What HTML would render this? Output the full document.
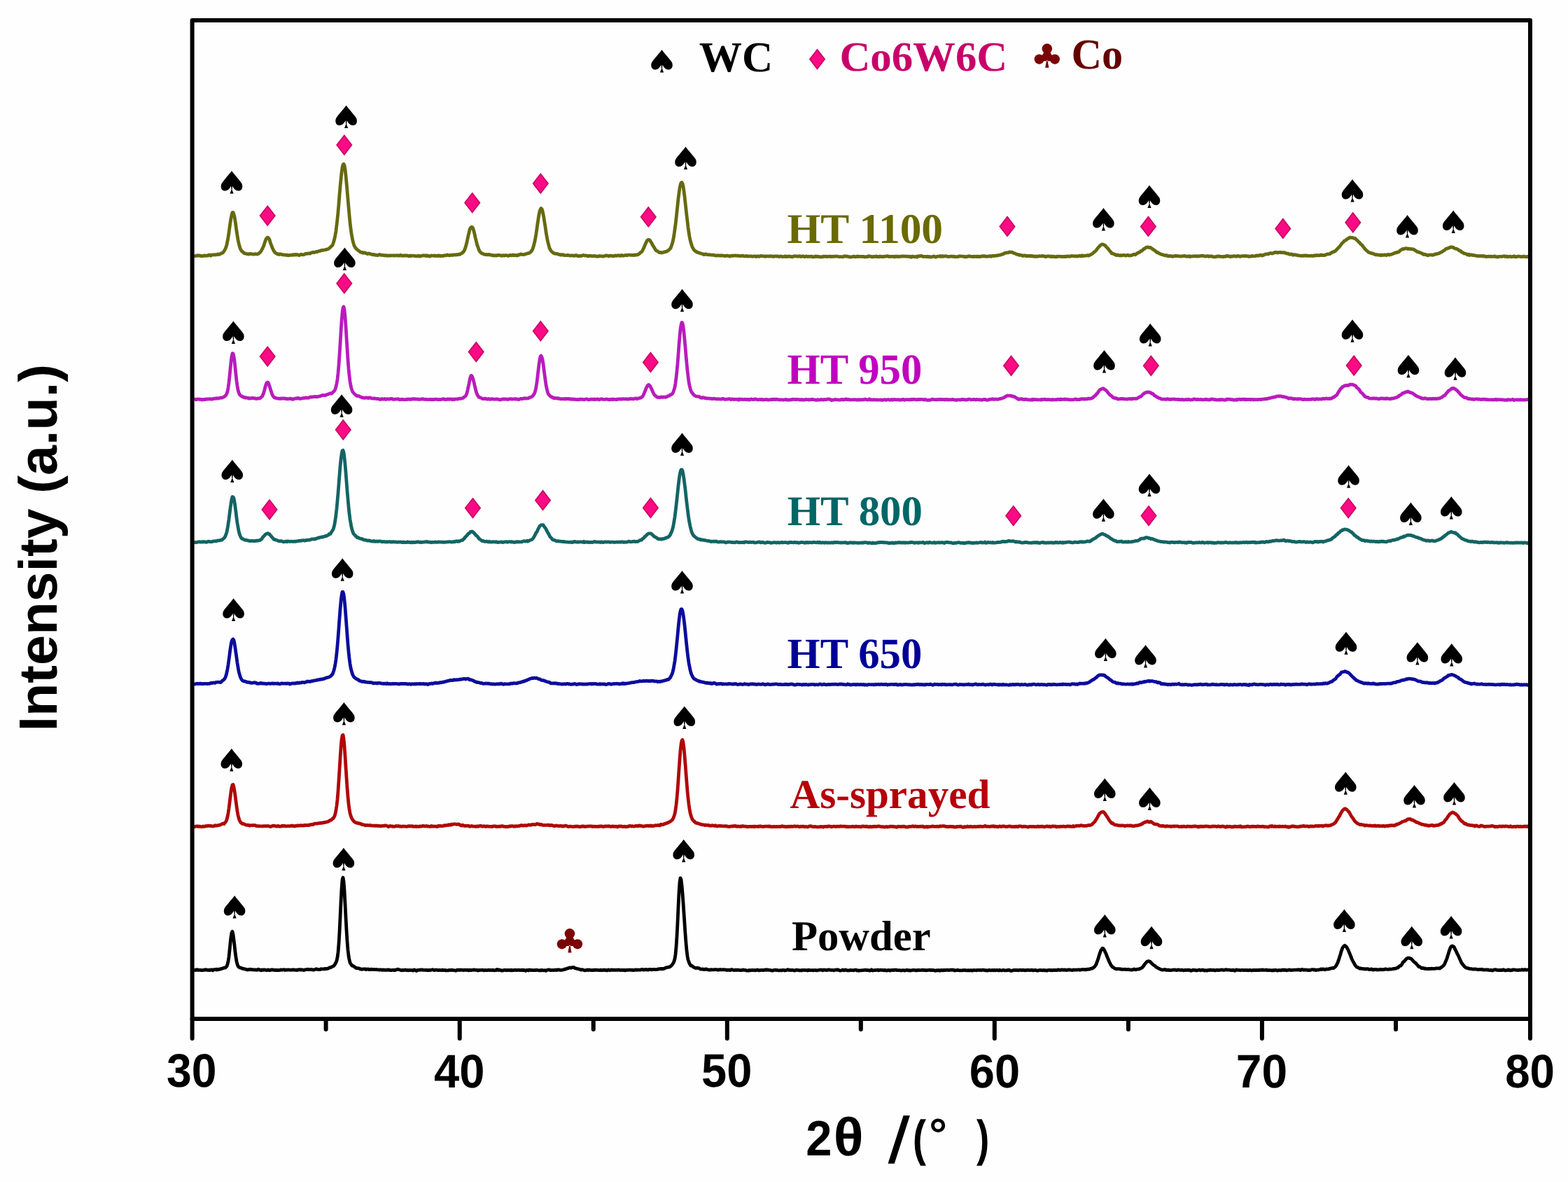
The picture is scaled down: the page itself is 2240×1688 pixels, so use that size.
<!DOCTYPE html>
<html><head><meta charset="utf-8"><title>XRD</title><style>html,body{margin:0;padding:0;background:#fff;overflow:hidden}svg{display:block}text{text-rendering:geometricPrecision}.ser{font-family:"Liberation Serif","Times New Roman",serif;font-weight:bold}.san{font-family:"Liberation Sans",Arial,sans-serif;font-weight:bold}</style></head><body>
<svg xmlns="http://www.w3.org/2000/svg" width="2240" height="1688" viewBox="0 0 2240 1688">
<rect width="2240" height="1688" fill="#fefefe"/>
<g fill="none" stroke-width="4.8" stroke-linejoin="round" stroke-linecap="round">
<path stroke="#666a10" d="M278,365.6 279,365.7 280,365.5 281,364.9 282,365.1 283,364.8 284,365.2 285,364.8 286,365.3 287,365.4 288,365.9 289,365.6 290,365.6 291,365.2 292,364.9 293,365.4 294,365.1 295,365.1 296,365.0 297,365.1 298,364.3 299,363.9 300,364.4 301,365.2 302,364.1 303,364.0 304,364.1 305,363.9 306,363.8 307,363.7 308,364.0 309,363.7 310,363.6 311,362.9 312,363.1 313,363.4 314,363.1 315,362.4 316,361.6 317,361.5 318,361.1 319,360.3 320,358.6 321,357.3 322,355.3 323,352.6 324,349.3 325,344.3 326,338.6 327,332.5 328,324.8 329,317.8 330,311.7 331,306.6 332,303.4 333,303.5 334,306.0 335,309.7 336,315.7 337,322.6 338,330.2 339,336.3 340,342.4 341,347.0 342,351.0 343,354.4 344,356.6 345,358.2 346,359.2 347,359.7 348,360.9 349,361.8 350,361.8 351,361.9 352,362.6 353,362.7 354,362.7 355,363.0 356,362.6 357,362.5 358,362.8 359,362.5 360,362.8 361,363.0 362,363.2 363,363.2 364,362.6 365,362.7 366,362.8 367,363.0 368,362.9 369,362.3 370,361.8 371,360.8 372,359.9 373,358.6 374,356.7 375,354.8 376,352.8 377,350.3 378,347.1 379,344.0 380,341.6 381,340.0 382,339.2 383,339.4 384,340.4 385,342.4 386,345.7 387,348.6 388,350.9 389,353.9 390,355.9 391,358.0 392,359.4 393,360.8 394,361.4 395,362.0 396,362.7 397,363.2 398,362.7 399,363.5 400,362.9 401,362.9 402,363.2 403,363.7 404,363.8 405,363.7 406,364.2 407,364.1 408,364.1 409,364.3 410,364.0 411,364.7 412,364.8 413,364.4 414,364.3 415,364.2 416,364.4 417,364.3 418,363.9 419,363.6 420,364.2 421,363.6 422,363.5 423,364.0 424,363.4 425,363.8 426,364.0 427,364.5 428,364.4 429,363.9 430,363.2 431,363.6 432,363.7 433,363.8 434,363.7 435,363.1 436,362.7 437,362.2 438,362.3 439,362.4 440,361.9 441,361.8 442,362.0 443,362.1 444,361.3 445,361.0 446,360.5 447,360.2 448,360.5 449,360.6 450,360.0 451,359.7 452,359.4 453,359.8 454,359.2 455,358.8 456,358.4 457,358.5 458,358.1 459,357.4 460,357.6 461,357.5 462,357.2 463,357.0 464,356.8 465,356.5 466,356.5 467,356.1 468,355.8 469,355.4 470,354.8 471,354.0 472,353.2 473,351.8 474,351.2 475,350.1 476,347.5 477,344.2 478,340.5 479,335.5 480,329.6 481,321.2 482,312.8 483,302.7 484,291.1 485,278.2 486,266.5 487,256.1 488,246.5 489,239.1 490,235.1 491,234.2 492,236.2 493,241.9 494,250.5 495,260.9 496,272.5 497,284.3 498,295.8 499,306.9 500,317.6 501,326.2 502,333.5 503,338.9 504,344.1 505,347.6 506,350.9 507,352.6 508,354.1 509,355.3 510,356.2 511,357.0 512,357.8 513,358.5 514,359.1 515,360.1 516,360.3 517,360.6 518,360.5 519,361.4 520,361.2 521,360.7 522,361.4 523,361.9 524,361.8 525,362.6 526,362.1 527,362.0 528,362.4 529,362.6 530,362.8 531,363.3 532,363.3 533,363.9 534,363.3 535,363.7 536,364.4 537,364.2 538,364.3 539,364.6 540,364.4 541,364.2 542,363.4 543,363.7 544,364.4 545,364.4 546,364.2 547,364.5 548,364.6 549,364.8 550,364.7 551,364.9 552,364.6 553,365.3 554,365.2 555,364.9 556,365.1 557,365.0 558,365.1 559,364.8 560,364.8 561,364.8 562,364.8 563,365.1 564,364.8 565,364.8 566,365.0 567,364.7 568,364.9 569,365.0 570,365.1 571,365.1 572,364.2 573,364.8 574,365.1 575,364.9 576,365.3 577,365.2 578,364.9 579,364.9 580,365.1 581,365.0 582,364.9 583,365.3 584,365.8 585,365.3 586,365.0 587,365.7 588,365.3 589,365.2 590,365.2 591,365.3 592,365.4 593,365.5 594,365.8 595,365.8 596,365.9 597,365.1 598,365.4 599,366.1 600,365.5 601,365.9 602,365.3 603,365.2 604,365.1 605,364.7 606,365.0 607,364.9 608,365.5 609,365.1 610,364.7 611,365.7 612,365.5 613,365.5 614,366.1 615,365.6 616,365.0 617,365.1 618,365.2 619,365.2 620,365.4 621,365.0 622,365.5 623,365.3 624,365.2 625,365.8 626,364.9 627,364.9 628,365.5 629,365.5 630,365.5 631,365.2 632,365.5 633,365.5 634,365.0 635,364.7 636,364.6 637,364.8 638,364.7 639,363.9 640,364.2 641,364.5 642,364.9 643,364.7 644,364.2 645,364.2 646,364.5 647,364.0 648,364.0 649,363.8 650,364.0 651,364.0 652,363.6 653,363.8 654,363.6 655,363.2 656,363.2 657,363.3 658,362.5 659,361.9 660,361.7 661,360.5 662,359.6 663,358.4 664,356.0 665,353.3 666,349.7 667,345.9 668,341.1 669,336.3 670,332.2 671,327.9 672,325.8 673,324.6 674,324.1 675,324.8 676,326.9 677,330.4 678,334.3 679,339.0 680,343.0 681,347.3 682,350.7 683,353.3 684,356.3 685,358.5 686,359.8 687,360.8 688,361.6 689,362.1 690,362.3 691,362.9 692,363.3 693,363.5 694,363.5 695,363.5 696,363.6 697,363.9 698,363.5 699,363.5 700,364.0 701,363.9 702,364.5 703,364.5 704,364.5 705,364.9 706,365.1 707,364.9 708,364.7 709,365.1 710,364.6 711,364.4 712,364.5 713,364.3 714,364.3 715,364.8 716,365.2 717,365.0 718,365.0 719,364.6 720,365.1 721,365.0 722,364.6 723,364.7 724,364.8 725,365.0 726,365.4 727,365.2 728,364.4 729,364.5 730,364.9 731,364.4 732,364.7 733,364.0 734,364.8 735,364.3 736,364.6 737,364.3 738,365.0 739,364.5 740,364.6 741,363.7 742,363.9 743,363.5 744,362.9 745,363.2 746,363.3 747,363.7 748,363.6 749,363.2 750,363.1 751,363.0 752,362.2 753,362.2 754,361.9 755,361.7 756,361.3 757,360.8 758,359.9 759,358.8 760,357.3 761,355.5 762,352.3 763,348.6 764,344.6 765,339.2 766,333.3 767,326.3 768,319.1 769,312.5 770,306.5 771,301.9 772,299.1 773,297.5 774,298.3 775,301.2 776,305.7 777,311.7 778,317.8 779,323.9 780,331.2 781,337.0 782,342.6 783,347.0 784,350.5 785,354.6 786,356.0 787,357.9 788,359.2 789,359.9 790,360.9 791,361.6 792,361.9 793,362.2 794,362.4 795,362.3 796,362.3 797,362.9 798,363.1 799,363.7 800,363.5 801,364.1 802,363.6 803,364.0 804,363.7 805,363.9 806,364.7 807,364.7 808,364.7 809,364.6 810,364.6 811,364.3 812,364.6 813,364.7 814,365.1 815,365.1 816,364.9 817,364.9 818,365.0 819,364.9 820,365.4 821,364.9 822,365.0 823,364.5 824,364.8 825,365.4 826,365.8 827,365.6 828,365.5 829,365.5 830,365.4 831,365.3 832,364.8 833,364.5 834,364.6 835,365.0 836,365.2 837,364.8 838,365.1 839,365.3 840,365.9 841,365.6 842,365.1 843,365.4 844,365.4 845,365.7 846,365.9 847,365.7 848,365.5 849,365.4 850,365.6 851,365.8 852,366.2 853,365.8 854,366.0 855,366.3 856,365.6 857,365.4 858,365.9 859,365.8 860,365.9 861,365.8 862,366.2 863,365.8 864,365.5 865,365.1 866,364.9 867,364.9 868,365.3 869,365.3 870,366.0 871,365.2 872,365.1 873,365.1 874,365.5 875,365.5 876,365.9 877,365.7 878,365.1 879,364.9 880,365.3 881,365.1 882,365.2 883,364.7 884,364.9 885,365.0 886,365.4 887,365.0 888,364.5 889,365.0 890,365.1 891,365.1 892,364.8 893,364.5 894,364.3 895,364.6 896,364.8 897,364.2 898,364.2 899,364.0 900,364.2 901,364.3 902,364.4 903,364.3 904,364.4 905,364.6 906,363.9 907,364.3 908,363.9 909,364.0 910,363.8 911,363.9 912,362.8 913,362.7 914,361.8 915,360.5 916,360.2 917,359.1 918,357.6 919,355.4 920,353.2 921,351.0 922,348.3 923,346.5 924,344.3 925,343.0 926,342.5 927,342.4 928,342.8 929,344.0 930,345.8 931,347.2 932,349.3 933,351.1 934,352.7 935,354.2 936,355.9 937,357.5 938,358.0 939,358.7 940,359.2 941,360.0 942,360.6 943,360.6 944,360.3 945,361.0 946,360.8 947,360.6 948,360.2 949,359.7 950,360.0 951,359.3 952,359.0 953,359.0 954,357.9 955,357.4 956,356.5 957,355.4 958,354.3 959,351.6 960,349.0 961,345.5 962,341.1 963,335.0 964,327.8 965,320.6 966,312.1 967,302.2 968,293.3 969,283.6 970,275.7 971,268.5 972,263.9 973,261.1 974,260.6 975,262.1 976,266.1 977,272.9 978,280.5 979,289.8 980,298.8 981,307.8 982,316.0 983,324.6 984,331.6 985,337.9 986,342.9 987,346.5 988,349.9 989,352.8 990,354.4 991,356.3 992,357.6 993,358.4 994,358.7 995,360.0 996,359.9 997,360.5 998,361.0 999,361.2 1000,361.6 1001,362.0 1002,362.2 1003,362.5 1004,362.7 1005,363.5 1006,363.6 1007,363.1 1008,362.8 1009,363.1 1010,363.7 1011,363.7 1012,363.8 1013,363.7 1014,363.7 1015,364.2 1016,364.1 1017,364.1 1018,364.1 1019,364.4 1020,364.2 1021,364.8 1022,364.8 1023,365.1 1024,364.8 1025,364.7 1026,365.0 1027,364.8 1028,364.8 1029,365.2 1030,364.8 1031,365.1 1032,364.9 1033,365.2 1034,365.3 1035,365.4 1036,365.7 1037,365.1 1038,365.2 1039,365.0 1040,365.4 1041,365.4 1042,366.1 1043,366.0 1044,365.4 1045,365.4 1046,365.0 1047,365.3 1048,365.2 1049,365.0 1050,364.8 1051,365.2 1052,365.2 1053,365.0 1054,365.4 1055,365.4 1056,365.2 1057,365.6 1058,365.6 1059,365.4 1060,365.1 1061,365.1 1062,365.5 1063,365.9 1064,365.8 1065,366.0 1066,365.6 1067,365.5 1068,366.1 1069,365.9 1070,365.9 1071,366.0 1072,365.8 1073,365.8 1074,366.1 1075,366.3 1076,366.2 1077,365.8 1078,365.9 1079,366.0 1080,366.5 1081,366.1 1082,365.9 1083,365.9 1084,366.4 1085,366.0 1086,365.9 1087,365.5 1088,365.5 1089,365.7 1090,365.9 1091,365.8 1092,365.9 1093,366.4 1094,365.8 1095,366.0 1096,365.9 1097,365.9 1098,366.0 1099,366.1 1100,365.9 1101,365.6 1102,366.1 1103,366.1 1104,365.8 1105,366.5 1106,366.3 1107,366.0 1108,365.7 1109,366.0 1110,366.1 1111,365.9 1112,366.2 1113,366.6 1114,366.3 1115,366.0 1116,366.1 1117,366.4 1118,366.7 1119,366.5 1120,366.3 1121,366.0 1122,366.5 1123,365.9 1124,366.5 1125,366.5 1126,366.4 1127,365.9 1128,366.1 1129,366.5 1130,366.7 1131,366.3 1132,366.8 1133,366.3 1134,365.8 1135,365.7 1136,365.8 1137,366.0 1138,365.9 1139,366.0 1140,366.1 1141,366.3 1142,365.7 1143,365.9 1144,366.6 1145,366.4 1146,366.2 1147,365.7 1148,366.0 1149,366.6 1150,366.7 1151,366.2 1152,365.9 1153,366.4 1154,366.5 1155,366.2 1156,366.3 1157,366.5 1158,366.3 1159,366.1 1160,366.4 1161,367.1 1162,366.8 1163,366.5 1164,366.5 1165,366.0 1166,366.6 1167,366.0 1168,366.3 1169,366.7 1170,366.4 1171,366.8 1172,367.0 1173,366.8 1174,366.6 1175,366.9 1176,366.1 1177,366.3 1178,366.2 1179,366.3 1180,366.2 1181,366.5 1182,366.5 1183,366.4 1184,366.3 1185,366.2 1186,366.0 1187,366.6 1188,366.3 1189,366.3 1190,366.2 1191,366.5 1192,366.2 1193,366.0 1194,366.1 1195,366.2 1196,366.0 1197,366.3 1198,366.5 1199,366.7 1200,366.7 1201,366.7 1202,366.7 1203,366.7 1204,366.8 1205,366.7 1206,365.9 1207,365.7 1208,366.0 1209,366.3 1210,365.9 1211,366.4 1212,366.4 1213,367.1 1214,366.7 1215,367.0 1216,367.0 1217,366.9 1218,366.7 1219,366.2 1220,366.2 1221,366.7 1222,366.8 1223,366.5 1224,366.4 1225,366.0 1226,366.5 1227,366.4 1228,366.4 1229,366.3 1230,366.5 1231,366.4 1232,366.3 1233,366.5 1234,366.3 1235,367.0 1236,366.8 1237,366.9 1238,366.6 1239,366.4 1240,366.5 1241,365.6 1242,365.9 1243,366.1 1244,366.1 1245,366.7 1246,367.0 1247,366.6 1248,366.4 1249,366.6 1250,366.4 1251,366.1 1252,366.0 1253,366.7 1254,366.4 1255,366.9 1256,366.7 1257,366.0 1258,366.2 1259,366.7 1260,366.7 1261,366.4 1262,366.5 1263,366.5 1264,366.2 1265,366.1 1266,366.1 1267,365.6 1268,365.7 1269,366.0 1270,366.5 1271,366.2 1272,366.5 1273,366.5 1274,366.3 1275,366.2 1276,366.4 1277,366.4 1278,367.0 1279,366.2 1280,366.1 1281,366.5 1282,366.2 1283,366.2 1284,366.7 1285,366.5 1286,366.2 1287,366.3 1288,366.0 1289,366.0 1290,366.2 1291,365.8 1292,366.1 1293,366.1 1294,366.0 1295,366.2 1296,366.4 1297,366.2 1298,366.2 1299,366.5 1300,366.2 1301,366.9 1302,367.3 1303,366.2 1304,366.1 1305,366.5 1306,366.8 1307,366.7 1308,366.3 1309,366.4 1310,367.2 1311,365.9 1312,366.0 1313,365.7 1314,365.9 1315,365.6 1316,365.4 1317,365.6 1318,366.2 1319,366.7 1320,366.3 1321,366.4 1322,366.3 1323,366.3 1324,366.8 1325,366.2 1326,366.7 1327,367.0 1328,366.4 1329,366.8 1330,367.1 1331,366.8 1332,366.6 1333,366.2 1334,366.0 1335,366.5 1336,367.0 1337,367.2 1338,366.3 1339,366.3 1340,366.2 1341,366.2 1342,366.1 1343,365.5 1344,366.3 1345,366.3 1346,365.5 1347,366.2 1348,366.4 1349,365.9 1350,365.9 1351,365.6 1352,365.9 1353,366.4 1354,366.3 1355,366.5 1356,366.4 1357,366.3 1358,366.2 1359,366.1 1360,366.1 1361,366.3 1362,366.4 1363,366.2 1364,366.8 1365,366.7 1366,366.7 1367,366.6 1368,366.6 1369,366.5 1370,365.9 1371,366.0 1372,365.8 1373,366.0 1374,366.2 1375,366.1 1376,366.2 1377,366.4 1378,367.0 1379,366.5 1380,366.5 1381,366.8 1382,366.5 1383,366.0 1384,366.1 1385,365.7 1386,366.1 1387,366.3 1388,366.3 1389,366.5 1390,366.5 1391,366.5 1392,366.1 1393,366.3 1394,366.4 1395,366.6 1396,366.2 1397,366.0 1398,366.6 1399,366.3 1400,366.6 1401,366.2 1402,366.2 1403,365.7 1404,366.2 1405,366.0 1406,365.5 1407,366.2 1408,366.1 1409,366.4 1410,366.2 1411,366.2 1412,366.1 1413,366.0 1414,365.6 1415,365.6 1416,366.3 1417,365.4 1418,365.5 1419,365.2 1420,365.6 1421,365.4 1422,365.2 1423,365.0 1424,365.1 1425,364.9 1426,364.5 1427,364.3 1428,364.4 1429,364.0 1430,363.7 1431,363.3 1432,363.0 1433,363.0 1434,362.1 1435,361.5 1436,361.3 1437,361.2 1438,360.9 1439,360.9 1440,360.9 1441,360.4 1442,359.9 1443,360.3 1444,360.1 1445,360.1 1446,360.2 1447,360.9 1448,361.6 1449,361.7 1450,361.8 1451,362.3 1452,363.2 1453,363.4 1454,363.3 1455,363.5 1456,364.3 1457,364.2 1458,364.4 1459,364.4 1460,364.8 1461,365.5 1462,364.9 1463,365.0 1464,365.1 1465,364.9 1466,365.8 1467,365.4 1468,365.5 1469,365.6 1470,365.4 1471,365.6 1472,365.1 1473,365.9 1474,365.3 1475,365.6 1476,366.2 1477,365.8 1478,366.3 1479,366.4 1480,365.9 1481,366.4 1482,366.2 1483,366.2 1484,366.0 1485,365.6 1486,365.8 1487,365.9 1488,365.7 1489,365.4 1490,366.0 1491,365.8 1492,365.6 1493,366.4 1494,366.8 1495,366.2 1496,366.0 1497,366.1 1498,365.7 1499,366.2 1500,366.2 1501,366.5 1502,366.0 1503,366.5 1504,366.2 1505,366.5 1506,366.2 1507,366.9 1508,366.6 1509,366.9 1510,366.1 1511,366.4 1512,366.4 1513,366.2 1514,366.2 1515,366.3 1516,366.3 1517,366.7 1518,366.3 1519,366.5 1520,366.5 1521,366.5 1522,366.1 1523,366.5 1524,366.1 1525,366.2 1526,365.8 1527,365.9 1528,366.3 1529,366.1 1530,365.6 1531,365.5 1532,365.7 1533,365.7 1534,365.6 1535,365.9 1536,366.1 1537,365.6 1538,365.7 1539,366.1 1540,366.1 1541,365.4 1542,365.3 1543,365.2 1544,366.0 1545,365.7 1546,364.8 1547,365.5 1548,365.6 1549,365.2 1550,365.1 1551,365.1 1552,365.1 1553,364.8 1554,364.5 1555,365.1 1556,364.8 1557,364.2 1558,363.6 1559,363.2 1560,362.7 1561,361.8 1562,361.0 1563,359.9 1564,359.5 1565,358.4 1566,357.4 1567,356.0 1568,354.8 1569,353.4 1570,352.4 1571,351.3 1572,350.3 1573,349.6 1574,348.8 1575,349.2 1576,349.1 1577,349.6 1578,350.2 1579,350.5 1580,352.2 1581,353.1 1582,354.4 1583,355.1 1584,356.5 1585,358.0 1586,359.0 1587,359.9 1588,361.8 1589,362.2 1590,362.2 1591,362.7 1592,363.0 1593,363.5 1594,364.0 1595,364.5 1596,364.4 1597,363.9 1598,364.6 1599,364.8 1600,364.8 1601,364.5 1602,365.0 1603,364.8 1604,364.6 1605,364.2 1606,364.5 1607,364.7 1608,365.0 1609,365.0 1610,364.3 1611,364.2 1612,364.7 1613,365.0 1614,365.0 1615,364.9 1616,364.6 1617,364.5 1618,364.1 1619,363.4 1620,363.2 1621,363.8 1622,363.8 1623,362.7 1624,362.0 1625,361.5 1626,361.1 1627,360.2 1628,360.4 1629,359.3 1630,358.4 1631,358.3 1632,357.4 1633,356.6 1634,355.3 1635,355.3 1636,354.5 1637,353.5 1638,353.4 1639,352.9 1640,353.0 1641,353.4 1642,353.5 1643,353.4 1644,353.8 1645,354.5 1646,355.3 1647,355.8 1648,356.8 1649,357.3 1650,358.0 1651,358.9 1652,360.0 1653,360.6 1654,360.4 1655,361.3 1656,361.8 1657,362.3 1658,362.9 1659,363.1 1660,363.6 1661,363.7 1662,364.0 1663,364.5 1664,364.8 1665,365.0 1666,364.4 1667,364.8 1668,365.6 1669,365.8 1670,365.3 1671,365.9 1672,365.6 1673,365.7 1674,365.9 1675,366.4 1676,366.0 1677,365.8 1678,365.3 1679,365.6 1680,365.3 1681,365.6 1682,365.6 1683,365.6 1684,365.8 1685,365.9 1686,366.2 1687,366.1 1688,365.8 1689,365.9 1690,365.7 1691,365.6 1692,365.3 1693,365.6 1694,366.0 1695,366.0 1696,366.3 1697,366.1 1698,365.9 1699,365.7 1700,366.6 1701,366.0 1702,366.1 1703,366.2 1704,365.8 1705,365.9 1706,365.9 1707,365.6 1708,366.1 1709,365.7 1710,365.9 1711,366.0 1712,365.6 1713,365.9 1714,365.8 1715,365.6 1716,365.2 1717,365.4 1718,365.4 1719,365.2 1720,365.8 1721,365.9 1722,366.2 1723,366.1 1724,365.7 1725,365.5 1726,365.8 1727,366.4 1728,365.8 1729,365.8 1730,366.1 1731,365.9 1732,366.4 1733,366.7 1734,366.9 1735,366.9 1736,366.9 1737,366.5 1738,366.4 1739,366.1 1740,365.8 1741,366.1 1742,366.0 1743,366.4 1744,366.3 1745,366.4 1746,366.4 1747,366.8 1748,366.6 1749,366.2 1750,366.4 1751,366.4 1752,365.6 1753,365.2 1754,365.5 1755,366.1 1756,366.2 1757,366.0 1758,366.7 1759,366.0 1760,366.2 1761,365.9 1762,366.1 1763,365.6 1764,365.9 1765,365.8 1766,366.3 1767,365.8 1768,365.4 1769,365.9 1770,365.6 1771,366.3 1772,366.3 1773,365.8 1774,365.6 1775,365.6 1776,365.6 1777,365.5 1778,365.6 1779,365.9 1780,365.5 1781,365.6 1782,365.8 1783,365.8 1784,366.5 1785,366.2 1786,366.2 1787,365.9 1788,366.0 1789,365.4 1790,365.7 1791,365.9 1792,365.9 1793,365.8 1794,365.1 1795,364.9 1796,365.3 1797,364.9 1798,365.2 1799,364.9 1800,364.3 1801,364.1 1802,364.2 1803,365.1 1804,364.8 1805,364.5 1806,363.5 1807,363.3 1808,363.0 1809,363.0 1810,362.8 1811,362.6 1812,362.8 1813,362.0 1814,361.8 1815,361.3 1816,361.7 1817,362.0 1818,361.9 1819,361.5 1820,360.8 1821,360.4 1822,360.7 1823,360.2 1824,360.9 1825,360.6 1826,360.8 1827,360.3 1828,360.3 1829,360.6 1830,360.4 1831,360.7 1832,360.7 1833,360.9 1834,360.6 1835,360.7 1836,361.1 1837,361.7 1838,362.0 1839,362.1 1840,362.0 1841,362.6 1842,363.2 1843,363.3 1844,362.9 1845,362.9 1846,363.2 1847,364.2 1848,363.8 1849,363.6 1850,363.6 1851,364.1 1852,364.1 1853,364.4 1854,364.9 1855,364.8 1856,364.9 1857,365.1 1858,365.3 1859,365.2 1860,365.4 1861,365.2 1862,365.4 1863,364.9 1864,364.9 1865,365.3 1866,365.0 1867,364.9 1868,365.5 1869,365.3 1870,365.4 1871,365.3 1872,365.3 1873,365.1 1874,365.3 1875,365.4 1876,365.5 1877,365.1 1878,364.7 1879,365.2 1880,364.8 1881,364.4 1882,364.5 1883,364.9 1884,364.9 1885,364.6 1886,364.5 1887,364.0 1888,364.1 1889,364.6 1890,364.4 1891,364.7 1892,364.6 1893,364.4 1894,363.7 1895,363.4 1896,363.0 1897,362.9 1898,362.8 1899,362.6 1900,362.7 1901,361.3 1902,361.1 1903,360.2 1904,360.3 1905,359.7 1906,359.0 1907,359.0 1908,358.1 1909,357.0 1910,355.8 1911,355.1 1912,353.7 1913,352.9 1914,351.9 1915,350.2 1916,349.1 1917,347.5 1918,346.7 1919,345.8 1920,344.5 1921,343.8 1922,343.3 1923,342.5 1924,342.0 1925,340.9 1926,340.5 1927,340.3 1928,339.1 1929,339.1 1930,339.4 1931,339.4 1932,339.4 1933,339.7 1934,340.2 1935,340.5 1936,340.5 1937,341.7 1938,342.5 1939,343.4 1940,344.3 1941,345.6 1942,346.2 1943,347.6 1944,348.8 1945,349.3 1946,350.4 1947,351.6 1948,353.2 1949,354.0 1950,355.7 1951,356.4 1952,357.7 1953,358.3 1954,359.1 1955,360.4 1956,360.4 1957,361.1 1958,361.1 1959,361.6 1960,361.6 1961,362.3 1962,362.2 1963,363.0 1964,363.3 1965,363.6 1966,363.9 1967,363.7 1968,363.8 1969,364.2 1970,364.3 1971,364.2 1972,364.0 1973,364.8 1974,364.1 1975,364.1 1976,364.4 1977,364.4 1978,363.9 1979,363.8 1980,364.4 1981,364.5 1982,363.9 1983,363.3 1984,363.5 1985,364.0 1986,363.7 1987,363.5 1988,363.1 1989,362.8 1990,362.5 1991,361.9 1992,361.6 1993,360.9 1994,361.0 1995,360.5 1996,360.5 1997,359.8 1998,360.0 1999,359.1 2000,357.8 2001,357.2 2002,356.6 2003,356.2 2004,355.4 2005,355.6 2006,355.5 2007,354.9 2008,354.8 2009,354.6 2010,354.8 2011,355.5 2012,355.1 2013,355.3 2014,355.2 2015,355.7 2016,355.9 2017,355.7 2018,355.9 2019,356.0 2020,356.5 2021,357.2 2022,357.7 2023,358.4 2024,359.3 2025,359.5 2026,360.1 2027,359.8 2028,360.6 2029,360.8 2030,361.4 2031,361.9 2032,362.0 2033,363.2 2034,363.5 2035,363.2 2036,363.1 2037,363.9 2038,364.2 2039,364.3 2040,364.9 2041,364.2 2042,364.2 2043,364.0 2044,363.8 2045,363.9 2046,364.4 2047,363.8 2048,364.0 2049,363.7 2050,362.9 2051,363.2 2052,362.7 2053,362.4 2054,362.3 2055,361.9 2056,361.7 2057,361.1 2058,360.3 2059,360.2 2060,359.6 2061,358.8 2062,358.2 2063,357.6 2064,357.0 2065,355.9 2066,355.2 2067,355.2 2068,354.8 2069,354.1 2070,354.0 2071,353.5 2072,353.4 2073,352.6 2074,353.2 2075,353.3 2076,353.1 2077,354.2 2078,354.7 2079,355.2 2080,355.1 2081,355.4 2082,356.0 2083,356.3 2084,357.5 2085,358.0 2086,357.8 2087,358.9 2088,360.1 2089,360.2 2090,361.0 2091,361.5 2092,362.2 2093,362.2 2094,362.3 2095,362.9 2096,363.9 2097,363.6 2098,363.1 2099,364.5 2100,363.8 2101,364.1 2102,363.9 2103,364.2 2104,364.7 2105,364.3 2106,364.5 2107,364.9 2108,365.1 2109,365.2 2110,365.5 2111,365.6 2112,365.5 2113,365.7 2114,365.9 2115,365.6 2116,365.5 2117,365.7 2118,366.0 2119,365.3 2120,366.2 2121,365.9 2122,366.2 2123,366.7 2124,366.3 2125,366.3 2126,366.2 2127,366.3 2128,366.1 2129,366.3 2130,366.2 2131,366.5 2132,366.3 2133,366.4 2134,366.3 2135,365.8 2136,366.5 2137,366.7 2138,366.6 2139,367.0 2140,367.0 2141,366.4 2142,366.3 2143,366.3 2144,366.3 2145,366.5 2146,366.3 2147,366.0 2148,365.8 2149,365.6 2150,366.5 2151,366.4 2152,366.0 2153,366.5 2154,366.9 2155,366.3 2156,366.4 2157,366.2 2158,366.4 2159,366.8 2160,366.6 2161,366.3 2162,366.4 2163,365.8 2164,366.7 2165,366.3 2166,366.8 2167,366.7 2168,366.1 2169,366.1 2170,366.2 2171,366.2 2172,366.7 2173,366.5 2174,366.7 2175,366.5 2176,366.4 2177,366.0 2178,366.7 2179,366.7 2180,366.6 2181,366.8 2182,366.4 2183,366.7"/>
<path stroke="#b81cbc" d="M278,570.1 279,570.1 280,570.8 281,570.3 282,569.9 283,570.1 284,570.2 285,570.4 286,570.2 287,570.6 288,570.5 289,571.0 290,570.6 291,570.4 292,570.6 293,570.5 294,570.0 295,570.2 296,569.9 297,570.2 298,569.9 299,569.9 300,569.6 301,569.8 302,570.1 303,570.1 304,569.6 305,569.2 306,569.5 307,569.2 308,568.9 309,569.2 310,568.7 311,568.9 312,569.1 313,568.7 314,568.2 315,568.0 316,568.3 317,567.9 318,567.8 319,567.2 320,566.6 321,566.0 322,565.2 323,563.9 324,562.0 325,558.9 326,553.6 327,546.3 328,537.3 329,527.1 330,516.9 331,509.3 332,504.7 333,505.1 334,508.8 335,515.7 336,525.3 337,534.9 338,544.0 339,551.1 340,557.0 341,560.3 342,562.8 343,564.3 344,565.2 345,565.5 346,566.5 347,566.5 348,567.2 349,567.7 350,568.0 351,567.6 352,568.2 353,568.2 354,568.5 355,568.5 356,569.1 357,568.8 358,568.7 359,568.9 360,568.4 361,568.5 362,568.6 363,568.8 364,568.7 365,569.2 366,569.5 367,569.3 368,568.9 369,568.8 370,569.0 371,568.9 372,568.3 373,567.3 374,566.7 375,565.3 376,563.1 377,560.1 378,556.3 379,552.4 380,549.0 381,546.9 382,546.0 383,546.3 384,548.2 385,551.6 386,554.5 387,557.9 388,560.7 389,563.9 390,565.4 391,567.0 392,567.8 393,568.0 394,568.5 395,568.7 396,568.9 397,569.0 398,569.2 399,569.3 400,569.1 401,569.4 402,569.1 403,568.9 404,569.1 405,569.0 406,569.1 407,569.0 408,569.5 409,569.7 410,569.4 411,569.8 412,569.6 413,569.4 414,569.1 415,569.5 416,569.4 417,569.5 418,570.3 419,570.1 420,569.7 421,569.2 422,569.1 423,569.0 424,569.0 425,568.4 426,568.9 427,568.7 428,569.5 429,569.1 430,569.2 431,569.1 432,568.7 433,568.7 434,568.5 435,568.4 436,568.3 437,567.7 438,568.3 439,568.3 440,568.0 441,568.3 442,567.6 443,566.9 444,567.2 445,567.0 446,567.0 447,566.8 448,566.7 449,566.4 450,566.5 451,566.6 452,566.5 453,566.8 454,566.5 455,566.2 456,566.0 457,565.9 458,565.5 459,565.0 460,564.7 461,564.3 462,564.5 463,564.5 464,564.6 465,564.6 466,564.1 467,563.3 468,563.2 469,563.1 470,562.4 471,562.1 472,561.7 473,562.2 474,561.8 475,560.7 476,559.8 477,558.9 478,557.6 479,555.6 480,552.3 481,547.7 482,541.8 483,532.8 484,521.4 485,506.9 486,490.8 487,474.1 488,458.6 489,446.8 490,439.6 491,438.0 492,442.5 493,452.8 494,465.9 495,481.8 496,498.1 497,513.2 498,526.3 499,536.3 500,544.6 501,550.3 502,554.8 503,557.6 504,559.9 505,561.0 506,562.1 507,563.1 508,563.9 509,564.6 510,565.5 511,565.3 512,565.7 513,565.6 514,566.4 515,567.1 516,567.2 517,567.6 518,568.1 519,568.0 520,568.2 521,568.4 522,568.1 523,567.9 524,568.1 525,568.1 526,568.6 527,568.0 528,567.9 529,568.0 530,568.6 531,568.8 532,568.9 533,569.0 534,569.0 535,568.9 536,569.2 537,569.3 538,569.5 539,569.5 540,569.5 541,569.6 542,570.2 543,570.5 544,570.3 545,569.5 546,569.8 547,570.2 548,570.1 549,569.5 550,569.6 551,570.5 552,570.1 553,569.6 554,569.7 555,570.1 556,570.1 557,569.7 558,569.3 559,569.7 560,569.4 561,570.0 562,570.4 563,570.3 564,570.2 565,570.1 566,570.0 567,569.9 568,569.8 569,569.7 570,570.4 571,570.8 572,570.5 573,570.5 574,570.2 575,570.3 576,570.6 577,570.7 578,570.7 579,570.7 580,570.7 581,570.2 582,570.5 583,569.9 584,570.1 585,570.3 586,570.4 587,569.8 588,570.3 589,570.0 590,569.5 591,569.9 592,570.1 593,569.7 594,570.1 595,570.2 596,570.2 597,569.9 598,570.4 599,570.4 600,570.3 601,570.0 602,570.0 603,570.1 604,569.7 605,569.8 606,570.4 607,570.3 608,570.3 609,570.2 610,570.5 611,570.7 612,570.5 613,570.3 614,570.5 615,570.6 616,570.4 617,570.5 618,570.5 619,570.6 620,570.5 621,570.2 622,570.3 623,570.2 624,570.2 625,570.7 626,570.7 627,570.5 628,570.5 629,570.5 630,570.5 631,570.2 632,570.1 633,569.6 634,569.9 635,570.6 636,570.2 637,570.6 638,570.1 639,570.0 640,570.4 641,569.9 642,569.8 643,570.3 644,570.0 645,570.2 646,570.7 647,570.0 648,570.2 649,570.5 650,570.1 651,569.8 652,569.9 653,569.9 654,570.0 655,569.3 656,569.2 657,569.4 658,569.3 659,568.9 660,568.9 661,568.7 662,567.9 663,567.0 664,566.6 665,565.6 666,563.9 667,561.3 668,557.3 669,552.5 670,547.9 671,542.7 672,538.6 673,536.4 674,536.7 675,539.0 676,542.3 677,545.6 678,550.2 679,554.4 680,558.6 681,561.7 682,564.0 683,565.6 684,567.2 685,567.4 686,567.9 687,568.1 688,568.8 689,569.4 690,569.4 691,569.7 692,569.5 693,569.1 694,569.4 695,570.1 696,569.8 697,570.0 698,569.5 699,569.9 700,570.3 701,570.2 702,569.6 703,569.8 704,569.7 705,570.2 706,570.2 707,570.1 708,570.2 709,569.8 710,569.9 711,570.2 712,570.3 713,570.7 714,570.6 715,571.0 716,570.3 717,570.2 718,570.2 719,569.8 720,570.1 721,570.0 722,570.0 723,570.0 724,570.2 725,570.4 726,570.1 727,570.3 728,569.7 729,569.7 730,569.6 731,570.0 732,570.0 733,569.8 734,569.9 735,569.9 736,569.5 737,570.1 738,569.9 739,570.1 740,570.2 741,570.6 742,570.1 743,569.7 744,569.4 745,569.4 746,569.5 747,569.4 748,569.1 749,568.7 750,568.7 751,569.1 752,569.0 753,568.8 754,568.8 755,568.6 756,567.8 757,567.8 758,567.2 759,567.0 760,566.2 761,565.5 762,564.1 763,562.6 764,560.6 765,557.1 766,552.3 767,545.5 768,537.6 769,528.8 770,520.4 771,513.7 772,509.0 773,508.1 774,510.0 775,513.5 776,519.5 777,527.4 778,535.4 779,542.4 780,549.6 781,554.5 782,558.8 783,561.9 784,563.6 785,564.5 786,565.6 787,566.2 788,567.1 789,567.0 790,567.8 791,568.7 792,568.5 793,568.4 794,568.7 795,568.8 796,568.7 797,568.5 798,569.4 799,569.1 800,569.3 801,569.6 802,569.8 803,569.8 804,569.5 805,569.7 806,569.9 807,569.5 808,569.9 809,569.3 810,569.7 811,569.5 812,569.5 813,569.9 814,569.6 815,569.9 816,570.3 817,569.8 818,570.0 819,570.4 820,570.1 821,570.2 822,570.4 823,570.5 824,570.7 825,570.3 826,570.8 827,570.7 828,570.4 829,570.0 830,570.4 831,570.3 832,570.1 833,570.5 834,570.7 835,570.7 836,570.2 837,570.0 838,569.8 839,570.1 840,570.6 841,570.8 842,570.9 843,570.2 844,570.3 845,570.1 846,570.2 847,570.4 848,570.5 849,569.9 850,570.5 851,570.3 852,570.5 853,569.9 854,570.2 855,570.4 856,570.9 857,570.1 858,570.1 859,569.9 860,569.7 861,570.4 862,570.3 863,570.4 864,570.4 865,570.3 866,570.2 867,569.9 868,570.3 869,570.5 870,570.3 871,570.8 872,570.6 873,570.2 874,570.4 875,570.5 876,570.0 877,570.3 878,570.5 879,570.3 880,570.5 881,570.6 882,570.0 883,570.3 884,570.0 885,569.8 886,570.1 887,569.9 888,570.1 889,569.9 890,569.6 891,569.9 892,569.8 893,569.9 894,569.7 895,569.9 896,569.9 897,570.2 898,569.8 899,569.9 900,569.6 901,569.1 902,569.6 903,569.6 904,569.6 905,569.8 906,569.3 907,569.1 908,568.9 909,568.9 910,569.7 911,569.2 912,569.0 913,568.6 914,568.4 915,568.0 916,568.0 917,566.9 918,566.1 919,564.3 920,562.3 921,559.7 922,557.4 923,554.6 924,552.5 925,550.8 926,549.7 927,549.5 928,550.7 929,551.8 930,554.1 931,555.6 932,558.3 933,560.6 934,562.4 935,564.1 936,564.8 937,565.8 938,566.7 939,567.4 940,567.4 941,567.5 942,567.5 943,567.7 944,567.3 945,566.7 946,567.3 947,567.3 948,566.8 949,566.9 950,567.1 951,567.3 952,566.6 953,566.5 954,565.6 955,565.5 956,565.2 957,564.3 958,563.4 959,563.5 960,562.6 961,561.7 962,559.3 963,556.3 964,553.0 965,547.3 966,539.3 967,530.1 968,519.1 969,506.4 970,492.5 971,480.6 972,470.0 973,464.0 974,460.5 975,461.5 976,466.5 977,474.4 978,484.9 979,495.9 980,507.7 981,518.9 982,529.1 983,537.5 984,545.3 985,550.5 986,554.6 987,557.8 988,560.2 989,561.0 990,562.5 991,563.9 992,564.6 993,565.2 994,565.9 995,566.2 996,566.1 997,566.2 998,566.7 999,566.4 1000,567.1 1001,568.1 1002,567.9 1003,568.3 1004,567.5 1005,567.8 1006,568.1 1007,568.5 1008,568.4 1009,569.0 1010,568.9 1011,568.9 1012,569.0 1013,569.3 1014,569.1 1015,569.2 1016,569.2 1017,569.7 1018,569.6 1019,569.2 1020,569.4 1021,569.3 1022,569.7 1023,569.7 1024,569.9 1025,569.9 1026,569.7 1027,569.8 1028,569.9 1029,570.0 1030,570.0 1031,569.9 1032,569.5 1033,569.3 1034,569.7 1035,570.3 1036,570.4 1037,570.1 1038,570.2 1039,570.2 1040,569.8 1041,569.8 1042,569.5 1043,569.9 1044,570.6 1045,570.4 1046,569.9 1047,570.2 1048,570.5 1049,570.1 1050,570.4 1051,570.4 1052,570.3 1053,570.2 1054,570.7 1055,571.2 1056,569.9 1057,570.2 1058,570.6 1059,570.1 1060,570.1 1061,570.4 1062,570.6 1063,570.6 1064,570.1 1065,570.3 1066,570.6 1067,570.8 1068,570.2 1069,570.8 1070,570.5 1071,571.0 1072,570.3 1073,569.9 1074,570.2 1075,570.6 1076,570.3 1077,570.5 1078,570.0 1079,569.9 1080,570.1 1081,570.3 1082,570.8 1083,570.8 1084,570.6 1085,570.6 1086,570.3 1087,570.8 1088,570.5 1089,570.4 1090,571.2 1091,570.7 1092,570.8 1093,570.7 1094,570.5 1095,570.4 1096,570.6 1097,571.1 1098,571.1 1099,570.7 1100,571.0 1101,570.7 1102,570.4 1103,570.3 1104,570.7 1105,570.1 1106,570.1 1107,570.4 1108,570.7 1109,570.1 1110,570.3 1111,570.4 1112,570.7 1113,570.9 1114,571.0 1115,570.9 1116,570.7 1117,570.8 1118,571.0 1119,571.1 1120,571.0 1121,570.7 1122,570.6 1123,570.4 1124,571.2 1125,570.9 1126,571.0 1127,571.0 1128,571.1 1129,570.9 1130,570.6 1131,570.9 1132,570.1 1133,570.3 1134,570.3 1135,570.3 1136,570.7 1137,570.4 1138,570.5 1139,570.3 1140,570.5 1141,570.5 1142,570.8 1143,571.1 1144,570.9 1145,570.5 1146,571.0 1147,570.9 1148,571.0 1149,571.0 1150,571.0 1151,570.4 1152,570.6 1153,570.6 1154,570.6 1155,570.6 1156,571.1 1157,570.8 1158,570.9 1159,570.2 1160,570.7 1161,570.4 1162,570.7 1163,570.7 1164,571.1 1165,571.1 1166,571.3 1167,571.4 1168,570.6 1169,571.0 1170,571.1 1171,571.2 1172,570.9 1173,570.4 1174,570.7 1175,570.9 1176,571.1 1177,570.5 1178,570.6 1179,570.7 1180,570.7 1181,570.3 1182,570.1 1183,569.9 1184,570.0 1185,570.1 1186,570.5 1187,570.9 1188,571.8 1189,571.1 1190,571.2 1191,571.2 1192,570.8 1193,570.5 1194,570.4 1195,570.8 1196,570.9 1197,570.8 1198,571.2 1199,571.2 1200,571.2 1201,571.0 1202,570.5 1203,570.5 1204,570.6 1205,571.1 1206,570.7 1207,570.3 1208,569.9 1209,570.5 1210,570.1 1211,570.7 1212,570.4 1213,570.9 1214,570.7 1215,571.1 1216,570.9 1217,570.8 1218,570.8 1219,570.7 1220,570.8 1221,570.6 1222,570.7 1223,571.0 1224,570.9 1225,571.2 1226,570.7 1227,571.2 1228,570.6 1229,571.0 1230,570.8 1231,571.1 1232,570.7 1233,570.6 1234,570.8 1235,570.4 1236,570.2 1237,570.4 1238,570.7 1239,571.0 1240,571.2 1241,570.7 1242,569.8 1243,570.6 1244,571.1 1245,570.8 1246,571.0 1247,571.1 1248,570.6 1249,570.9 1250,570.8 1251,571.1 1252,571.0 1253,570.8 1254,571.1 1255,571.1 1256,571.2 1257,571.0 1258,570.9 1259,571.3 1260,571.2 1261,571.3 1262,571.3 1263,570.7 1264,570.6 1265,570.8 1266,571.3 1267,570.8 1268,570.7 1269,570.6 1270,570.7 1271,571.3 1272,571.3 1273,570.6 1274,570.5 1275,571.1 1276,571.2 1277,570.4 1278,570.6 1279,570.6 1280,570.9 1281,570.9 1282,570.9 1283,570.6 1284,571.0 1285,571.0 1286,571.0 1287,571.1 1288,570.9 1289,570.5 1290,570.4 1291,570.5 1292,571.3 1293,570.9 1294,570.7 1295,570.7 1296,570.7 1297,570.6 1298,570.8 1299,570.8 1300,570.3 1301,570.8 1302,570.3 1303,570.6 1304,570.3 1305,570.5 1306,570.2 1307,570.5 1308,570.5 1309,570.8 1310,571.0 1311,570.4 1312,570.7 1313,570.4 1314,570.7 1315,570.4 1316,570.4 1317,570.3 1318,570.5 1319,570.7 1320,571.1 1321,570.5 1322,570.5 1323,570.9 1324,571.3 1325,571.5 1326,571.3 1327,571.2 1328,571.5 1329,571.2 1330,570.8 1331,570.4 1332,570.2 1333,570.3 1334,570.7 1335,570.7 1336,570.7 1337,570.9 1338,570.7 1339,570.8 1340,570.5 1341,570.4 1342,570.5 1343,570.2 1344,570.6 1345,570.7 1346,570.4 1347,570.7 1348,570.7 1349,570.5 1350,571.0 1351,570.7 1352,570.3 1353,570.6 1354,571.1 1355,570.7 1356,570.9 1357,570.7 1358,570.8 1359,570.8 1360,570.4 1361,570.4 1362,570.7 1363,571.1 1364,571.0 1365,571.2 1366,571.5 1367,571.0 1368,570.9 1369,570.9 1370,570.8 1371,571.1 1372,570.8 1373,571.0 1374,570.3 1375,570.5 1376,570.5 1377,570.8 1378,570.6 1379,571.0 1380,571.0 1381,571.2 1382,570.4 1383,570.5 1384,570.1 1385,570.2 1386,570.3 1387,570.8 1388,570.8 1389,570.7 1390,570.7 1391,570.3 1392,570.6 1393,570.6 1394,571.0 1395,570.4 1396,570.7 1397,570.6 1398,570.6 1399,571.1 1400,570.8 1401,570.6 1402,571.3 1403,571.1 1404,570.8 1405,570.4 1406,570.4 1407,570.5 1408,570.4 1409,571.2 1410,571.4 1411,571.3 1412,570.9 1413,570.4 1414,570.5 1415,570.2 1416,570.1 1417,570.0 1418,569.7 1419,570.4 1420,570.4 1421,570.1 1422,570.0 1423,570.1 1424,570.2 1425,570.3 1426,570.2 1427,569.8 1428,569.6 1429,569.4 1430,569.3 1431,568.8 1432,568.5 1433,568.3 1434,568.0 1435,567.4 1436,566.6 1437,565.9 1438,565.5 1439,565.0 1440,565.2 1441,565.2 1442,565.2 1443,565.0 1444,565.1 1445,565.7 1446,566.1 1447,565.6 1448,566.3 1449,566.7 1450,566.9 1451,567.8 1452,568.3 1453,569.0 1454,569.5 1455,570.3 1456,570.1 1457,569.8 1458,570.1 1459,569.5 1460,569.8 1461,570.3 1462,570.2 1463,570.8 1464,570.1 1465,570.4 1466,570.1 1467,570.6 1468,570.8 1469,570.6 1470,570.8 1471,571.1 1472,571.1 1473,570.7 1474,571.3 1475,570.3 1476,571.0 1477,570.7 1478,570.4 1479,570.6 1480,570.6 1481,570.8 1482,570.7 1483,570.8 1484,570.9 1485,570.8 1486,571.0 1487,571.1 1488,570.2 1489,570.9 1490,570.6 1491,570.4 1492,570.4 1493,570.2 1494,570.9 1495,570.7 1496,570.6 1497,570.8 1498,570.5 1499,570.7 1500,570.7 1501,571.1 1502,570.8 1503,571.0 1504,570.5 1505,570.9 1506,570.8 1507,570.9 1508,570.7 1509,571.0 1510,570.3 1511,570.2 1512,570.4 1513,570.5 1514,570.5 1515,570.0 1516,570.5 1517,570.4 1518,570.4 1519,570.4 1520,570.1 1521,570.0 1522,570.5 1523,570.3 1524,570.2 1525,570.3 1526,570.6 1527,570.7 1528,570.7 1529,571.0 1530,570.7 1531,570.8 1532,570.8 1533,570.6 1534,570.6 1535,570.3 1536,569.9 1537,570.1 1538,570.6 1539,570.3 1540,570.7 1541,570.6 1542,570.7 1543,570.0 1544,570.2 1545,569.7 1546,569.9 1547,569.6 1548,570.0 1549,570.0 1550,569.6 1551,569.7 1552,570.0 1553,569.8 1554,569.2 1555,569.4 1556,569.2 1557,569.3 1558,569.1 1559,568.9 1560,568.5 1561,568.1 1562,567.0 1563,566.3 1564,565.3 1565,564.7 1566,563.0 1567,562.5 1568,561.2 1569,559.6 1570,558.2 1571,556.9 1572,556.2 1573,555.9 1574,555.3 1575,554.8 1576,554.7 1577,555.5 1578,556.0 1579,556.8 1580,557.3 1581,558.5 1582,559.6 1583,561.1 1584,562.1 1585,563.4 1586,564.3 1587,564.8 1588,565.5 1589,566.6 1590,567.9 1591,567.9 1592,568.6 1593,568.4 1594,568.4 1595,569.0 1596,569.6 1597,570.0 1598,569.8 1599,569.8 1600,569.6 1601,569.5 1602,569.6 1603,569.4 1604,569.6 1605,569.3 1606,569.8 1607,570.0 1608,569.9 1609,569.8 1610,570.0 1611,570.1 1612,569.7 1613,569.6 1614,569.3 1615,569.8 1616,569.7 1617,569.9 1618,569.1 1619,569.4 1620,569.3 1621,569.3 1622,569.2 1623,569.3 1624,569.3 1625,568.6 1626,567.9 1627,567.5 1628,566.7 1629,566.7 1630,566.1 1631,565.1 1632,563.9 1633,562.9 1634,562.3 1635,561.4 1636,560.9 1637,560.7 1638,560.0 1639,559.8 1640,560.3 1641,560.2 1642,560.0 1643,560.6 1644,560.8 1645,562.1 1646,562.1 1647,562.4 1648,563.5 1649,564.8 1650,565.1 1651,565.9 1652,566.5 1653,567.0 1654,567.7 1655,568.1 1656,568.6 1657,568.6 1658,569.3 1659,569.8 1660,570.2 1661,570.2 1662,570.1 1663,570.2 1664,570.2 1665,570.2 1666,570.5 1667,569.9 1668,569.6 1669,570.1 1670,570.1 1671,570.5 1672,570.2 1673,570.4 1674,570.1 1675,570.2 1676,570.2 1677,569.9 1678,570.0 1679,570.4 1680,570.3 1681,570.3 1682,570.5 1683,570.5 1684,570.5 1685,570.4 1686,570.8 1687,570.9 1688,570.6 1689,570.3 1690,570.8 1691,571.1 1692,570.8 1693,570.8 1694,570.7 1695,570.4 1696,571.1 1697,570.7 1698,570.2 1699,570.6 1700,570.9 1701,571.1 1702,570.8 1703,570.9 1704,570.6 1705,570.0 1706,569.9 1707,570.2 1708,570.3 1709,570.7 1710,570.6 1711,570.2 1712,570.7 1713,570.7 1714,570.5 1715,570.3 1716,570.7 1717,570.9 1718,570.9 1719,570.7 1720,570.8 1721,570.8 1722,570.1 1723,570.2 1724,570.8 1725,570.7 1726,570.8 1727,570.8 1728,571.1 1729,570.6 1730,570.2 1731,570.0 1732,570.0 1733,570.2 1734,570.5 1735,570.6 1736,570.9 1737,570.6 1738,571.1 1739,571.1 1740,571.0 1741,571.0 1742,571.0 1743,570.5 1744,571.1 1745,570.7 1746,570.5 1747,570.9 1748,571.0 1749,571.3 1750,571.1 1751,570.7 1752,571.0 1753,570.0 1754,570.2 1755,570.2 1756,570.3 1757,570.2 1758,570.3 1759,570.7 1760,570.8 1761,570.6 1762,571.2 1763,571.3 1764,571.0 1765,571.0 1766,570.6 1767,571.3 1768,570.5 1769,570.4 1770,570.4 1771,570.1 1772,570.5 1773,570.6 1774,570.3 1775,570.1 1776,570.5 1777,570.3 1778,570.0 1779,570.8 1780,570.7 1781,570.4 1782,570.5 1783,570.4 1784,570.5 1785,570.3 1786,570.7 1787,570.9 1788,570.4 1789,570.4 1790,570.5 1791,571.0 1792,570.7 1793,570.5 1794,570.7 1795,570.5 1796,570.8 1797,570.8 1798,570.4 1799,570.3 1800,570.4 1801,570.6 1802,570.5 1803,570.2 1804,570.1 1805,570.1 1806,569.9 1807,569.9 1808,569.5 1809,569.6 1810,569.5 1811,569.5 1812,568.8 1813,568.6 1814,568.6 1815,568.2 1816,568.2 1817,567.7 1818,567.6 1819,567.4 1820,567.0 1821,567.2 1822,566.9 1823,566.4 1824,565.9 1825,565.8 1826,565.8 1827,565.6 1828,566.0 1829,565.7 1830,566.0 1831,565.8 1832,566.6 1833,566.7 1834,566.5 1835,567.0 1836,567.2 1837,567.3 1838,567.6 1839,568.1 1840,568.5 1841,569.1 1842,568.8 1843,568.7 1844,569.0 1845,568.7 1846,569.0 1847,569.8 1848,569.8 1849,569.3 1850,569.7 1851,569.8 1852,569.7 1853,570.1 1854,569.4 1855,570.1 1856,569.7 1857,569.6 1858,569.7 1859,570.2 1860,570.1 1861,570.6 1862,570.6 1863,570.0 1864,570.4 1865,570.3 1866,570.5 1867,570.4 1868,570.3 1869,570.5 1870,570.4 1871,570.4 1872,570.4 1873,570.2 1874,570.3 1875,569.7 1876,570.0 1877,569.9 1878,570.6 1879,569.8 1880,570.2 1881,569.5 1882,569.6 1883,570.3 1884,570.0 1885,570.0 1886,569.8 1887,569.8 1888,570.1 1889,569.6 1890,569.1 1891,569.3 1892,569.7 1893,569.5 1894,569.1 1895,569.0 1896,569.4 1897,569.3 1898,569.5 1899,569.1 1900,569.3 1901,568.8 1902,569.1 1903,568.2 1904,567.8 1905,567.0 1906,567.0 1907,566.1 1908,565.1 1909,564.7 1910,563.8 1911,561.8 1912,560.1 1913,558.5 1914,557.1 1915,555.5 1916,554.5 1917,553.6 1918,552.4 1919,552.1 1920,551.3 1921,550.7 1922,550.8 1923,550.6 1924,550.1 1925,550.4 1926,550.5 1927,550.2 1928,549.3 1929,549.0 1930,549.2 1931,549.0 1932,549.1 1933,549.6 1934,549.8 1935,550.4 1936,550.6 1937,551.4 1938,553.1 1939,554.1 1940,554.8 1941,555.8 1942,556.8 1943,558.7 1944,560.0 1945,560.9 1946,561.6 1947,562.8 1948,564.0 1949,565.0 1950,566.4 1951,566.9 1952,567.2 1953,567.3 1954,567.6 1955,568.0 1956,568.8 1957,569.0 1958,569.2 1959,569.2 1960,568.9 1961,569.1 1962,568.9 1963,568.8 1964,568.8 1965,569.3 1966,569.0 1967,569.1 1968,569.4 1969,569.7 1970,569.8 1971,569.5 1972,569.0 1973,569.2 1974,568.9 1975,569.0 1976,569.1 1977,569.4 1978,569.2 1979,569.5 1980,569.0 1981,569.0 1982,569.4 1983,569.2 1984,569.3 1985,569.4 1986,569.8 1987,569.7 1988,568.9 1989,569.0 1990,569.2 1991,568.7 1992,568.6 1993,567.9 1994,567.8 1995,567.8 1996,566.9 1997,566.5 1998,566.1 1999,564.8 2000,564.4 2001,564.2 2002,563.3 2003,562.3 2004,561.3 2005,561.3 2006,561.0 2007,560.5 2008,559.8 2009,559.6 2010,559.8 2011,559.0 2012,559.1 2013,559.8 2014,560.5 2015,560.6 2016,560.8 2017,561.2 2018,561.7 2019,562.3 2020,563.1 2021,563.7 2022,564.7 2023,565.0 2024,565.9 2025,566.2 2026,566.7 2027,566.9 2028,567.6 2029,567.8 2030,568.1 2031,569.1 2032,569.0 2033,569.1 2034,569.3 2035,568.7 2036,569.0 2037,569.0 2038,569.2 2039,569.8 2040,569.7 2041,569.5 2042,569.4 2043,569.5 2044,569.6 2045,569.5 2046,569.7 2047,569.2 2048,569.4 2049,569.7 2050,569.5 2051,569.1 2052,569.6 2053,569.4 2054,569.1 2055,569.0 2056,569.1 2057,568.7 2058,568.1 2059,567.6 2060,567.4 2061,566.4 2062,565.7 2063,564.9 2064,564.7 2065,563.3 2066,562.0 2067,560.9 2068,559.9 2069,558.3 2070,557.7 2071,557.1 2072,556.4 2073,555.7 2074,554.6 2075,554.9 2076,554.6 2077,554.5 2078,555.3 2079,555.7 2080,556.5 2081,557.4 2082,558.2 2083,559.3 2084,560.4 2085,561.3 2086,562.9 2087,563.9 2088,564.5 2089,565.3 2090,566.4 2091,567.0 2092,567.6 2093,567.8 2094,568.0 2095,567.9 2096,568.8 2097,569.3 2098,569.7 2099,569.3 2100,569.5 2101,569.9 2102,569.8 2103,570.2 2104,569.9 2105,570.5 2106,570.3 2107,570.1 2108,569.8 2109,569.8 2110,569.9 2111,569.8 2112,570.3 2113,570.1 2114,570.2 2115,570.3 2116,570.7 2117,570.5 2118,570.2 2119,570.1 2120,570.4 2121,570.4 2122,570.2 2123,570.6 2124,570.8 2125,570.4 2126,570.9 2127,570.9 2128,570.8 2129,570.8 2130,570.9 2131,570.7 2132,571.0 2133,571.2 2134,570.7 2135,570.9 2136,570.9 2137,570.3 2138,571.1 2139,570.6 2140,570.8 2141,570.6 2142,570.6 2143,570.6 2144,570.7 2145,571.0 2146,570.9 2147,570.7 2148,571.0 2149,571.4 2150,571.4 2151,571.2 2152,571.3 2153,571.5 2154,570.6 2155,570.6 2156,570.8 2157,571.1 2158,571.2 2159,570.8 2160,570.8 2161,570.2 2162,571.0 2163,571.5 2164,571.0 2165,570.8 2166,571.0 2167,570.7 2168,571.1 2169,570.9 2170,570.8 2171,571.1 2172,570.6 2173,570.9 2174,571.1 2175,570.9 2176,570.9 2177,571.1 2178,571.1 2179,570.8 2180,570.8 2181,570.9 2182,570.7 2183,570.4"/>
<path stroke="#146464" d="M278,774.5 279,774.6 280,774.6 281,774.7 282,774.2 283,774.0 284,773.8 285,773.7 286,774.2 287,774.2 288,773.8 289,773.7 290,774.1 291,773.7 292,773.6 293,773.9 294,774.2 295,774.3 296,773.8 297,773.4 298,773.2 299,773.5 300,773.5 301,773.8 302,773.7 303,773.7 304,773.1 305,772.8 306,772.8 307,772.9 308,772.6 309,772.9 310,772.1 311,772.1 312,771.8 313,771.8 314,771.8 315,771.3 316,771.1 317,771.1 318,770.2 319,769.4 320,768.4 321,767.3 322,765.5 323,762.7 324,759.8 325,754.8 326,748.3 327,741.8 328,733.6 329,726.0 330,719.0 331,713.0 332,709.5 333,709.8 334,711.8 335,716.7 336,723.6 337,731.4 338,739.8 339,746.9 340,752.6 341,758.2 342,762.1 343,764.8 344,767.2 345,768.5 346,769.4 347,769.7 348,770.2 349,771.0 350,771.3 351,771.3 352,771.1 353,771.6 354,771.8 355,772.2 356,772.4 357,772.5 358,772.4 359,772.5 360,772.3 361,772.5 362,772.6 363,772.7 364,772.3 365,772.5 366,772.4 367,772.0 368,772.1 369,772.1 370,771.6 371,771.7 372,771.0 373,770.4 374,769.5 375,767.8 376,766.4 377,765.7 378,764.5 379,763.3 380,762.7 381,762.2 382,761.9 383,761.7 384,762.6 385,762.6 386,764.1 387,765.1 388,766.6 389,767.7 390,768.8 391,770.1 392,770.5 393,770.5 394,771.2 395,771.2 396,771.8 397,772.1 398,772.6 399,772.6 400,772.9 401,772.6 402,772.9 403,773.0 404,773.4 405,773.9 406,773.7 407,773.7 408,773.2 409,773.0 410,773.7 411,773.0 412,773.0 413,773.3 414,773.5 415,773.2 416,773.2 417,773.3 418,773.5 419,773.3 420,773.1 421,773.4 422,773.4 423,773.0 424,773.0 425,772.8 426,772.7 427,772.2 428,772.4 429,772.4 430,772.0 431,772.1 432,771.8 433,771.7 434,771.6 435,772.2 436,772.1 437,771.4 438,771.6 439,771.2 440,771.4 441,771.2 442,771.2 443,771.0 444,770.4 445,770.0 446,769.9 447,769.8 448,769.9 449,770.1 450,769.5 451,769.6 452,769.2 453,768.8 454,768.1 455,768.0 456,768.0 457,767.6 458,767.2 459,767.0 460,767.1 461,767.0 462,766.4 463,766.4 464,765.9 465,765.4 466,765.5 467,765.1 468,764.6 469,764.1 470,762.7 471,762.8 472,762.5 473,760.7 474,759.0 475,757.7 476,755.9 477,752.8 478,748.5 479,742.5 480,735.0 481,726.3 482,715.4 483,704.1 484,691.4 485,678.3 486,666.0 487,656.2 488,648.4 489,643.6 490,643.1 491,646.1 492,653.6 493,663.0 494,674.8 495,687.7 496,700.9 497,712.5 498,723.9 499,733.3 500,741.3 501,747.2 502,752.6 503,756.7 504,759.7 505,762.0 506,763.3 507,764.1 508,765.6 509,766.0 510,767.6 511,767.8 512,767.6 513,768.6 514,768.9 515,769.1 516,769.4 517,769.8 518,769.7 519,770.6 520,771.1 521,771.2 522,771.1 523,771.4 524,771.9 525,772.0 526,771.9 527,772.1 528,771.8 529,772.3 530,772.8 531,772.9 532,773.0 533,773.0 534,772.5 535,773.1 536,773.4 537,772.9 538,772.9 539,773.3 540,773.4 541,773.0 542,772.9 543,772.8 544,773.2 545,773.6 546,773.8 547,773.5 548,773.6 549,773.5 550,773.9 551,773.8 552,773.6 553,774.0 554,773.9 555,773.7 556,773.5 557,773.7 558,774.2 559,773.7 560,774.2 561,773.7 562,773.6 563,774.1 564,773.8 565,773.8 566,773.8 567,774.3 568,774.3 569,774.0 570,774.0 571,774.2 572,773.9 573,774.2 574,774.5 575,774.5 576,774.0 577,774.5 578,774.3 579,774.7 580,774.6 581,774.3 582,773.8 583,774.5 584,774.2 585,774.3 586,774.6 587,774.8 588,774.2 589,774.8 590,774.3 591,774.2 592,774.8 593,774.5 594,774.4 595,774.0 596,774.2 597,773.6 598,774.0 599,774.4 600,774.4 601,774.0 602,774.7 603,774.4 604,774.2 605,774.2 606,774.0 607,773.9 608,773.7 609,773.8 610,773.5 611,774.0 612,774.1 613,774.1 614,774.3 615,774.2 616,774.8 617,774.2 618,774.3 619,774.5 620,774.3 621,774.0 622,773.8 623,774.4 624,774.3 625,774.4 626,773.8 627,773.9 628,774.2 629,774.2 630,774.2 631,774.0 632,774.4 633,774.2 634,774.4 635,774.4 636,774.1 637,774.1 638,774.1 639,773.8 640,773.9 641,773.8 642,773.5 643,773.8 644,773.9 645,774.1 646,774.1 647,773.7 648,773.5 649,773.9 650,773.5 651,773.0 652,772.7 653,772.8 654,773.5 655,772.8 656,773.1 657,772.5 658,772.2 659,771.6 660,771.7 661,771.3 662,770.0 663,769.3 664,767.8 665,766.8 666,765.9 667,764.6 668,763.7 669,761.9 670,761.9 671,760.8 672,759.6 673,759.2 674,759.0 675,759.2 676,760.3 677,760.9 678,762.1 679,763.3 680,764.7 681,765.2 682,766.0 683,767.4 684,768.8 685,769.9 686,770.4 687,771.1 688,772.1 689,772.6 690,772.2 691,772.8 692,773.3 693,773.4 694,773.4 695,773.0 696,773.4 697,773.8 698,774.0 699,773.3 700,773.9 701,774.0 702,774.2 703,773.8 704,773.9 705,773.7 706,773.8 707,773.9 708,774.1 709,773.7 710,774.1 711,774.7 712,774.3 713,774.3 714,774.2 715,774.1 716,774.0 717,774.0 718,774.5 719,774.4 720,774.0 721,773.8 722,773.9 723,773.6 724,774.0 725,774.3 726,773.8 727,773.6 728,773.7 729,773.7 730,774.1 731,773.5 732,773.8 733,774.0 734,774.5 735,774.2 736,774.1 737,774.3 738,773.6 739,773.6 740,774.1 741,773.7 742,773.8 743,773.9 744,773.8 745,773.9 746,773.6 747,773.0 748,772.8 749,772.6 750,773.0 751,773.0 752,772.7 753,772.3 754,773.2 755,772.7 756,771.8 757,771.7 758,771.2 759,770.8 760,770.3 761,769.5 762,768.0 763,766.4 764,764.7 765,762.6 766,760.6 767,759.5 768,757.3 769,755.0 770,753.3 771,751.3 772,750.7 773,749.8 774,749.6 775,749.6 776,749.6 777,751.5 778,752.7 779,754.0 780,755.6 781,757.7 782,759.6 783,761.3 784,763.0 785,765.0 786,766.9 787,767.6 788,768.9 789,770.1 790,771.0 791,771.1 792,771.3 793,771.7 794,772.3 795,772.9 796,772.9 797,772.7 798,772.7 799,773.2 800,773.1 801,773.2 802,773.4 803,773.4 804,773.6 805,773.3 806,773.5 807,773.9 808,773.8 809,774.0 810,774.2 811,774.0 812,774.3 813,774.3 814,774.4 815,774.2 816,774.1 817,774.5 818,774.1 819,774.4 820,773.4 821,773.4 822,773.6 823,774.1 824,774.1 825,773.8 826,774.3 827,774.0 828,773.9 829,773.9 830,773.8 831,773.9 832,774.2 833,774.4 834,773.4 835,774.6 836,774.1 837,774.2 838,773.8 839,774.3 840,774.1 841,774.5 842,774.2 843,774.6 844,774.1 845,774.3 846,774.6 847,774.3 848,773.7 849,773.5 850,773.9 851,773.6 852,774.1 853,774.1 854,774.1 855,774.0 856,774.1 857,774.4 858,774.5 859,773.8 860,774.3 861,774.1 862,774.7 863,774.2 864,773.9 865,773.8 866,774.1 867,774.2 868,773.9 869,773.9 870,773.8 871,774.4 872,774.3 873,774.2 874,774.2 875,774.2 876,774.1 877,774.3 878,774.5 879,774.3 880,774.2 881,774.0 882,774.3 883,774.2 884,774.2 885,774.0 886,774.3 887,773.9 888,774.1 889,773.8 890,773.8 891,774.5 892,774.3 893,774.1 894,774.2 895,774.3 896,774.0 897,773.7 898,773.2 899,773.2 900,773.9 901,773.8 902,773.7 903,773.6 904,773.3 905,773.3 906,773.0 907,773.4 908,773.6 909,773.3 910,773.4 911,773.5 912,772.7 913,772.4 914,771.7 915,771.4 916,771.4 917,770.7 918,769.3 919,768.9 920,767.9 921,766.4 922,765.9 923,764.9 924,763.7 925,763.0 926,762.2 927,761.8 928,762.0 929,761.8 930,762.1 931,762.6 932,763.7 933,764.6 934,765.6 935,766.5 936,766.9 937,767.5 938,767.8 939,769.0 940,769.5 941,769.9 942,769.6 943,769.8 944,769.7 945,770.4 946,769.7 947,769.5 948,769.4 949,769.2 950,768.7 951,768.5 952,768.0 953,767.3 954,767.2 955,766.6 956,765.5 957,764.7 958,762.5 959,760.4 960,758.2 961,754.7 962,750.2 963,744.5 964,738.3 965,730.5 966,721.9 967,712.7 968,703.5 969,693.9 970,685.4 971,678.3 972,673.6 973,670.8 974,670.7 975,672.2 976,677.4 977,683.3 978,691.2 979,699.0 980,708.7 981,717.4 982,725.7 983,733.9 984,741.0 985,746.8 986,751.6 987,755.8 988,759.3 989,761.9 990,763.7 991,765.2 992,765.9 993,766.8 994,767.6 995,768.3 996,769.1 997,769.6 998,769.9 999,770.2 1000,770.0 1001,771.0 1002,771.1 1003,770.6 1004,771.1 1005,771.3 1006,771.5 1007,771.3 1008,771.8 1009,772.0 1010,772.3 1011,772.5 1012,772.3 1013,772.7 1014,772.7 1015,773.3 1016,773.7 1017,773.1 1018,773.3 1019,773.3 1020,772.8 1021,773.3 1022,773.4 1023,772.9 1024,773.5 1025,773.8 1026,774.1 1027,774.0 1028,773.9 1029,773.6 1030,773.6 1031,773.8 1032,774.0 1033,773.8 1034,773.8 1035,774.1 1036,774.5 1037,774.9 1038,774.7 1039,774.2 1040,773.9 1041,774.2 1042,774.2 1043,774.2 1044,774.2 1045,774.6 1046,774.3 1047,774.5 1048,774.6 1049,774.6 1050,774.8 1051,774.4 1052,773.9 1053,773.8 1054,774.3 1055,774.7 1056,774.8 1057,774.5 1058,774.8 1059,774.7 1060,774.7 1061,774.5 1062,774.4 1063,774.9 1064,773.8 1065,774.0 1066,774.0 1067,774.2 1068,774.2 1069,774.6 1070,774.7 1071,774.2 1072,774.1 1073,774.5 1074,774.4 1075,774.4 1076,774.2 1077,774.5 1078,775.0 1079,774.8 1080,774.9 1081,774.9 1082,774.3 1083,774.2 1084,774.0 1085,773.8 1086,774.8 1087,774.8 1088,774.7 1089,774.2 1090,774.6 1091,774.6 1092,775.2 1093,775.3 1094,775.1 1095,774.8 1096,774.2 1097,774.6 1098,774.6 1099,774.6 1100,774.8 1101,775.3 1102,775.1 1103,775.1 1104,775.0 1105,774.7 1106,774.6 1107,774.6 1108,774.8 1109,775.1 1110,775.0 1111,774.6 1112,774.7 1113,775.2 1114,774.9 1115,774.8 1116,774.6 1117,774.4 1118,775.0 1119,774.8 1120,774.7 1121,774.7 1122,774.7 1123,774.7 1124,774.9 1125,775.1 1126,775.4 1127,774.5 1128,774.8 1129,774.5 1130,774.3 1131,774.7 1132,774.7 1133,774.8 1134,774.8 1135,774.2 1136,774.8 1137,774.6 1138,774.8 1139,774.6 1140,774.8 1141,775.4 1142,774.9 1143,774.8 1144,774.6 1145,774.4 1146,774.7 1147,774.7 1148,774.7 1149,775.1 1150,775.4 1151,774.4 1152,774.9 1153,775.0 1154,774.4 1155,775.0 1156,774.8 1157,774.6 1158,774.6 1159,774.7 1160,775.0 1161,774.7 1162,774.3 1163,774.4 1164,774.6 1165,774.7 1166,774.8 1167,774.9 1168,774.2 1169,774.9 1170,775.0 1171,774.2 1172,774.8 1173,775.2 1174,775.1 1175,774.7 1176,774.8 1177,774.8 1178,775.4 1179,774.7 1180,774.9 1181,775.0 1182,775.2 1183,774.8 1184,775.2 1185,775.0 1186,775.0 1187,775.2 1188,774.9 1189,774.7 1190,775.3 1191,775.0 1192,774.5 1193,774.4 1194,774.8 1195,774.6 1196,774.5 1197,774.6 1198,774.9 1199,774.9 1200,774.9 1201,775.0 1202,775.2 1203,774.8 1204,774.9 1205,775.0 1206,774.8 1207,774.6 1208,775.0 1209,774.7 1210,775.4 1211,775.6 1212,775.4 1213,775.0 1214,775.1 1215,774.7 1216,775.0 1217,775.1 1218,774.9 1219,775.3 1220,774.8 1221,774.9 1222,775.2 1223,775.1 1224,775.2 1225,775.3 1226,775.3 1227,775.1 1228,775.3 1229,775.2 1230,775.0 1231,775.1 1232,775.3 1233,774.8 1234,775.1 1235,774.7 1236,774.5 1237,774.8 1238,774.9 1239,775.0 1240,775.6 1241,775.1 1242,775.0 1243,775.3 1244,775.5 1245,775.6 1246,775.9 1247,774.9 1248,775.6 1249,775.7 1250,775.7 1251,775.6 1252,775.4 1253,775.2 1254,774.7 1255,774.6 1256,774.9 1257,774.5 1258,774.6 1259,774.5 1260,774.3 1261,774.6 1262,774.8 1263,774.5 1264,774.9 1265,774.8 1266,774.8 1267,775.1 1268,775.0 1269,775.4 1270,775.9 1271,775.4 1272,775.4 1273,775.5 1274,775.2 1275,774.9 1276,775.7 1277,775.5 1278,775.5 1279,775.0 1280,775.0 1281,775.3 1282,775.0 1283,774.9 1284,774.6 1285,774.6 1286,774.8 1287,775.2 1288,774.9 1289,775.1 1290,774.9 1291,775.0 1292,774.7 1293,775.4 1294,775.0 1295,774.7 1296,775.0 1297,775.2 1298,775.0 1299,774.7 1300,774.9 1301,774.5 1302,774.4 1303,774.7 1304,774.6 1305,774.8 1306,775.4 1307,775.1 1308,775.0 1309,775.0 1310,774.8 1311,774.9 1312,775.5 1313,774.7 1314,774.8 1315,774.9 1316,774.9 1317,774.8 1318,774.4 1319,774.5 1320,775.5 1321,775.5 1322,775.4 1323,774.9 1324,774.7 1325,774.8 1326,775.3 1327,774.5 1328,774.3 1329,774.8 1330,775.0 1331,775.1 1332,775.2 1333,775.0 1334,775.0 1335,774.5 1336,775.3 1337,775.3 1338,774.8 1339,774.8 1340,774.8 1341,774.6 1342,775.1 1343,774.8 1344,774.9 1345,774.7 1346,774.6 1347,774.9 1348,775.2 1349,775.6 1350,774.7 1351,774.5 1352,774.5 1353,774.4 1354,774.4 1355,774.6 1356,774.9 1357,774.8 1358,774.9 1359,774.9 1360,775.5 1361,775.8 1362,775.8 1363,775.4 1364,775.6 1365,775.2 1366,775.3 1367,775.1 1368,774.9 1369,774.6 1370,774.7 1371,774.8 1372,775.4 1373,775.3 1374,775.3 1375,775.5 1376,775.5 1377,775.5 1378,775.9 1379,775.6 1380,775.2 1381,774.9 1382,775.1 1383,775.0 1384,774.6 1385,774.9 1386,775.2 1387,775.4 1388,775.1 1389,775.5 1390,775.8 1391,775.2 1392,775.3 1393,775.3 1394,775.1 1395,774.9 1396,775.4 1397,775.2 1398,775.0 1399,774.8 1400,774.8 1401,774.4 1402,774.6 1403,775.1 1404,775.0 1405,774.9 1406,774.7 1407,774.1 1408,775.4 1409,775.0 1410,775.2 1411,774.4 1412,774.5 1413,774.9 1414,774.9 1415,774.7 1416,774.8 1417,775.2 1418,774.5 1419,775.0 1420,775.1 1421,775.1 1422,775.1 1423,774.8 1424,774.7 1425,774.3 1426,774.6 1427,774.5 1428,774.3 1429,774.3 1430,774.2 1431,773.5 1432,773.5 1433,773.1 1434,773.6 1435,773.4 1436,773.5 1437,773.5 1438,773.2 1439,773.3 1440,772.6 1441,772.4 1442,772.5 1443,772.7 1444,773.0 1445,772.8 1446,772.8 1447,772.6 1448,772.9 1449,773.1 1450,773.7 1451,774.0 1452,773.5 1453,773.8 1454,774.1 1455,774.0 1456,773.8 1457,774.4 1458,774.6 1459,774.9 1460,775.1 1461,775.1 1462,774.8 1463,775.0 1464,774.4 1465,774.6 1466,774.5 1467,774.5 1468,774.9 1469,775.0 1470,775.2 1471,775.0 1472,775.2 1473,775.3 1474,775.2 1475,774.8 1476,775.2 1477,774.9 1478,774.6 1479,774.8 1480,775.0 1481,774.5 1482,775.2 1483,774.7 1484,775.0 1485,775.5 1486,775.3 1487,774.9 1488,774.7 1489,774.5 1490,774.5 1491,775.0 1492,775.1 1493,774.9 1494,775.4 1495,775.2 1496,775.0 1497,775.0 1498,774.9 1499,775.1 1500,774.8 1501,774.8 1502,775.1 1503,774.7 1504,775.3 1505,774.9 1506,775.3 1507,774.6 1508,774.4 1509,775.1 1510,774.4 1511,775.0 1512,775.2 1513,775.1 1514,774.3 1515,774.6 1516,774.8 1517,775.2 1518,774.5 1519,775.3 1520,774.7 1521,774.7 1522,774.9 1523,774.5 1524,774.3 1525,774.2 1526,774.0 1527,774.2 1528,774.4 1529,774.1 1530,774.7 1531,774.7 1532,775.0 1533,774.8 1534,774.5 1535,774.4 1536,774.2 1537,774.3 1538,774.5 1539,774.6 1540,774.5 1541,774.5 1542,773.9 1543,774.1 1544,773.7 1545,773.5 1546,774.2 1547,773.9 1548,774.0 1549,774.0 1550,773.8 1551,773.7 1552,773.3 1553,772.9 1554,772.9 1555,773.1 1556,773.1 1557,773.4 1558,772.3 1559,771.9 1560,771.0 1561,770.5 1562,769.7 1563,769.5 1564,768.9 1565,768.2 1566,767.2 1567,766.8 1568,765.7 1569,765.1 1570,764.4 1571,764.0 1572,763.3 1573,762.6 1574,762.6 1575,762.3 1576,762.7 1577,763.3 1578,763.4 1579,763.9 1580,764.9 1581,765.4 1582,765.4 1583,766.2 1584,767.0 1585,767.5 1586,768.5 1587,769.4 1588,769.5 1589,770.3 1590,770.8 1591,771.6 1592,771.9 1593,772.5 1594,772.5 1595,773.0 1596,773.6 1597,773.6 1598,773.6 1599,773.2 1600,773.5 1601,773.3 1602,772.9 1603,773.4 1604,774.2 1605,773.8 1606,774.1 1607,773.9 1608,773.6 1609,774.1 1610,773.8 1611,774.1 1612,773.5 1613,774.0 1614,773.8 1615,773.8 1616,773.9 1617,773.5 1618,773.5 1619,773.2 1620,773.1 1621,772.9 1622,772.4 1623,772.3 1624,772.4 1625,772.4 1626,771.8 1627,771.2 1628,771.0 1629,769.7 1630,769.5 1631,769.1 1632,769.1 1633,768.9 1634,769.1 1635,768.7 1636,768.0 1637,767.6 1638,767.9 1639,767.7 1640,768.1 1641,768.5 1642,768.5 1643,768.9 1644,769.7 1645,769.2 1646,769.4 1647,770.0 1648,770.1 1649,770.6 1650,771.2 1651,771.5 1652,771.6 1653,772.2 1654,772.6 1655,772.7 1656,773.0 1657,773.3 1658,773.4 1659,773.7 1660,773.6 1661,773.7 1662,774.1 1663,774.0 1664,773.9 1665,774.2 1666,774.2 1667,774.1 1668,774.7 1669,774.7 1670,774.6 1671,775.0 1672,774.6 1673,774.2 1674,774.3 1675,774.3 1676,774.6 1677,774.4 1678,774.8 1679,774.6 1680,774.4 1681,774.3 1682,774.5 1683,774.8 1684,773.9 1685,774.3 1686,774.1 1687,774.5 1688,774.8 1689,774.6 1690,774.6 1691,774.6 1692,775.1 1693,774.6 1694,774.9 1695,775.4 1696,775.0 1697,774.5 1698,774.4 1699,774.4 1700,774.7 1701,774.5 1702,774.5 1703,774.9 1704,775.3 1705,775.4 1706,775.1 1707,775.1 1708,774.8 1709,774.9 1710,775.0 1711,774.8 1712,774.9 1713,774.5 1714,774.9 1715,774.9 1716,775.0 1717,774.6 1718,774.3 1719,774.7 1720,775.4 1721,775.0 1722,774.8 1723,775.0 1724,774.8 1725,774.5 1726,775.2 1727,774.6 1728,774.8 1729,774.8 1730,774.6 1731,775.3 1732,775.2 1733,774.9 1734,775.6 1735,775.2 1736,775.4 1737,775.3 1738,775.3 1739,774.7 1740,774.6 1741,774.9 1742,774.9 1743,775.0 1744,775.0 1745,775.0 1746,775.0 1747,774.9 1748,775.0 1749,774.8 1750,774.6 1751,774.4 1752,774.7 1753,774.8 1754,775.0 1755,775.3 1756,774.9 1757,774.9 1758,774.7 1759,775.0 1760,775.2 1761,775.0 1762,774.9 1763,774.8 1764,775.1 1765,774.7 1766,774.5 1767,775.2 1768,775.0 1769,775.0 1770,775.3 1771,774.6 1772,774.7 1773,775.0 1774,774.8 1775,774.6 1776,774.5 1777,774.6 1778,774.9 1779,774.7 1780,774.2 1781,774.5 1782,774.9 1783,774.5 1784,774.6 1785,774.8 1786,774.4 1787,774.4 1788,774.5 1789,774.3 1790,774.2 1791,774.2 1792,774.9 1793,774.3 1794,775.0 1795,775.0 1796,774.7 1797,774.7 1798,774.8 1799,774.7 1800,774.3 1801,774.5 1802,774.0 1803,773.8 1804,774.2 1805,774.0 1806,774.5 1807,774.4 1808,774.0 1809,773.5 1810,773.5 1811,773.8 1812,773.9 1813,773.4 1814,773.0 1815,773.3 1816,773.2 1817,772.7 1818,772.2 1819,772.5 1820,772.4 1821,772.2 1822,771.9 1823,771.8 1824,771.6 1825,771.9 1826,772.2 1827,772.2 1828,772.2 1829,772.0 1830,771.7 1831,771.8 1832,771.7 1833,771.8 1834,771.1 1835,771.3 1836,772.5 1837,772.6 1838,772.3 1839,772.0 1840,772.4 1841,772.7 1842,772.3 1843,772.5 1844,772.9 1845,773.1 1846,773.6 1847,773.3 1848,773.4 1849,773.5 1850,773.9 1851,774.1 1852,774.1 1853,773.8 1854,773.9 1855,773.5 1856,773.5 1857,773.6 1858,773.5 1859,773.9 1860,773.8 1861,773.8 1862,773.6 1863,773.5 1864,773.9 1865,774.2 1866,774.5 1867,773.9 1868,774.0 1869,774.3 1870,774.3 1871,774.1 1872,774.2 1873,774.1 1874,774.4 1875,774.9 1876,774.7 1877,774.2 1878,773.3 1879,773.3 1880,773.7 1881,773.9 1882,773.5 1883,774.0 1884,774.0 1885,773.3 1886,773.5 1887,773.4 1888,773.1 1889,773.3 1890,774.0 1891,773.5 1892,773.1 1893,773.0 1894,772.7 1895,772.4 1896,771.9 1897,771.7 1898,771.7 1899,771.1 1900,771.0 1901,770.4 1902,770.1 1903,769.0 1904,768.3 1905,767.4 1906,766.7 1907,766.3 1908,765.0 1909,764.0 1910,763.1 1911,762.7 1912,761.1 1913,760.5 1914,759.9 1915,758.7 1916,757.9 1917,757.7 1918,756.7 1919,756.6 1920,756.1 1921,756.0 1922,756.1 1923,756.1 1924,756.5 1925,756.7 1926,757.0 1927,757.4 1928,758.4 1929,758.9 1930,759.9 1931,759.9 1932,761.3 1933,761.9 1934,763.2 1935,764.5 1936,764.8 1937,765.6 1938,766.8 1939,767.4 1940,767.6 1941,768.8 1942,769.4 1943,769.8 1944,770.4 1945,771.2 1946,771.8 1947,771.7 1948,771.4 1949,771.8 1950,772.6 1951,772.1 1952,772.2 1953,772.4 1954,772.5 1955,772.7 1956,772.9 1957,773.1 1958,773.3 1959,772.9 1960,773.1 1961,773.3 1962,773.2 1963,773.2 1964,773.4 1965,773.6 1966,773.5 1967,773.6 1968,773.3 1969,773.8 1970,773.9 1971,773.2 1972,773.5 1973,773.2 1974,772.9 1975,773.6 1976,773.2 1977,773.4 1978,773.7 1979,773.6 1980,773.8 1981,773.6 1982,773.0 1983,772.8 1984,772.6 1985,772.5 1986,772.4 1987,772.5 1988,771.8 1989,771.5 1990,771.2 1991,771.5 1992,770.9 1993,770.8 1994,770.7 1995,770.1 1996,769.6 1997,770.0 1998,769.2 1999,768.9 2000,768.2 2001,768.0 2002,767.3 2003,767.3 2004,767.1 2005,766.0 2006,766.5 2007,765.8 2008,765.3 2009,764.8 2010,764.6 2011,764.2 2012,764.2 2013,764.3 2014,764.2 2015,764.6 2016,764.4 2017,765.0 2018,765.1 2019,765.6 2020,765.6 2021,766.3 2022,766.8 2023,767.0 2024,767.4 2025,767.6 2026,767.8 2027,768.6 2028,768.6 2029,769.1 2030,769.3 2031,770.0 2032,770.3 2033,770.9 2034,771.2 2035,771.4 2036,771.6 2037,771.8 2038,772.3 2039,772.0 2040,771.9 2041,772.0 2042,772.5 2043,772.5 2044,772.3 2045,772.1 2046,771.9 2047,772.3 2048,772.7 2049,772.6 2050,772.6 2051,772.6 2052,771.9 2053,771.5 2054,771.3 2055,771.0 2056,770.4 2057,770.1 2058,769.5 2059,769.0 2060,768.5 2061,767.2 2062,766.9 2063,765.7 2064,765.1 2065,764.2 2066,763.3 2067,762.8 2068,762.0 2069,761.0 2070,760.9 2071,760.3 2072,760.0 2073,759.3 2074,759.7 2075,760.3 2076,760.5 2077,760.6 2078,761.0 2079,760.7 2080,762.1 2081,762.6 2082,763.0 2083,764.2 2084,765.3 2085,766.1 2086,766.9 2087,767.9 2088,768.9 2089,769.3 2090,769.8 2091,770.2 2092,770.6 2093,771.3 2094,771.5 2095,771.7 2096,772.1 2097,772.7 2098,772.9 2099,773.0 2100,773.1 2101,773.5 2102,773.4 2103,773.0 2104,773.2 2105,773.8 2106,774.0 2107,773.6 2108,774.0 2109,773.8 2110,774.3 2111,774.5 2112,774.4 2113,774.9 2114,774.8 2115,774.5 2116,774.4 2117,774.4 2118,774.8 2119,774.3 2120,774.0 2121,774.4 2122,774.1 2123,774.2 2124,774.7 2125,774.2 2126,774.2 2127,774.5 2128,774.8 2129,774.8 2130,774.5 2131,774.4 2132,774.4 2133,774.9 2134,774.7 2135,774.9 2136,774.9 2137,774.8 2138,774.7 2139,775.1 2140,774.8 2141,775.4 2142,775.0 2143,775.1 2144,774.7 2145,774.9 2146,775.1 2147,775.2 2148,774.9 2149,775.3 2150,775.2 2151,775.0 2152,774.6 2153,775.2 2154,774.9 2155,775.2 2156,775.0 2157,775.2 2158,775.3 2159,775.1 2160,775.1 2161,775.3 2162,775.4 2163,775.3 2164,775.1 2165,775.0 2166,774.9 2167,775.0 2168,775.1 2169,775.0 2170,775.0 2171,775.2 2172,775.0 2173,775.1 2174,774.9 2175,775.1 2176,775.6 2177,774.9 2178,775.0 2179,775.0 2180,775.2 2181,775.4 2182,775.9 2183,775.1"/>
<path stroke="#0c0c9c" d="M278,977.0 279,976.8 280,976.6 281,976.2 282,976.4 283,976.6 284,976.5 285,976.4 286,976.0 287,976.7 288,976.6 289,976.4 290,976.6 291,976.5 292,976.4 293,976.3 294,976.3 295,976.3 296,976.5 297,976.5 298,976.3 299,976.4 300,976.0 301,975.5 302,975.2 303,975.6 304,975.1 305,975.0 306,975.2 307,975.4 308,974.6 309,974.4 310,974.3 311,974.2 312,974.2 313,974.3 314,974.1 315,974.5 316,974.1 317,972.8 318,971.8 319,971.3 320,970.3 321,969.2 322,967.2 323,964.4 324,960.4 325,955.4 326,949.3 327,942.1 328,934.7 329,926.8 330,920.6 331,915.7 332,913.5 333,912.7 334,914.3 335,918.8 336,925.1 337,932.1 338,939.4 339,946.6 340,952.7 341,958.5 342,962.3 343,965.8 344,968.4 345,970.1 346,971.5 347,972.2 348,972.9 349,972.9 350,973.0 351,973.4 352,973.8 353,974.4 354,974.2 355,974.3 356,974.4 357,975.0 358,974.9 359,975.4 360,975.3 361,975.2 362,975.2 363,974.9 364,974.6 365,975.1 366,975.2 367,976.2 368,976.1 369,976.3 370,976.1 371,976.0 372,975.6 373,975.5 374,976.2 375,976.0 376,976.0 377,976.3 378,976.2 379,976.1 380,976.8 381,976.6 382,976.3 383,976.2 384,976.0 385,976.3 386,976.5 387,976.2 388,976.2 389,975.8 390,976.0 391,976.4 392,976.1 393,976.2 394,976.1 395,976.1 396,976.3 397,976.0 398,976.5 399,976.8 400,976.8 401,976.3 402,975.8 403,975.9 404,976.1 405,976.2 406,976.2 407,976.2 408,976.1 409,976.3 410,975.8 411,976.1 412,976.2 413,976.0 414,977.0 415,976.5 416,976.3 417,975.8 418,975.9 419,975.9 420,976.2 421,975.8 422,976.0 423,975.4 424,975.5 425,975.0 426,975.2 427,975.5 428,974.9 429,975.2 430,975.2 431,974.6 432,974.4 433,974.4 434,974.6 435,974.8 436,974.3 437,973.9 438,973.8 439,973.0 440,973.4 441,973.4 442,973.2 443,973.5 444,973.1 445,972.6 446,972.8 447,972.4 448,972.2 449,971.9 450,971.8 451,971.7 452,971.5 453,970.9 454,971.2 455,970.8 456,970.5 457,970.5 458,970.1 459,970.0 460,970.1 461,969.9 462,969.3 463,969.3 464,968.8 465,968.3 466,967.8 467,967.8 468,967.3 469,967.3 470,967.0 471,966.4 472,965.9 473,965.1 474,963.6 475,962.9 476,960.1 477,957.5 478,953.2 479,948.2 480,941.5 481,932.6 482,922.4 483,910.3 484,896.9 485,882.9 486,870.3 487,858.8 488,850.5 489,845.3 490,845.4 491,848.9 492,856.7 493,867.1 494,879.7 495,893.4 496,906.8 497,919.9 498,930.7 499,939.9 500,947.8 501,953.6 502,957.7 503,961.1 504,963.9 505,965.7 506,967.3 507,967.9 508,968.9 509,969.4 510,970.0 511,970.4 512,970.8 513,972.1 514,972.2 515,972.6 516,972.8 517,973.5 518,973.3 519,973.1 520,973.6 521,973.5 522,974.2 523,974.0 524,974.2 525,974.5 526,974.3 527,974.5 528,974.8 529,974.5 530,974.8 531,974.7 532,975.0 533,975.6 534,975.9 535,975.6 536,975.6 537,975.4 538,975.8 539,976.0 540,975.5 541,975.4 542,975.4 543,975.7 544,975.9 545,976.0 546,976.2 547,976.3 548,976.2 549,976.3 550,976.1 551,976.4 552,976.6 553,975.8 554,976.5 555,976.4 556,976.6 557,976.5 558,976.8 559,976.6 560,976.6 561,976.4 562,976.4 563,976.6 564,976.3 565,976.4 566,976.3 567,976.5 568,976.8 569,976.7 570,977.0 571,976.6 572,976.5 573,976.5 574,976.3 575,976.6 576,976.4 577,976.3 578,976.6 579,976.4 580,976.5 581,976.6 582,976.9 583,977.2 584,977.0 585,976.6 586,976.9 587,977.4 588,976.9 589,976.7 590,977.0 591,976.8 592,976.6 593,977.0 594,976.6 595,976.9 596,976.5 597,976.7 598,976.7 599,976.4 600,976.8 601,976.3 602,976.6 603,976.6 604,976.9 605,976.4 606,976.7 607,977.2 608,976.7 609,976.6 610,976.8 611,977.6 612,977.1 613,976.5 614,976.5 615,976.4 616,976.2 617,975.9 618,976.5 619,975.8 620,975.9 621,975.4 622,975.0 623,975.6 624,975.2 625,975.5 626,975.4 627,975.0 628,975.2 629,974.5 630,974.7 631,974.8 632,974.1 633,974.0 634,974.2 635,973.8 636,973.1 637,973.2 638,972.9 639,972.7 640,972.1 641,972.1 642,972.0 643,971.5 644,971.6 645,971.4 646,971.5 647,971.5 648,971.0 649,970.6 650,971.1 651,971.1 652,970.7 653,970.9 654,970.9 655,970.7 656,970.3 657,970.1 658,970.4 659,970.1 660,969.8 661,969.9 662,969.4 663,969.4 664,969.4 665,970.1 666,969.3 667,969.4 668,969.4 669,969.2 670,970.3 671,970.9 672,970.7 673,970.9 674,971.2 675,971.6 676,972.0 677,972.5 678,973.2 679,973.6 680,974.1 681,973.8 682,974.7 683,974.6 684,974.7 685,974.8 686,975.4 687,975.5 688,975.4 689,975.7 690,976.4 691,976.3 692,976.2 693,976.0 694,976.3 695,976.0 696,976.2 697,976.0 698,976.4 699,976.2 700,976.7 701,976.9 702,976.7 703,977.0 704,977.2 705,976.7 706,977.1 707,977.1 708,977.1 709,976.8 710,976.7 711,977.0 712,976.7 713,976.7 714,976.9 715,976.4 716,976.1 717,976.7 718,976.9 719,977.3 720,977.1 721,976.6 722,976.8 723,976.9 724,976.9 725,976.9 726,976.9 727,976.9 728,976.4 729,976.5 730,976.1 731,976.0 732,976.3 733,976.0 734,975.6 735,975.6 736,975.8 737,976.0 738,975.8 739,975.8 740,974.8 741,974.8 742,974.9 743,974.5 744,974.4 745,973.8 746,973.6 747,973.5 748,972.8 749,973.1 750,972.4 751,971.8 752,971.9 753,971.1 754,970.8 755,970.5 756,969.8 757,969.3 758,969.1 759,968.8 760,968.4 761,968.6 762,968.5 763,968.1 764,968.1 765,968.5 766,968.2 767,968.4 768,969.1 769,969.5 770,969.6 771,969.9 772,970.3 773,971.2 774,971.5 775,971.7 776,971.6 777,971.9 778,972.4 779,972.6 780,973.1 781,973.5 782,973.8 783,974.0 784,974.1 785,974.3 786,975.3 787,975.8 788,975.8 789,975.9 790,975.9 791,975.7 792,976.0 793,975.7 794,976.0 795,975.9 796,976.1 797,976.6 798,976.5 799,976.5 800,976.7 801,976.8 802,977.1 803,977.0 804,977.1 805,976.8 806,976.6 807,976.9 808,977.1 809,976.6 810,976.3 811,976.4 812,977.0 813,976.7 814,976.9 815,977.4 816,977.3 817,977.1 818,977.1 819,977.2 820,976.6 821,976.5 822,976.7 823,977.4 824,977.7 825,977.2 826,977.2 827,976.7 828,976.7 829,976.9 830,976.8 831,977.0 832,976.9 833,977.0 834,977.3 835,977.0 836,977.1 837,977.1 838,976.9 839,977.0 840,976.9 841,976.7 842,976.7 843,976.6 844,976.4 845,977.1 846,976.4 847,976.9 848,976.7 849,976.4 850,976.7 851,976.5 852,976.6 853,977.2 854,977.2 855,977.1 856,977.2 857,976.5 858,977.2 859,977.1 860,976.8 861,976.9 862,977.2 863,976.9 864,976.9 865,977.5 866,977.5 867,977.3 868,977.0 869,976.5 870,976.4 871,976.7 872,976.8 873,977.3 874,976.9 875,976.8 876,976.6 877,976.3 878,976.6 879,976.3 880,976.4 881,976.2 882,976.5 883,976.3 884,976.5 885,977.0 886,976.7 887,976.6 888,976.3 889,975.8 890,976.6 891,975.8 892,976.5 893,976.5 894,976.1 895,976.1 896,975.8 897,975.8 898,975.7 899,975.5 900,975.2 901,975.0 902,974.9 903,974.7 904,974.6 905,974.6 906,974.3 907,974.1 908,973.8 909,973.7 910,973.5 911,973.4 912,973.3 913,972.9 914,972.4 915,972.8 916,972.8 917,972.8 918,972.8 919,972.2 920,972.5 921,972.6 922,972.6 923,972.1 924,972.2 925,972.5 926,972.6 927,972.4 928,972.5 929,972.8 930,972.3 931,972.2 932,972.4 933,972.3 934,972.6 935,973.0 936,972.9 937,972.8 938,972.9 939,973.5 940,973.8 941,973.1 942,973.4 943,973.5 944,973.1 945,972.9 946,972.9 947,972.3 948,972.2 949,972.1 950,971.6 951,971.4 952,971.4 953,970.4 954,970.6 955,970.4 956,969.3 957,968.3 958,967.0 959,964.8 960,962.8 961,959.7 962,955.7 963,950.0 964,944.1 965,936.2 966,927.2 967,917.1 968,906.9 969,896.2 970,886.5 971,878.3 972,872.8 973,869.9 974,870.0 975,872.4 976,877.4 977,884.5 978,893.0 979,902.5 980,912.8 981,922.5 982,931.4 983,939.5 984,946.7 985,951.8 986,956.9 987,960.6 988,963.5 989,965.4 990,967.4 991,968.8 992,969.6 993,969.9 994,970.7 995,971.4 996,971.7 997,972.4 998,972.3 999,973.3 1000,973.1 1001,973.2 1002,973.9 1003,974.0 1004,974.2 1005,974.2 1006,974.7 1007,974.8 1008,975.1 1009,975.4 1010,975.0 1011,975.6 1012,975.5 1013,975.3 1014,975.9 1015,975.5 1016,976.3 1017,975.8 1018,976.3 1019,975.7 1020,975.1 1021,975.8 1022,975.9 1023,976.5 1024,977.2 1025,976.8 1026,976.5 1027,976.3 1028,976.8 1029,976.5 1030,976.2 1031,976.6 1032,977.2 1033,976.7 1034,976.8 1035,976.9 1036,976.8 1037,976.8 1038,977.0 1039,977.1 1040,976.7 1041,976.3 1042,976.8 1043,976.5 1044,976.7 1045,976.8 1046,977.1 1047,977.0 1048,977.0 1049,976.6 1050,976.8 1051,976.5 1052,977.0 1053,977.3 1054,977.7 1055,977.5 1056,977.2 1057,976.9 1058,976.9 1059,977.2 1060,977.4 1061,977.5 1062,977.2 1063,976.9 1064,976.5 1065,977.1 1066,977.1 1067,977.0 1068,977.2 1069,977.8 1070,977.3 1071,977.1 1072,976.9 1073,977.1 1074,976.7 1075,976.7 1076,977.0 1077,976.9 1078,977.1 1079,977.3 1080,977.2 1081,977.6 1082,977.3 1083,977.0 1084,977.1 1085,977.1 1086,977.3 1087,977.4 1088,977.3 1089,976.9 1090,976.7 1091,977.4 1092,977.3 1093,977.9 1094,977.7 1095,977.4 1096,977.2 1097,976.9 1098,977.1 1099,977.5 1100,977.6 1101,977.7 1102,977.5 1103,977.2 1104,977.3 1105,977.1 1106,977.1 1107,977.0 1108,976.9 1109,976.9 1110,977.0 1111,977.2 1112,977.5 1113,977.5 1114,977.2 1115,977.1 1116,977.7 1117,977.7 1118,977.7 1119,977.6 1120,977.7 1121,977.4 1122,977.1 1123,977.5 1124,977.2 1125,977.3 1126,977.8 1127,977.5 1128,977.2 1129,977.3 1130,976.9 1131,977.0 1132,977.1 1133,977.4 1134,977.9 1135,978.0 1136,978.2 1137,977.8 1138,977.3 1139,977.2 1140,977.3 1141,977.3 1142,977.3 1143,977.6 1144,977.7 1145,977.9 1146,978.1 1147,977.5 1148,977.3 1149,977.7 1150,977.9 1151,977.5 1152,977.4 1153,977.8 1154,977.9 1155,978.1 1156,977.6 1157,977.7 1158,977.7 1159,977.4 1160,977.3 1161,977.4 1162,977.3 1163,977.6 1164,978.0 1165,977.7 1166,977.6 1167,977.7 1168,977.8 1169,977.9 1170,977.4 1171,976.9 1172,977.1 1173,977.3 1174,977.8 1175,977.8 1176,977.5 1177,977.0 1178,977.4 1179,977.6 1180,977.8 1181,977.9 1182,977.7 1183,977.4 1184,977.5 1185,977.7 1186,977.4 1187,977.5 1188,977.3 1189,977.2 1190,977.3 1191,977.3 1192,977.1 1193,977.2 1194,977.3 1195,977.2 1196,977.5 1197,977.7 1198,977.3 1199,977.1 1200,977.0 1201,977.3 1202,976.8 1203,977.2 1204,977.4 1205,977.6 1206,977.5 1207,977.7 1208,977.8 1209,977.9 1210,977.5 1211,976.8 1212,977.4 1213,977.5 1214,977.6 1215,978.1 1216,977.8 1217,977.9 1218,977.6 1219,977.5 1220,977.5 1221,977.6 1222,977.5 1223,978.1 1224,977.4 1225,977.5 1226,977.5 1227,977.7 1228,977.8 1229,977.4 1230,977.4 1231,977.8 1232,977.8 1233,977.3 1234,977.5 1235,978.2 1236,977.7 1237,977.8 1238,978.2 1239,978.3 1240,977.6 1241,977.5 1242,977.7 1243,977.6 1244,977.6 1245,977.7 1246,977.6 1247,977.6 1248,977.9 1249,977.6 1250,977.9 1251,977.2 1252,977.7 1253,977.5 1254,977.3 1255,977.2 1256,977.6 1257,977.6 1258,977.3 1259,977.1 1260,977.3 1261,977.5 1262,977.6 1263,977.5 1264,977.4 1265,977.6 1266,977.1 1267,977.6 1268,978.2 1269,977.7 1270,977.7 1271,977.6 1272,977.3 1273,977.3 1274,977.4 1275,977.3 1276,977.5 1277,977.5 1278,977.8 1279,977.2 1280,977.1 1281,977.5 1282,978.0 1283,978.0 1284,977.9 1285,977.6 1286,977.5 1287,977.6 1288,978.1 1289,977.8 1290,977.9 1291,977.5 1292,977.6 1293,977.5 1294,977.2 1295,977.5 1296,977.7 1297,977.5 1298,977.9 1299,977.8 1300,977.7 1301,977.9 1302,977.9 1303,978.3 1304,977.7 1305,977.8 1306,977.6 1307,978.0 1308,977.4 1309,977.5 1310,977.7 1311,977.2 1312,977.2 1313,977.7 1314,977.9 1315,977.3 1316,977.7 1317,977.9 1318,977.5 1319,977.8 1320,977.7 1321,978.1 1322,977.5 1323,977.5 1324,977.5 1325,977.3 1326,977.5 1327,977.7 1328,977.4 1329,977.1 1330,977.4 1331,977.8 1332,978.1 1333,978.3 1334,977.7 1335,977.1 1336,977.2 1337,977.5 1338,977.3 1339,977.5 1340,977.3 1341,977.8 1342,977.6 1343,977.6 1344,977.4 1345,978.0 1346,977.4 1347,977.2 1348,977.5 1349,977.5 1350,977.4 1351,977.9 1352,977.6 1353,977.8 1354,977.7 1355,977.5 1356,977.7 1357,977.8 1358,977.4 1359,977.8 1360,977.9 1361,977.8 1362,977.5 1363,977.2 1364,977.1 1365,977.2 1366,977.0 1367,977.7 1368,978.0 1369,978.2 1370,977.8 1371,977.3 1372,977.7 1373,977.6 1374,977.5 1375,977.8 1376,977.8 1377,978.0 1378,977.6 1379,977.6 1380,977.7 1381,977.5 1382,977.5 1383,977.2 1384,977.0 1385,977.8 1386,977.8 1387,977.6 1388,977.6 1389,978.0 1390,978.0 1391,977.4 1392,977.4 1393,977.1 1394,976.8 1395,977.2 1396,977.8 1397,977.9 1398,977.5 1399,977.5 1400,977.7 1401,977.7 1402,977.6 1403,977.3 1404,977.1 1405,977.4 1406,977.9 1407,977.8 1408,978.1 1409,977.8 1410,977.7 1411,977.7 1412,977.9 1413,977.6 1414,977.2 1415,977.2 1416,977.4 1417,978.0 1418,977.9 1419,977.1 1420,977.2 1421,977.4 1422,977.5 1423,977.7 1424,977.7 1425,977.7 1426,978.1 1427,977.6 1428,978.0 1429,977.8 1430,977.7 1431,977.9 1432,978.0 1433,977.3 1434,977.8 1435,978.0 1436,977.7 1437,977.8 1438,977.8 1439,978.0 1440,978.2 1441,978.3 1442,978.1 1443,977.5 1444,977.8 1445,978.1 1446,977.4 1447,977.3 1448,977.9 1449,977.6 1450,977.8 1451,977.3 1452,977.5 1453,977.4 1454,977.3 1455,977.3 1456,977.7 1457,978.0 1458,978.0 1459,977.4 1460,977.7 1461,977.8 1462,977.8 1463,977.6 1464,977.4 1465,977.6 1466,977.9 1467,978.2 1468,978.3 1469,978.2 1470,977.6 1471,977.9 1472,977.7 1473,978.1 1474,977.3 1475,977.5 1476,977.1 1477,977.1 1478,977.2 1479,977.5 1480,977.9 1481,977.8 1482,977.5 1483,977.2 1484,977.8 1485,977.7 1486,977.9 1487,977.6 1488,977.5 1489,977.6 1490,977.8 1491,977.6 1492,977.8 1493,977.7 1494,978.0 1495,978.3 1496,978.2 1497,977.3 1498,977.4 1499,977.6 1500,977.5 1501,977.9 1502,977.7 1503,977.8 1504,977.4 1505,977.2 1506,977.5 1507,977.6 1508,977.5 1509,977.8 1510,977.8 1511,977.7 1512,977.6 1513,977.7 1514,977.4 1515,977.5 1516,977.4 1517,977.7 1518,977.0 1519,977.1 1520,977.4 1521,977.3 1522,977.2 1523,977.6 1524,977.4 1525,977.5 1526,977.4 1527,977.3 1528,977.6 1529,977.8 1530,977.3 1531,976.8 1532,976.6 1533,976.9 1534,976.9 1535,976.7 1536,977.4 1537,977.1 1538,976.9 1539,977.5 1540,976.9 1541,976.8 1542,976.1 1543,976.0 1544,976.3 1545,976.2 1546,976.1 1547,976.2 1548,976.3 1549,975.9 1550,976.0 1551,975.6 1552,975.9 1553,975.4 1554,975.1 1555,974.8 1556,974.0 1557,973.7 1558,972.7 1559,972.2 1560,971.7 1561,970.7 1562,970.5 1563,969.9 1564,969.1 1565,968.1 1566,967.8 1567,966.7 1568,965.6 1569,964.8 1570,964.3 1571,964.0 1572,963.9 1573,963.8 1574,964.0 1575,964.0 1576,963.8 1577,964.4 1578,964.4 1579,965.6 1580,966.3 1581,967.2 1582,967.5 1583,968.2 1584,969.1 1585,970.1 1586,970.9 1587,971.4 1588,972.0 1589,973.1 1590,973.8 1591,974.0 1592,974.2 1593,974.4 1594,975.2 1595,975.9 1596,975.8 1597,975.5 1598,976.2 1599,976.1 1600,976.1 1601,976.3 1602,976.6 1603,977.0 1604,976.9 1605,976.7 1606,977.0 1607,977.2 1608,977.2 1609,977.2 1610,977.0 1611,976.8 1612,977.2 1613,977.2 1614,977.0 1615,977.1 1616,977.1 1617,976.6 1618,977.4 1619,977.2 1620,976.8 1621,976.6 1622,976.6 1623,976.3 1624,975.7 1625,976.2 1626,976.2 1627,975.1 1628,974.7 1629,974.3 1630,974.8 1631,974.9 1632,974.2 1633,974.0 1634,974.1 1635,973.2 1636,973.5 1637,973.4 1638,973.0 1639,972.9 1640,972.5 1641,972.6 1642,973.0 1643,972.5 1644,972.8 1645,972.7 1646,972.6 1647,973.0 1648,973.2 1649,973.3 1650,973.7 1651,973.6 1652,973.7 1653,974.6 1654,975.0 1655,974.4 1656,975.0 1657,974.9 1658,975.8 1659,976.9 1660,976.4 1661,976.9 1662,976.7 1663,977.1 1664,976.6 1665,977.2 1666,977.3 1667,977.2 1668,977.8 1669,977.3 1670,977.5 1671,977.3 1672,977.5 1673,977.9 1674,977.2 1675,977.2 1676,977.4 1677,977.2 1678,977.3 1679,977.0 1680,977.1 1681,977.3 1682,977.0 1683,976.7 1684,976.3 1685,977.2 1686,977.7 1687,977.7 1688,977.9 1689,977.6 1690,977.6 1691,977.9 1692,977.9 1693,977.4 1694,977.7 1695,977.6 1696,977.6 1697,978.3 1698,978.2 1699,977.8 1700,978.0 1701,978.2 1702,978.5 1703,978.3 1704,978.1 1705,977.9 1706,977.9 1707,977.6 1708,977.7 1709,977.8 1710,978.0 1711,977.6 1712,977.6 1713,977.4 1714,977.5 1715,977.1 1716,977.2 1717,977.8 1718,977.9 1719,977.6 1720,977.5 1721,977.5 1722,977.3 1723,977.1 1724,977.4 1725,978.1 1726,977.9 1727,977.8 1728,977.8 1729,977.8 1730,977.8 1731,977.4 1732,977.1 1733,977.1 1734,977.7 1735,977.7 1736,977.6 1737,977.9 1738,977.7 1739,977.8 1740,977.8 1741,977.9 1742,977.8 1743,977.6 1744,977.3 1745,977.5 1746,977.5 1747,977.6 1748,977.3 1749,978.1 1750,977.6 1751,977.8 1752,977.5 1753,977.5 1754,977.9 1755,978.0 1756,978.3 1757,977.8 1758,977.6 1759,977.9 1760,977.8 1761,978.1 1762,977.9 1763,977.4 1764,977.7 1765,977.9 1766,978.0 1767,977.9 1768,977.7 1769,977.8 1770,977.6 1771,977.3 1772,977.4 1773,977.7 1774,978.0 1775,978.0 1776,977.6 1777,977.5 1778,977.6 1779,978.0 1780,977.4 1781,977.8 1782,978.3 1783,978.1 1784,978.7 1785,977.5 1786,977.9 1787,977.9 1788,977.6 1789,977.9 1790,977.3 1791,977.1 1792,977.0 1793,977.1 1794,977.6 1795,977.5 1796,977.8 1797,977.8 1798,977.6 1799,977.6 1800,977.4 1801,977.3 1802,977.4 1803,977.5 1804,977.6 1805,977.6 1806,977.9 1807,978.2 1808,978.4 1809,977.7 1810,977.7 1811,977.6 1812,978.2 1813,977.8 1814,977.4 1815,977.2 1816,977.4 1817,977.9 1818,977.4 1819,977.7 1820,977.1 1821,977.7 1822,977.4 1823,977.7 1824,977.2 1825,977.2 1826,977.6 1827,977.9 1828,977.9 1829,977.7 1830,976.9 1831,977.3 1832,977.5 1833,977.2 1834,977.3 1835,977.4 1836,978.3 1837,978.0 1838,977.5 1839,977.6 1840,977.2 1841,977.8 1842,977.2 1843,977.5 1844,978.0 1845,977.8 1846,977.3 1847,977.6 1848,977.5 1849,977.4 1850,977.3 1851,977.1 1852,977.1 1853,977.4 1854,977.4 1855,977.4 1856,977.3 1857,977.4 1858,977.2 1859,977.3 1860,976.7 1861,977.0 1862,977.3 1863,977.2 1864,977.1 1865,977.3 1866,977.4 1867,977.8 1868,977.3 1869,977.2 1870,976.6 1871,976.8 1872,977.1 1873,977.4 1874,977.2 1875,977.1 1876,977.2 1877,977.0 1878,977.1 1879,977.1 1880,976.9 1881,976.5 1882,976.7 1883,976.9 1884,976.6 1885,976.6 1886,976.6 1887,976.5 1888,976.7 1889,976.7 1890,976.0 1891,975.9 1892,976.3 1893,975.9 1894,975.7 1895,976.0 1896,976.1 1897,975.8 1898,975.1 1899,974.9 1900,974.1 1901,973.6 1902,973.7 1903,973.3 1904,972.1 1905,971.3 1906,970.7 1907,970.2 1908,969.3 1909,967.9 1910,966.2 1911,965.5 1912,964.6 1913,963.5 1914,963.3 1915,962.0 1916,960.5 1917,959.8 1918,959.7 1919,959.5 1920,959.3 1921,958.6 1922,958.9 1923,959.3 1924,960.0 1925,960.1 1926,960.5 1927,961.2 1928,962.0 1929,963.1 1930,964.3 1931,965.1 1932,966.4 1933,967.2 1934,968.3 1935,969.0 1936,970.0 1937,971.0 1938,971.7 1939,972.2 1940,972.3 1941,973.1 1942,973.6 1943,973.6 1944,974.4 1945,974.7 1946,974.7 1947,975.5 1948,975.9 1949,976.1 1950,975.7 1951,975.9 1952,976.0 1953,975.8 1954,976.4 1955,975.7 1956,976.3 1957,976.3 1958,976.4 1959,976.6 1960,976.3 1961,976.0 1962,976.5 1963,976.1 1964,976.6 1965,976.9 1966,977.1 1967,977.1 1968,977.0 1969,977.2 1970,976.6 1971,976.9 1972,976.5 1973,976.3 1974,976.7 1975,976.6 1976,976.4 1977,976.3 1978,976.3 1979,976.7 1980,976.5 1981,976.2 1982,976.1 1983,976.2 1984,976.2 1985,976.2 1986,976.3 1987,976.0 1988,976.0 1989,975.6 1990,975.1 1991,974.8 1992,974.9 1993,974.7 1994,974.7 1995,973.9 1996,973.4 1997,973.4 1998,973.3 1999,972.9 2000,972.7 2001,972.1 2002,971.8 2003,971.3 2004,971.4 2005,971.0 2006,971.2 2007,970.7 2008,970.5 2009,969.7 2010,970.0 2011,969.5 2012,969.4 2013,969.2 2014,969.3 2015,969.4 2016,969.7 2017,969.6 2018,970.0 2019,970.0 2020,970.1 2021,970.4 2022,970.7 2023,971.4 2024,971.6 2025,972.3 2026,972.9 2027,972.8 2028,973.0 2029,973.1 2030,973.4 2031,974.0 2032,974.4 2033,974.6 2034,974.3 2035,974.8 2036,975.0 2037,974.9 2038,974.6 2039,975.1 2040,975.0 2041,975.5 2042,975.7 2043,975.4 2044,975.7 2045,975.7 2046,975.4 2047,975.7 2048,975.6 2049,975.3 2050,976.0 2051,975.2 2052,975.1 2053,975.0 2054,974.5 2055,974.0 2056,973.6 2057,972.7 2058,972.2 2059,972.0 2060,971.4 2061,970.5 2062,969.6 2063,968.5 2064,968.2 2065,967.5 2066,966.9 2067,966.2 2068,965.8 2069,964.5 2070,964.4 2071,964.2 2072,964.0 2073,963.5 2074,963.3 2075,963.7 2076,964.0 2077,964.3 2078,964.9 2079,965.1 2080,965.9 2081,966.7 2082,967.2 2083,967.4 2084,968.6 2085,969.5 2086,969.8 2087,970.4 2088,970.9 2089,971.7 2090,972.6 2091,973.2 2092,973.9 2093,974.3 2094,974.4 2095,974.8 2096,974.9 2097,975.6 2098,975.5 2099,975.9 2100,976.4 2101,976.2 2102,977.0 2103,976.7 2104,976.3 2105,976.3 2106,976.0 2107,976.5 2108,976.7 2109,977.0 2110,977.3 2111,976.9 2112,977.2 2113,977.2 2114,977.3 2115,977.0 2116,976.8 2117,976.6 2118,977.2 2119,977.4 2120,977.3 2121,977.4 2122,977.5 2123,977.5 2124,977.5 2125,977.4 2126,977.3 2127,977.2 2128,977.5 2129,977.3 2130,977.3 2131,977.7 2132,977.6 2133,977.5 2134,977.6 2135,977.8 2136,978.0 2137,977.8 2138,977.9 2139,977.7 2140,977.7 2141,977.7 2142,977.5 2143,978.0 2144,977.4 2145,977.5 2146,977.1 2147,977.6 2148,977.4 2149,977.1 2150,977.7 2151,977.8 2152,977.5 2153,977.3 2154,977.7 2155,977.8 2156,977.7 2157,978.0 2158,977.6 2159,978.2 2160,978.0 2161,977.8 2162,978.1 2163,977.8 2164,977.5 2165,977.8 2166,977.2 2167,977.1 2168,977.3 2169,977.6 2170,977.4 2171,978.0 2172,977.9 2173,978.0 2174,977.6 2175,978.1 2176,978.1 2177,977.7 2178,977.9 2179,978.0 2180,977.8 2181,977.6 2182,978.4 2183,977.9"/>
<path stroke="#b00808" d="M278,1180.8 279,1180.3 280,1180.2 281,1179.9 282,1179.8 283,1180.4 284,1180.2 285,1180.1 286,1180.4 287,1180.7 288,1180.6 289,1180.6 290,1180.0 291,1180.3 292,1180.4 293,1179.8 294,1179.6 295,1179.9 296,1179.5 297,1179.3 298,1179.2 299,1179.6 300,1179.4 301,1179.4 302,1179.6 303,1179.9 304,1179.9 305,1179.8 306,1179.6 307,1178.7 308,1178.8 309,1179.1 310,1179.1 311,1178.6 312,1178.7 313,1178.4 314,1178.2 315,1177.8 316,1177.3 317,1176.7 318,1176.3 319,1176.2 320,1176.7 321,1175.1 322,1174.2 323,1172.8 324,1170.3 325,1166.4 326,1161.1 327,1154.5 328,1146.5 329,1138.2 330,1130.5 331,1124.4 332,1121.0 333,1120.5 334,1123.8 335,1129.4 336,1136.4 337,1143.9 338,1151.5 339,1158.4 340,1164.0 341,1168.0 342,1171.4 343,1173.0 344,1175.0 345,1175.3 346,1176.3 347,1176.5 348,1176.5 349,1177.1 350,1177.5 351,1177.8 352,1178.3 353,1178.3 354,1178.1 355,1178.5 356,1179.0 357,1179.2 358,1178.6 359,1178.6 360,1178.7 361,1178.8 362,1178.4 363,1178.6 364,1178.7 365,1178.6 366,1179.6 367,1179.6 368,1179.6 369,1179.8 370,1179.6 371,1179.8 372,1179.9 373,1179.9 374,1179.8 375,1180.0 376,1179.9 377,1179.7 378,1179.7 379,1179.8 380,1179.6 381,1179.7 382,1179.5 383,1179.6 384,1179.8 385,1180.1 386,1180.5 387,1180.4 388,1179.8 389,1179.7 390,1179.1 391,1179.3 392,1179.3 393,1179.6 394,1179.8 395,1180.1 396,1180.0 397,1179.5 398,1179.6 399,1180.3 400,1180.2 401,1180.2 402,1180.1 403,1179.2 404,1179.5 405,1179.6 406,1179.4 407,1179.5 408,1179.9 409,1179.8 410,1179.8 411,1179.7 412,1179.7 413,1179.8 414,1179.8 415,1179.4 416,1179.3 417,1179.0 418,1179.6 419,1179.5 420,1179.9 421,1180.0 422,1179.3 423,1179.3 424,1179.5 425,1178.8 426,1179.1 427,1179.1 428,1178.9 429,1179.1 430,1178.7 431,1178.8 432,1179.2 433,1178.8 434,1179.0 435,1178.5 436,1178.4 437,1178.7 438,1178.5 439,1178.5 440,1178.5 441,1178.6 442,1177.8 443,1178.2 444,1177.7 445,1177.6 446,1177.2 447,1177.6 448,1177.3 449,1176.4 450,1176.2 451,1176.2 452,1176.1 453,1176.1 454,1176.0 455,1175.7 456,1175.6 457,1175.4 458,1175.2 459,1175.5 460,1175.1 461,1175.0 462,1174.9 463,1174.4 464,1174.6 465,1174.2 466,1174.2 467,1173.7 468,1173.6 469,1173.1 470,1172.5 471,1172.0 472,1171.2 473,1171.2 474,1170.2 475,1169.1 476,1168.8 477,1167.2 478,1165.3 479,1162.1 480,1157.0 481,1150.5 482,1141.7 483,1129.6 484,1114.6 485,1099.2 486,1082.7 487,1068.0 488,1056.5 489,1050.3 490,1049.5 491,1054.6 492,1065.5 493,1079.5 494,1095.5 495,1110.7 496,1125.3 497,1137.5 498,1148.2 499,1155.5 500,1161.2 501,1164.8 502,1167.6 503,1169.5 504,1171.1 505,1172.2 506,1173.4 507,1174.0 508,1174.8 509,1174.9 510,1175.4 511,1175.2 512,1176.0 513,1176.2 514,1175.9 515,1176.5 516,1176.7 517,1177.6 518,1177.5 519,1177.7 520,1178.0 521,1178.3 522,1178.9 523,1178.7 524,1178.4 525,1178.7 526,1178.7 527,1178.7 528,1178.8 529,1178.5 530,1179.0 531,1179.2 532,1179.2 533,1179.2 534,1179.1 535,1179.4 536,1179.1 537,1179.1 538,1179.4 539,1179.2 540,1179.5 541,1179.4 542,1179.5 543,1179.6 544,1179.8 545,1179.7 546,1179.3 547,1179.3 548,1179.5 549,1179.4 550,1178.9 551,1178.8 552,1179.2 553,1179.7 554,1180.1 555,1180.7 556,1180.0 557,1179.6 558,1179.6 559,1179.8 560,1179.9 561,1180.4 562,1180.1 563,1180.4 564,1180.3 565,1180.0 566,1179.5 567,1179.8 568,1179.9 569,1179.4 570,1180.1 571,1179.8 572,1180.0 573,1180.4 574,1180.4 575,1180.1 576,1180.0 577,1180.2 578,1180.2 579,1180.1 580,1180.3 581,1180.5 582,1180.2 583,1179.8 584,1180.0 585,1179.6 586,1179.8 587,1180.0 588,1179.9 589,1179.6 590,1180.4 591,1180.1 592,1180.3 593,1180.3 594,1180.0 595,1180.5 596,1180.2 597,1180.4 598,1180.3 599,1180.5 600,1179.8 601,1180.0 602,1180.2 603,1180.0 604,1179.3 605,1179.5 606,1179.7 607,1180.0 608,1179.8 609,1179.5 610,1180.0 611,1180.1 612,1180.0 613,1180.3 614,1180.3 615,1180.3 616,1179.5 617,1180.2 618,1179.9 619,1179.9 620,1180.2 621,1180.1 622,1180.1 623,1180.2 624,1180.7 625,1180.4 626,1179.3 627,1179.4 628,1179.5 629,1179.6 630,1179.5 631,1179.7 632,1179.7 633,1179.6 634,1179.2 635,1178.6 636,1179.0 637,1178.8 638,1178.5 639,1178.3 640,1178.6 641,1177.7 642,1178.0 643,1177.9 644,1178.3 645,1177.2 646,1177.4 647,1177.3 648,1176.9 649,1176.8 650,1176.8 651,1177.0 652,1177.3 653,1177.4 654,1176.9 655,1177.1 656,1177.4 657,1177.8 658,1178.6 659,1179.1 660,1178.6 661,1178.2 662,1179.2 663,1179.2 664,1179.7 665,1179.2 666,1179.4 667,1179.3 668,1179.3 669,1179.2 670,1179.5 671,1180.3 672,1180.0 673,1179.9 674,1179.4 675,1180.1 676,1180.2 677,1180.2 678,1180.1 679,1180.1 680,1180.6 681,1179.9 682,1179.9 683,1180.3 684,1179.9 685,1179.6 686,1179.5 687,1179.4 688,1179.7 689,1180.3 690,1180.1 691,1179.7 692,1179.8 693,1180.3 694,1180.5 695,1180.0 696,1179.9 697,1180.1 698,1180.1 699,1180.3 700,1180.3 701,1180.4 702,1180.4 703,1180.7 704,1179.9 705,1179.9 706,1179.9 707,1180.0 708,1179.8 709,1180.5 710,1180.6 711,1180.4 712,1180.2 713,1180.3 714,1180.1 715,1180.3 716,1179.8 717,1179.6 718,1179.6 719,1180.2 720,1180.4 721,1180.3 722,1180.6 723,1180.8 724,1180.4 725,1180.6 726,1180.6 727,1180.1 728,1179.8 729,1180.2 730,1179.9 731,1179.6 732,1179.7 733,1179.8 734,1180.3 735,1180.0 736,1180.3 737,1179.7 738,1179.8 739,1180.0 740,1179.7 741,1179.5 742,1179.6 743,1179.2 744,1178.7 745,1178.6 746,1178.8 747,1179.2 748,1178.9 749,1178.8 750,1178.7 751,1178.9 752,1179.1 753,1178.6 754,1178.6 755,1177.9 756,1177.9 757,1178.2 758,1178.4 759,1177.9 760,1177.6 761,1177.4 762,1177.7 763,1177.5 764,1177.8 765,1177.3 766,1177.3 767,1176.4 768,1176.6 769,1177.1 770,1177.0 771,1177.5 772,1177.9 773,1177.4 774,1177.7 775,1178.3 776,1178.5 777,1178.4 778,1178.4 779,1178.5 780,1178.3 781,1178.3 782,1178.4 783,1178.1 784,1178.5 785,1178.4 786,1178.9 787,1178.6 788,1178.4 789,1178.7 790,1179.0 791,1179.6 792,1179.5 793,1179.7 794,1179.1 795,1179.0 796,1179.2 797,1179.6 798,1179.6 799,1179.6 800,1179.5 801,1179.3 802,1179.7 803,1180.1 804,1179.6 805,1180.0 806,1179.8 807,1179.2 808,1179.1 809,1179.3 810,1179.8 811,1180.2 812,1180.7 813,1180.3 814,1180.1 815,1180.2 816,1180.2 817,1180.5 818,1180.7 819,1180.5 820,1180.6 821,1180.2 822,1180.1 823,1180.3 824,1179.9 825,1180.3 826,1180.2 827,1180.3 828,1180.9 829,1180.8 830,1180.4 831,1180.2 832,1179.8 833,1180.3 834,1179.9 835,1180.4 836,1180.6 837,1180.4 838,1180.1 839,1180.2 840,1180.1 841,1179.9 842,1179.8 843,1180.0 844,1179.8 845,1179.8 846,1180.5 847,1180.1 848,1180.3 849,1180.3 850,1180.1 851,1180.3 852,1180.3 853,1180.5 854,1180.4 855,1180.2 856,1180.3 857,1179.9 858,1180.1 859,1179.8 860,1180.1 861,1180.5 862,1180.8 863,1180.2 864,1180.0 865,1179.9 866,1180.0 867,1180.0 868,1179.8 869,1180.1 870,1179.7 871,1180.2 872,1180.3 873,1180.5 874,1180.1 875,1180.0 876,1180.4 877,1180.1 878,1180.4 879,1180.3 880,1180.1 881,1180.4 882,1181.0 883,1180.5 884,1179.9 885,1180.2 886,1179.8 887,1180.1 888,1179.9 889,1180.6 890,1180.5 891,1180.6 892,1180.2 893,1180.4 894,1180.8 895,1180.8 896,1180.2 897,1180.5 898,1180.2 899,1179.4 900,1179.4 901,1179.8 902,1180.1 903,1179.7 904,1179.8 905,1180.2 906,1180.2 907,1179.9 908,1179.5 909,1179.4 910,1179.8 911,1179.4 912,1179.8 913,1178.9 914,1179.1 915,1179.5 916,1179.2 917,1179.8 918,1179.9 919,1180.3 920,1179.9 921,1179.9 922,1179.7 923,1179.3 924,1179.4 925,1179.2 926,1179.3 927,1179.6 928,1179.4 929,1178.9 930,1179.7 931,1179.2 932,1179.5 933,1179.6 934,1179.5 935,1179.1 936,1178.6 937,1178.8 938,1178.9 939,1178.7 940,1178.3 941,1178.9 942,1178.3 943,1178.8 944,1177.3 945,1177.7 946,1177.5 947,1177.6 948,1177.4 949,1176.5 950,1176.5 951,1176.1 952,1175.5 953,1175.4 954,1175.2 955,1174.1 956,1174.2 957,1173.4 958,1172.9 959,1171.9 960,1171.4 961,1169.9 962,1168.1 963,1165.3 964,1162.1 965,1156.8 966,1149.2 967,1139.7 968,1128.1 969,1114.0 970,1098.8 971,1084.7 972,1072.1 973,1062.9 974,1057.6 975,1056.5 976,1060.6 977,1068.0 978,1079.2 979,1091.4 980,1104.5 981,1117.5 982,1129.7 983,1139.9 984,1148.3 985,1155.2 986,1160.8 987,1164.6 988,1167.7 989,1170.2 990,1171.3 991,1172.7 992,1172.8 993,1174.3 994,1175.1 995,1175.1 996,1175.8 997,1175.7 998,1176.0 999,1176.6 1000,1176.6 1001,1177.3 1002,1177.5 1003,1177.6 1004,1177.9 1005,1177.9 1006,1178.1 1007,1178.6 1008,1178.0 1009,1178.3 1010,1178.5 1011,1178.6 1012,1178.3 1013,1179.0 1014,1179.0 1015,1179.3 1016,1179.3 1017,1178.7 1018,1178.8 1019,1179.1 1020,1179.3 1021,1179.5 1022,1178.7 1023,1179.5 1024,1179.6 1025,1180.0 1026,1179.7 1027,1179.3 1028,1179.5 1029,1179.4 1030,1179.7 1031,1179.7 1032,1179.6 1033,1179.8 1034,1179.8 1035,1179.9 1036,1179.6 1037,1179.7 1038,1180.1 1039,1180.0 1040,1180.4 1041,1180.5 1042,1180.6 1043,1180.3 1044,1180.0 1045,1180.2 1046,1179.9 1047,1180.0 1048,1179.6 1049,1179.9 1050,1179.6 1051,1179.5 1052,1180.3 1053,1180.4 1054,1179.9 1055,1180.2 1056,1180.4 1057,1180.3 1058,1180.0 1059,1180.6 1060,1179.9 1061,1179.6 1062,1179.9 1063,1180.2 1064,1180.1 1065,1180.2 1066,1180.4 1067,1180.5 1068,1180.9 1069,1180.5 1070,1180.3 1071,1180.3 1072,1180.3 1073,1180.4 1074,1180.5 1075,1180.3 1076,1180.2 1077,1180.9 1078,1180.1 1079,1180.2 1080,1180.3 1081,1180.3 1082,1180.3 1083,1180.5 1084,1180.0 1085,1180.3 1086,1180.0 1087,1180.0 1088,1180.4 1089,1180.3 1090,1180.6 1091,1180.4 1092,1180.4 1093,1180.1 1094,1180.1 1095,1180.1 1096,1180.2 1097,1180.0 1098,1180.4 1099,1179.8 1100,1180.0 1101,1180.7 1102,1180.8 1103,1180.5 1104,1180.8 1105,1180.7 1106,1180.4 1107,1180.6 1108,1180.6 1109,1180.5 1110,1180.4 1111,1180.7 1112,1180.5 1113,1180.6 1114,1180.4 1115,1180.7 1116,1180.3 1117,1179.6 1118,1179.9 1119,1180.2 1120,1180.6 1121,1180.2 1122,1180.8 1123,1180.4 1124,1180.8 1125,1180.7 1126,1180.2 1127,1180.6 1128,1180.5 1129,1180.5 1130,1180.1 1131,1180.2 1132,1180.5 1133,1180.3 1134,1180.0 1135,1180.0 1136,1179.8 1137,1180.3 1138,1180.2 1139,1180.0 1140,1180.1 1141,1180.4 1142,1180.8 1143,1180.7 1144,1180.2 1145,1180.4 1146,1180.4 1147,1180.1 1148,1180.1 1149,1180.6 1150,1180.8 1151,1180.4 1152,1180.7 1153,1180.9 1154,1181.0 1155,1180.4 1156,1180.0 1157,1179.9 1158,1179.7 1159,1179.9 1160,1180.5 1161,1180.7 1162,1180.6 1163,1180.8 1164,1180.3 1165,1180.6 1166,1180.8 1167,1180.8 1168,1181.0 1169,1180.9 1170,1180.8 1171,1180.7 1172,1180.9 1173,1180.4 1174,1180.6 1175,1180.8 1176,1181.1 1177,1180.5 1178,1180.5 1179,1180.3 1180,1180.4 1181,1180.7 1182,1180.1 1183,1180.4 1184,1179.9 1185,1180.1 1186,1180.2 1187,1180.6 1188,1180.9 1189,1180.4 1190,1180.3 1191,1180.2 1192,1180.2 1193,1180.4 1194,1180.6 1195,1180.4 1196,1180.1 1197,1180.2 1198,1180.3 1199,1180.4 1200,1180.1 1201,1179.8 1202,1180.2 1203,1180.2 1204,1180.2 1205,1180.2 1206,1180.1 1207,1180.1 1208,1180.5 1209,1180.4 1210,1180.8 1211,1180.5 1212,1180.9 1213,1180.6 1214,1180.7 1215,1180.6 1216,1180.5 1217,1180.7 1218,1180.2 1219,1180.3 1220,1180.7 1221,1180.9 1222,1180.4 1223,1180.1 1224,1180.4 1225,1180.7 1226,1180.5 1227,1180.4 1228,1180.5 1229,1180.7 1230,1181.0 1231,1180.1 1232,1180.1 1233,1179.8 1234,1180.3 1235,1180.2 1236,1180.5 1237,1180.1 1238,1180.5 1239,1180.1 1240,1180.8 1241,1180.9 1242,1181.0 1243,1180.2 1244,1180.8 1245,1180.9 1246,1180.5 1247,1180.5 1248,1180.6 1249,1180.1 1250,1180.1 1251,1180.6 1252,1180.4 1253,1180.4 1254,1179.9 1255,1180.1 1256,1180.0 1257,1180.1 1258,1180.6 1259,1180.6 1260,1180.6 1261,1180.9 1262,1180.7 1263,1181.0 1264,1181.0 1265,1180.9 1266,1180.5 1267,1180.6 1268,1181.1 1269,1180.6 1270,1180.6 1271,1180.5 1272,1180.1 1273,1180.3 1274,1180.3 1275,1180.1 1276,1180.5 1277,1180.4 1278,1180.8 1279,1180.7 1280,1180.8 1281,1181.3 1282,1180.9 1283,1180.1 1284,1180.3 1285,1180.4 1286,1180.5 1287,1180.6 1288,1180.5 1289,1180.6 1290,1180.2 1291,1180.1 1292,1180.4 1293,1180.7 1294,1181.1 1295,1181.0 1296,1180.8 1297,1181.2 1298,1180.6 1299,1180.3 1300,1180.4 1301,1180.3 1302,1180.4 1303,1180.1 1304,1179.7 1305,1180.2 1306,1180.5 1307,1180.2 1308,1179.8 1309,1180.4 1310,1180.5 1311,1180.6 1312,1180.3 1313,1180.5 1314,1180.2 1315,1180.1 1316,1180.4 1317,1180.3 1318,1180.0 1319,1180.5 1320,1181.0 1321,1181.1 1322,1180.6 1323,1181.0 1324,1180.4 1325,1181.2 1326,1180.4 1327,1180.8 1328,1180.7 1329,1180.5 1330,1180.3 1331,1180.3 1332,1179.9 1333,1180.0 1334,1180.3 1335,1180.5 1336,1180.3 1337,1180.3 1338,1180.4 1339,1180.2 1340,1180.4 1341,1180.6 1342,1180.1 1343,1179.6 1344,1180.2 1345,1180.0 1346,1179.7 1347,1179.6 1348,1179.6 1349,1179.9 1350,1180.0 1351,1180.3 1352,1180.7 1353,1180.3 1354,1180.8 1355,1180.6 1356,1180.3 1357,1180.5 1358,1180.2 1359,1180.5 1360,1180.8 1361,1180.4 1362,1180.5 1363,1181.2 1364,1181.1 1365,1180.9 1366,1181.1 1367,1180.3 1368,1180.6 1369,1180.6 1370,1180.3 1371,1180.4 1372,1180.1 1373,1180.4 1374,1180.8 1375,1181.3 1376,1181.4 1377,1181.0 1378,1180.5 1379,1181.1 1380,1180.8 1381,1180.9 1382,1180.0 1383,1180.6 1384,1180.8 1385,1180.6 1386,1180.2 1387,1180.6 1388,1180.3 1389,1180.8 1390,1180.8 1391,1180.7 1392,1180.4 1393,1180.4 1394,1180.8 1395,1180.6 1396,1180.7 1397,1180.2 1398,1180.5 1399,1180.2 1400,1180.4 1401,1180.1 1402,1180.3 1403,1180.4 1404,1180.5 1405,1180.3 1406,1180.2 1407,1179.3 1408,1179.6 1409,1180.4 1410,1180.3 1411,1180.1 1412,1180.3 1413,1180.5 1414,1180.5 1415,1180.4 1416,1180.1 1417,1180.0 1418,1180.3 1419,1179.7 1420,1179.8 1421,1180.6 1422,1180.1 1423,1180.4 1424,1180.6 1425,1180.5 1426,1180.9 1427,1180.3 1428,1179.9 1429,1180.2 1430,1180.6 1431,1180.3 1432,1180.0 1433,1180.0 1434,1180.0 1435,1180.1 1436,1180.4 1437,1180.6 1438,1180.5 1439,1180.7 1440,1180.2 1441,1180.2 1442,1179.9 1443,1180.1 1444,1180.2 1445,1180.6 1446,1180.8 1447,1180.5 1448,1180.6 1449,1180.5 1450,1180.8 1451,1180.3 1452,1180.2 1453,1180.7 1454,1180.9 1455,1180.1 1456,1179.8 1457,1179.8 1458,1179.8 1459,1180.2 1460,1180.7 1461,1180.8 1462,1180.2 1463,1180.2 1464,1180.4 1465,1180.4 1466,1180.4 1467,1180.8 1468,1181.0 1469,1181.1 1470,1180.5 1471,1180.4 1472,1180.3 1473,1180.4 1474,1180.7 1475,1180.6 1476,1180.3 1477,1180.5 1478,1180.8 1479,1180.5 1480,1180.8 1481,1180.6 1482,1180.3 1483,1180.0 1484,1180.7 1485,1180.5 1486,1180.5 1487,1180.4 1488,1180.2 1489,1180.1 1490,1180.4 1491,1180.6 1492,1180.9 1493,1180.9 1494,1180.2 1495,1180.2 1496,1179.8 1497,1180.3 1498,1180.5 1499,1180.1 1500,1180.2 1501,1181.0 1502,1180.4 1503,1180.0 1504,1180.0 1505,1179.9 1506,1180.2 1507,1180.2 1508,1180.0 1509,1181.0 1510,1180.8 1511,1180.5 1512,1180.5 1513,1180.5 1514,1180.8 1515,1180.2 1516,1180.4 1517,1180.4 1518,1180.4 1519,1180.0 1520,1180.2 1521,1180.3 1522,1180.6 1523,1180.3 1524,1180.1 1525,1179.9 1526,1179.8 1527,1180.1 1528,1180.3 1529,1180.0 1530,1180.3 1531,1180.5 1532,1180.3 1533,1179.6 1534,1180.6 1535,1179.9 1536,1179.9 1537,1179.6 1538,1179.4 1539,1179.4 1540,1179.2 1541,1179.3 1542,1179.5 1543,1179.2 1544,1178.7 1545,1178.9 1546,1178.9 1547,1179.5 1548,1179.3 1549,1179.4 1550,1179.5 1551,1179.2 1552,1179.3 1553,1179.3 1554,1178.7 1555,1178.5 1556,1178.5 1557,1178.7 1558,1178.1 1559,1178.0 1560,1177.6 1561,1176.2 1562,1175.1 1563,1174.4 1564,1173.4 1565,1171.6 1566,1170.3 1567,1168.7 1568,1166.7 1569,1165.0 1570,1162.9 1571,1161.6 1572,1160.7 1573,1160.1 1574,1159.6 1575,1159.5 1576,1159.5 1577,1159.9 1578,1161.2 1579,1162.4 1580,1164.4 1581,1165.4 1582,1167.2 1583,1168.7 1584,1170.4 1585,1171.8 1586,1173.2 1587,1174.2 1588,1175.5 1589,1175.9 1590,1175.7 1591,1176.9 1592,1177.6 1593,1178.1 1594,1178.2 1595,1178.2 1596,1178.4 1597,1178.7 1598,1178.9 1599,1178.9 1600,1179.1 1601,1178.9 1602,1179.0 1603,1178.9 1604,1178.9 1605,1179.2 1606,1179.1 1607,1179.8 1608,1179.1 1609,1179.2 1610,1179.1 1611,1178.9 1612,1179.2 1613,1179.2 1614,1179.4 1615,1178.8 1616,1178.9 1617,1179.6 1618,1179.6 1619,1179.6 1620,1179.8 1621,1179.3 1622,1179.1 1623,1179.0 1624,1178.9 1625,1178.8 1626,1178.8 1627,1178.1 1628,1178.0 1629,1177.9 1630,1177.0 1631,1177.0 1632,1176.6 1633,1175.3 1634,1174.9 1635,1174.5 1636,1174.0 1637,1173.9 1638,1173.5 1639,1172.9 1640,1173.1 1641,1174.1 1642,1174.0 1643,1174.1 1644,1173.3 1645,1173.9 1646,1174.6 1647,1175.3 1648,1176.2 1649,1176.9 1650,1176.9 1651,1177.2 1652,1177.1 1653,1177.2 1654,1177.7 1655,1178.2 1656,1179.1 1657,1179.3 1658,1179.5 1659,1179.5 1660,1179.8 1661,1179.3 1662,1179.3 1663,1179.8 1664,1180.1 1665,1180.3 1666,1179.6 1667,1180.1 1668,1179.7 1669,1180.0 1670,1180.2 1671,1180.0 1672,1180.1 1673,1180.5 1674,1180.1 1675,1180.1 1676,1179.8 1677,1180.1 1678,1180.0 1679,1180.0 1680,1179.8 1681,1179.8 1682,1179.8 1683,1180.1 1684,1180.5 1685,1180.7 1686,1180.7 1687,1180.7 1688,1180.1 1689,1180.6 1690,1180.4 1691,1180.0 1692,1180.2 1693,1180.5 1694,1180.7 1695,1180.7 1696,1180.0 1697,1180.2 1698,1180.1 1699,1180.3 1700,1180.2 1701,1180.5 1702,1180.6 1703,1180.2 1704,1180.3 1705,1180.2 1706,1179.9 1707,1180.2 1708,1179.9 1709,1180.2 1710,1180.5 1711,1180.4 1712,1181.1 1713,1180.2 1714,1180.5 1715,1180.1 1716,1180.4 1717,1180.1 1718,1180.6 1719,1180.2 1720,1180.4 1721,1180.2 1722,1180.0 1723,1180.0 1724,1180.0 1725,1180.1 1726,1180.1 1727,1180.5 1728,1180.4 1729,1180.7 1730,1180.7 1731,1180.5 1732,1179.9 1733,1180.1 1734,1180.1 1735,1180.0 1736,1180.2 1737,1180.1 1738,1180.6 1739,1180.3 1740,1179.9 1741,1180.0 1742,1180.4 1743,1180.5 1744,1180.5 1745,1180.4 1746,1179.9 1747,1180.1 1748,1180.2 1749,1180.7 1750,1180.9 1751,1181.4 1752,1180.6 1753,1180.0 1754,1180.8 1755,1180.5 1756,1180.3 1757,1180.2 1758,1180.8 1759,1180.6 1760,1181.1 1761,1180.9 1762,1180.3 1763,1180.8 1764,1180.0 1765,1180.2 1766,1180.5 1767,1180.5 1768,1180.8 1769,1180.5 1770,1180.1 1771,1180.7 1772,1179.7 1773,1180.7 1774,1181.1 1775,1180.8 1776,1180.8 1777,1180.9 1778,1180.7 1779,1180.6 1780,1180.8 1781,1180.3 1782,1180.0 1783,1180.1 1784,1180.5 1785,1180.6 1786,1180.9 1787,1180.4 1788,1180.3 1789,1180.1 1790,1180.5 1791,1180.2 1792,1180.5 1793,1180.3 1794,1180.3 1795,1180.7 1796,1180.0 1797,1179.8 1798,1180.4 1799,1180.4 1800,1180.5 1801,1180.3 1802,1180.5 1803,1180.3 1804,1180.1 1805,1180.3 1806,1180.8 1807,1180.6 1808,1180.6 1809,1180.8 1810,1181.0 1811,1181.0 1812,1181.2 1813,1180.5 1814,1180.0 1815,1179.7 1816,1180.3 1817,1179.5 1818,1180.0 1819,1180.3 1820,1180.5 1821,1179.9 1822,1180.5 1823,1180.2 1824,1180.5 1825,1180.3 1826,1180.2 1827,1180.6 1828,1180.0 1829,1180.3 1830,1180.4 1831,1180.3 1832,1180.1 1833,1180.3 1834,1180.3 1835,1180.4 1836,1180.0 1837,1180.4 1838,1180.8 1839,1181.0 1840,1180.5 1841,1181.3 1842,1181.1 1843,1180.6 1844,1180.8 1845,1180.1 1846,1179.8 1847,1180.1 1848,1179.8 1849,1180.5 1850,1180.5 1851,1180.3 1852,1180.6 1853,1180.8 1854,1180.9 1855,1180.6 1856,1180.5 1857,1180.1 1858,1180.3 1859,1180.0 1860,1180.0 1861,1179.9 1862,1179.3 1863,1179.6 1864,1180.2 1865,1180.1 1866,1179.9 1867,1179.8 1868,1179.9 1869,1180.5 1870,1180.5 1871,1180.0 1872,1179.8 1873,1180.1 1874,1180.0 1875,1180.0 1876,1180.2 1877,1180.2 1878,1180.1 1879,1179.4 1880,1179.7 1881,1179.5 1882,1179.5 1883,1179.8 1884,1179.4 1885,1179.6 1886,1179.4 1887,1179.3 1888,1179.1 1889,1179.5 1890,1180.0 1891,1179.3 1892,1179.3 1893,1178.7 1894,1179.0 1895,1178.9 1896,1179.0 1897,1179.3 1898,1178.8 1899,1179.0 1900,1178.9 1901,1178.5 1902,1178.0 1903,1177.6 1904,1177.2 1905,1176.7 1906,1176.0 1907,1175.3 1908,1174.3 1909,1172.5 1910,1170.9 1911,1169.4 1912,1167.7 1913,1166.2 1914,1164.5 1915,1162.2 1916,1160.5 1917,1158.9 1918,1157.3 1919,1156.5 1920,1155.8 1921,1154.8 1922,1154.8 1923,1155.7 1924,1156.2 1925,1157.2 1926,1158.7 1927,1159.2 1928,1161.0 1929,1162.7 1930,1164.7 1931,1166.4 1932,1167.5 1933,1168.9 1934,1170.5 1935,1172.2 1936,1173.2 1937,1174.2 1938,1174.9 1939,1176.0 1940,1176.2 1941,1176.8 1942,1177.2 1943,1177.8 1944,1177.3 1945,1177.6 1946,1177.8 1947,1177.9 1948,1178.1 1949,1178.7 1950,1179.1 1951,1178.8 1952,1178.5 1953,1178.7 1954,1179.0 1955,1179.2 1956,1179.0 1957,1178.9 1958,1179.3 1959,1179.1 1960,1179.4 1961,1179.4 1962,1179.5 1963,1179.2 1964,1178.8 1965,1179.5 1966,1179.6 1967,1179.7 1968,1179.2 1969,1179.5 1970,1179.3 1971,1179.9 1972,1179.7 1973,1179.6 1974,1179.6 1975,1179.9 1976,1179.4 1977,1179.3 1978,1180.1 1979,1179.9 1980,1179.3 1981,1179.3 1982,1179.3 1983,1179.8 1984,1178.8 1985,1178.8 1986,1179.2 1987,1178.9 1988,1178.6 1989,1178.8 1990,1178.7 1991,1179.1 1992,1179.1 1993,1178.2 1994,1178.2 1995,1177.2 1996,1177.4 1997,1176.9 1998,1176.6 1999,1175.9 2000,1175.4 2001,1175.0 2002,1174.6 2003,1173.5 2004,1173.3 2005,1173.0 2006,1172.7 2007,1172.1 2008,1172.2 2009,1171.5 2010,1170.8 2011,1169.8 2012,1169.7 2013,1170.0 2014,1169.4 2015,1169.8 2016,1170.8 2017,1171.1 2018,1171.0 2019,1171.5 2020,1172.1 2021,1172.8 2022,1173.1 2023,1174.2 2024,1174.5 2025,1174.4 2026,1174.9 2027,1175.3 2028,1176.2 2029,1176.1 2030,1176.8 2031,1177.3 2032,1177.2 2033,1177.6 2034,1177.6 2035,1178.3 2036,1178.1 2037,1178.2 2038,1178.6 2039,1179.0 2040,1178.8 2041,1179.3 2042,1179.4 2043,1178.7 2044,1178.7 2045,1178.5 2046,1178.4 2047,1179.0 2048,1179.4 2049,1179.0 2050,1179.1 2051,1178.8 2052,1178.6 2053,1178.5 2054,1178.3 2055,1178.5 2056,1177.7 2057,1177.5 2058,1176.5 2059,1176.5 2060,1176.0 2061,1175.2 2062,1175.0 2063,1173.6 2064,1172.1 2065,1170.8 2066,1169.9 2067,1168.6 2068,1166.9 2069,1165.4 2070,1164.1 2071,1162.6 2072,1162.0 2073,1161.3 2074,1160.6 2075,1160.0 2076,1160.3 2077,1160.8 2078,1161.5 2079,1161.9 2080,1162.7 2081,1163.7 2082,1164.5 2083,1165.7 2084,1167.5 2085,1169.2 2086,1170.4 2087,1171.5 2088,1172.7 2089,1173.1 2090,1174.0 2091,1174.9 2092,1176.1 2093,1176.5 2094,1176.2 2095,1176.9 2096,1178.0 2097,1178.0 2098,1178.1 2099,1178.0 2100,1178.6 2101,1178.7 2102,1178.6 2103,1178.7 2104,1179.1 2105,1179.0 2106,1179.3 2107,1180.0 2108,1179.0 2109,1178.9 2110,1179.2 2111,1180.0 2112,1180.1 2113,1180.3 2114,1180.2 2115,1179.5 2116,1179.0 2117,1179.1 2118,1179.6 2119,1179.8 2120,1180.4 2121,1180.3 2122,1180.6 2123,1180.1 2124,1180.2 2125,1180.2 2126,1180.2 2127,1180.2 2128,1180.0 2129,1179.8 2130,1180.0 2131,1179.4 2132,1179.5 2133,1179.8 2134,1180.1 2135,1180.6 2136,1180.9 2137,1180.3 2138,1180.3 2139,1180.8 2140,1180.7 2141,1180.3 2142,1180.0 2143,1179.9 2144,1180.3 2145,1180.5 2146,1179.9 2147,1179.9 2148,1180.1 2149,1180.2 2150,1180.3 2151,1179.7 2152,1180.0 2153,1180.2 2154,1180.2 2155,1180.4 2156,1180.7 2157,1180.2 2158,1179.8 2159,1180.7 2160,1180.8 2161,1180.9 2162,1180.4 2163,1180.3 2164,1180.3 2165,1180.9 2166,1180.6 2167,1180.1 2168,1180.1 2169,1180.1 2170,1180.6 2171,1180.3 2172,1180.1 2173,1180.6 2174,1180.6 2175,1180.5 2176,1180.4 2177,1180.2 2178,1180.3 2179,1179.9 2180,1180.3 2181,1180.1 2182,1180.6 2183,1179.8"/>
<path stroke="#000000" d="M278,1385.5 279,1385.2 280,1385.5 281,1384.7 282,1384.9 283,1385.5 284,1385.3 285,1385.4 286,1385.1 287,1385.6 288,1385.6 289,1385.7 290,1385.4 291,1385.4 292,1385.0 293,1385.2 294,1384.6 295,1385.1 296,1385.3 297,1385.1 298,1385.5 299,1385.2 300,1385.6 301,1385.1 302,1384.8 303,1384.8 304,1385.8 305,1384.8 306,1384.7 307,1384.6 308,1384.9 309,1384.3 310,1385.0 311,1384.1 312,1384.7 313,1384.3 314,1383.9 315,1384.1 316,1383.4 317,1383.4 318,1382.9 319,1382.5 320,1382.2 321,1382.0 322,1382.1 323,1381.0 324,1379.9 325,1377.0 326,1372.9 327,1366.3 328,1357.0 329,1347.0 330,1337.8 331,1332.0 332,1330.3 333,1334.3 334,1342.0 335,1350.2 336,1359.2 337,1367.0 338,1373.0 339,1377.0 340,1379.7 341,1380.8 342,1381.7 343,1382.1 344,1382.1 345,1382.5 346,1383.1 347,1383.4 348,1383.5 349,1383.6 350,1384.2 351,1384.2 352,1384.4 353,1385.1 354,1384.7 355,1384.7 356,1384.9 357,1384.2 358,1384.4 359,1384.6 360,1384.9 361,1384.7 362,1384.8 363,1385.0 364,1385.1 365,1384.9 366,1385.2 367,1385.3 368,1384.9 369,1384.1 370,1384.7 371,1385.3 372,1385.1 373,1385.7 374,1385.0 375,1385.1 376,1385.3 377,1384.9 378,1385.0 379,1385.1 380,1385.4 381,1385.6 382,1385.4 383,1384.9 384,1385.5 385,1385.5 386,1385.7 387,1385.0 388,1385.1 389,1384.8 390,1384.9 391,1385.3 392,1385.4 393,1385.7 394,1385.2 395,1385.6 396,1385.4 397,1385.5 398,1385.6 399,1385.5 400,1385.4 401,1384.8 402,1385.1 403,1385.1 404,1385.0 405,1384.8 406,1384.7 407,1385.5 408,1385.2 409,1385.0 410,1385.3 411,1385.0 412,1384.8 413,1385.1 414,1385.1 415,1385.1 416,1385.3 417,1385.0 418,1384.9 419,1385.1 420,1385.0 421,1385.1 422,1385.3 423,1385.2 424,1385.5 425,1385.0 426,1385.0 427,1384.9 428,1384.6 429,1385.0 430,1385.0 431,1384.7 432,1385.1 433,1385.2 434,1385.6 435,1385.1 436,1384.8 437,1384.7 438,1384.5 439,1384.5 440,1384.2 441,1384.7 442,1384.7 443,1384.7 444,1384.7 445,1384.3 446,1384.8 447,1384.9 448,1385.2 449,1384.8 450,1384.5 451,1384.2 452,1383.7 453,1384.4 454,1384.3 455,1384.6 456,1384.7 457,1384.6 458,1384.1 459,1383.7 460,1384.0 461,1383.8 462,1383.8 463,1383.9 464,1383.3 465,1383.8 466,1383.5 467,1383.4 468,1383.3 469,1382.8 470,1382.1 471,1382.0 472,1381.5 473,1381.4 474,1380.8 475,1380.2 476,1380.0 477,1379.2 478,1377.9 479,1376.4 480,1374.4 481,1371.9 482,1367.3 483,1360.0 484,1347.7 485,1331.2 486,1310.1 487,1288.3 488,1269.6 489,1256.6 490,1253.2 491,1258.9 492,1272.2 493,1290.3 494,1310.1 495,1328.4 496,1344.2 497,1356.5 498,1365.0 499,1370.7 500,1374.7 501,1376.4 502,1377.7 503,1379.1 504,1379.2 505,1379.8 506,1380.5 507,1381.1 508,1382.0 509,1382.5 510,1382.6 511,1382.7 512,1382.7 513,1383.0 514,1383.5 515,1384.1 516,1384.0 517,1384.3 518,1384.2 519,1383.8 520,1383.8 521,1384.0 522,1384.0 523,1384.5 524,1384.1 525,1384.1 526,1384.0 527,1384.7 528,1384.4 529,1384.6 530,1384.1 531,1384.5 532,1384.3 533,1384.3 534,1384.7 535,1384.5 536,1384.7 537,1384.7 538,1384.5 539,1384.8 540,1384.8 541,1385.0 542,1385.1 543,1384.8 544,1384.8 545,1385.0 546,1385.4 547,1384.8 548,1385.1 549,1385.4 550,1385.2 551,1385.3 552,1385.4 553,1384.9 554,1385.4 555,1385.1 556,1384.9 557,1385.5 558,1385.6 559,1385.6 560,1385.3 561,1385.3 562,1385.2 563,1385.5 564,1385.5 565,1385.4 566,1384.8 567,1384.6 568,1384.2 569,1384.3 570,1384.7 571,1385.0 572,1385.3 573,1385.6 574,1385.8 575,1385.2 576,1385.6 577,1385.4 578,1385.4 579,1385.0 580,1385.4 581,1385.6 582,1385.4 583,1385.9 584,1385.7 585,1385.3 586,1385.5 587,1385.6 588,1385.6 589,1385.5 590,1386.0 591,1385.5 592,1384.9 593,1385.4 594,1385.8 595,1386.5 596,1385.6 597,1385.3 598,1385.3 599,1385.4 600,1385.0 601,1385.1 602,1385.1 603,1384.8 604,1385.2 605,1385.3 606,1385.3 607,1385.3 608,1385.5 609,1385.2 610,1385.6 611,1385.5 612,1385.8 613,1385.1 614,1385.6 615,1385.3 616,1385.2 617,1385.0 618,1384.7 619,1385.1 620,1385.4 621,1385.6 622,1385.2 623,1385.0 624,1385.3 625,1385.4 626,1385.6 627,1385.5 628,1385.2 629,1385.6 630,1385.7 631,1385.6 632,1385.0 633,1385.6 634,1385.7 635,1385.4 636,1385.4 637,1386.0 638,1385.8 639,1385.9 640,1385.9 641,1385.7 642,1385.3 643,1385.5 644,1385.6 645,1385.2 646,1385.4 647,1385.7 648,1385.6 649,1385.7 650,1386.0 651,1386.3 652,1386.0 653,1385.2 654,1385.3 655,1385.2 656,1385.4 657,1385.1 658,1385.4 659,1385.1 660,1385.2 661,1385.3 662,1385.7 663,1385.3 664,1385.2 665,1385.3 666,1385.3 667,1385.2 668,1385.4 669,1385.9 670,1385.6 671,1385.1 672,1385.6 673,1385.5 674,1385.4 675,1385.4 676,1385.2 677,1384.9 678,1385.2 679,1385.4 680,1385.4 681,1385.2 682,1385.5 683,1386.0 684,1385.4 685,1385.7 686,1385.3 687,1385.3 688,1385.3 689,1385.2 690,1385.4 691,1385.8 692,1385.7 693,1385.4 694,1385.5 695,1385.7 696,1385.5 697,1385.6 698,1385.2 699,1385.4 700,1385.6 701,1385.5 702,1385.5 703,1385.7 704,1385.2 705,1385.7 706,1385.8 707,1385.9 708,1385.2 709,1385.6 710,1384.5 711,1384.7 712,1385.5 713,1385.0 714,1385.3 715,1385.3 716,1386.0 717,1386.2 718,1385.9 719,1385.8 720,1385.3 721,1385.2 722,1385.5 723,1385.8 724,1385.4 725,1385.6 726,1385.5 727,1385.6 728,1385.4 729,1385.3 730,1385.9 731,1385.1 732,1385.8 733,1385.7 734,1385.6 735,1385.3 736,1385.2 737,1385.3 738,1385.6 739,1385.3 740,1385.3 741,1385.2 742,1385.5 743,1385.4 744,1385.6 745,1385.5 746,1385.1 747,1385.6 748,1385.1 749,1385.6 750,1385.9 751,1386.4 752,1385.3 753,1385.4 754,1385.6 755,1385.8 756,1385.0 757,1385.2 758,1385.6 759,1385.5 760,1385.3 761,1385.6 762,1385.6 763,1385.6 764,1385.5 765,1385.4 766,1385.6 767,1385.2 768,1385.5 769,1385.7 770,1385.8 771,1385.9 772,1385.6 773,1385.9 774,1385.3 775,1385.5 776,1385.8 777,1385.9 778,1385.7 779,1385.8 780,1386.4 781,1385.6 782,1385.2 783,1385.2 784,1384.9 785,1385.1 786,1385.5 787,1385.4 788,1385.7 789,1385.5 790,1385.3 791,1385.6 792,1385.3 793,1385.3 794,1385.0 795,1385.6 796,1385.0 797,1385.0 798,1384.9 799,1384.9 800,1385.3 801,1385.4 802,1385.3 803,1385.3 804,1385.0 805,1384.7 806,1384.6 807,1383.9 808,1384.0 809,1383.6 810,1383.1 811,1382.9 812,1382.6 813,1382.1 814,1382.0 815,1381.9 816,1382.3 817,1381.7 818,1381.4 819,1381.3 820,1381.6 821,1382.4 822,1382.8 823,1382.8 824,1383.3 825,1383.7 826,1383.7 827,1384.1 828,1384.1 829,1384.7 830,1385.1 831,1384.8 832,1384.7 833,1385.2 834,1385.4 835,1385.8 836,1385.8 837,1385.5 838,1385.4 839,1384.9 840,1385.5 841,1385.4 842,1384.9 843,1385.3 844,1385.5 845,1385.6 846,1385.5 847,1385.4 848,1385.6 849,1385.2 850,1385.1 851,1385.3 852,1385.2 853,1385.3 854,1385.4 855,1385.4 856,1385.6 857,1385.7 858,1385.1 859,1385.6 860,1385.5 861,1385.6 862,1385.4 863,1385.0 864,1385.5 865,1385.6 866,1385.4 867,1386.0 868,1385.4 869,1385.0 870,1385.1 871,1385.7 872,1385.6 873,1385.0 874,1384.8 875,1385.3 876,1385.2 877,1385.4 878,1385.2 879,1385.4 880,1385.3 881,1385.2 882,1385.3 883,1385.1 884,1385.0 885,1385.1 886,1385.6 887,1385.4 888,1385.3 889,1385.5 890,1385.2 891,1385.6 892,1385.1 893,1385.9 894,1385.6 895,1385.2 896,1385.3 897,1385.3 898,1385.1 899,1385.2 900,1385.0 901,1385.3 902,1385.4 903,1385.2 904,1385.7 905,1385.4 906,1385.5 907,1385.2 908,1384.8 909,1385.1 910,1385.3 911,1384.9 912,1385.2 913,1385.2 914,1385.1 915,1385.1 916,1384.6 917,1384.5 918,1384.5 919,1385.0 920,1384.9 921,1384.9 922,1384.4 923,1384.9 924,1384.7 925,1384.9 926,1385.2 927,1384.6 928,1384.3 929,1384.3 930,1384.5 931,1384.9 932,1384.7 933,1384.5 934,1384.3 935,1384.5 936,1384.5 937,1384.7 938,1384.6 939,1384.4 940,1383.9 941,1384.0 942,1383.7 943,1383.7 944,1383.4 945,1383.9 946,1383.5 947,1383.4 948,1383.6 949,1383.1 950,1382.6 951,1382.0 952,1381.9 953,1381.4 954,1381.4 955,1381.1 956,1381.2 957,1380.5 958,1379.9 959,1379.0 960,1378.1 961,1376.7 962,1375.1 963,1372.7 964,1369.3 965,1362.8 966,1352.3 967,1337.0 968,1317.5 969,1295.0 970,1274.4 971,1259.8 972,1253.9 973,1256.0 974,1264.2 975,1275.6 976,1289.0 977,1304.0 978,1319.1 979,1333.8 980,1346.6 981,1357.6 982,1365.4 983,1370.7 984,1373.5 985,1376.0 986,1378.0 987,1379.2 988,1379.0 989,1379.6 990,1380.6 991,1381.3 992,1381.7 993,1382.3 994,1382.5 995,1382.4 996,1382.1 997,1382.4 998,1382.7 999,1382.9 1000,1383.5 1001,1384.2 1002,1384.2 1003,1384.0 1004,1383.9 1005,1384.6 1006,1384.2 1007,1384.5 1008,1384.0 1009,1383.9 1010,1384.5 1011,1384.7 1012,1385.0 1013,1385.1 1014,1385.0 1015,1385.2 1016,1384.6 1017,1384.9 1018,1384.8 1019,1384.8 1020,1384.9 1021,1384.7 1022,1384.7 1023,1384.7 1024,1384.8 1025,1385.1 1026,1384.9 1027,1385.0 1028,1384.9 1029,1384.5 1030,1384.8 1031,1384.8 1032,1384.8 1033,1384.6 1034,1384.9 1035,1384.9 1036,1384.8 1037,1384.9 1038,1385.6 1039,1385.1 1040,1385.2 1041,1385.4 1042,1385.2 1043,1385.7 1044,1385.1 1045,1384.5 1046,1385.0 1047,1385.3 1048,1385.4 1049,1385.6 1050,1385.1 1051,1385.2 1052,1385.5 1053,1385.1 1054,1385.1 1055,1385.4 1056,1385.4 1057,1385.6 1058,1385.6 1059,1385.6 1060,1385.3 1061,1385.4 1062,1384.9 1063,1385.4 1064,1385.3 1065,1385.3 1066,1386.0 1067,1386.2 1068,1386.1 1069,1386.2 1070,1385.5 1071,1385.6 1072,1385.8 1073,1385.6 1074,1385.5 1075,1385.5 1076,1385.6 1077,1385.6 1078,1385.4 1079,1385.9 1080,1385.7 1081,1385.5 1082,1385.0 1083,1385.4 1084,1385.9 1085,1385.6 1086,1385.7 1087,1385.4 1088,1385.3 1089,1385.5 1090,1385.4 1091,1385.5 1092,1385.2 1093,1385.3 1094,1384.6 1095,1385.4 1096,1384.8 1097,1384.9 1098,1385.4 1099,1385.3 1100,1385.3 1101,1385.6 1102,1385.8 1103,1386.1 1104,1386.2 1105,1385.6 1106,1385.3 1107,1385.3 1108,1385.1 1109,1385.6 1110,1385.3 1111,1385.6 1112,1385.8 1113,1385.9 1114,1385.8 1115,1385.7 1116,1385.7 1117,1386.0 1118,1385.4 1119,1385.3 1120,1385.4 1121,1386.1 1122,1385.7 1123,1385.7 1124,1385.3 1125,1384.7 1126,1384.9 1127,1385.6 1128,1385.2 1129,1385.4 1130,1385.6 1131,1385.3 1132,1385.4 1133,1385.5 1134,1385.9 1135,1386.0 1136,1385.9 1137,1385.4 1138,1385.1 1139,1385.4 1140,1385.5 1141,1385.8 1142,1385.7 1143,1385.8 1144,1385.9 1145,1385.5 1146,1385.8 1147,1385.4 1148,1385.3 1149,1385.4 1150,1385.6 1151,1385.5 1152,1385.7 1153,1385.5 1154,1386.0 1155,1385.2 1156,1385.4 1157,1385.7 1158,1385.6 1159,1385.6 1160,1385.7 1161,1385.5 1162,1385.9 1163,1385.7 1164,1385.7 1165,1385.4 1166,1385.8 1167,1385.9 1168,1385.7 1169,1385.5 1170,1385.3 1171,1385.2 1172,1385.1 1173,1385.0 1174,1385.2 1175,1385.9 1176,1385.5 1177,1385.0 1178,1385.2 1179,1385.2 1180,1385.6 1181,1385.5 1182,1385.4 1183,1385.0 1184,1384.9 1185,1385.0 1186,1385.3 1187,1385.5 1188,1385.3 1189,1385.4 1190,1385.4 1191,1385.8 1192,1385.6 1193,1385.2 1194,1385.2 1195,1384.9 1196,1385.3 1197,1384.7 1198,1385.3 1199,1385.7 1200,1386.2 1201,1386.0 1202,1385.8 1203,1385.5 1204,1385.0 1205,1385.6 1206,1385.8 1207,1385.2 1208,1385.0 1209,1385.4 1210,1385.7 1211,1386.0 1212,1385.9 1213,1385.9 1214,1385.6 1215,1385.4 1216,1385.7 1217,1385.5 1218,1385.7 1219,1385.9 1220,1385.6 1221,1385.2 1222,1385.1 1223,1385.2 1224,1386.0 1225,1385.7 1226,1385.8 1227,1386.3 1228,1386.0 1229,1385.8 1230,1385.9 1231,1385.8 1232,1385.6 1233,1385.6 1234,1385.5 1235,1385.3 1236,1385.1 1237,1385.3 1238,1385.7 1239,1385.4 1240,1385.7 1241,1385.6 1242,1386.0 1243,1386.1 1244,1385.7 1245,1384.8 1246,1385.6 1247,1386.0 1248,1385.7 1249,1385.7 1250,1385.5 1251,1385.5 1252,1385.5 1253,1385.3 1254,1385.0 1255,1385.8 1256,1385.6 1257,1385.4 1258,1385.2 1259,1385.3 1260,1385.4 1261,1385.5 1262,1385.4 1263,1385.8 1264,1385.1 1265,1385.8 1266,1386.0 1267,1386.0 1268,1385.6 1269,1385.5 1270,1385.5 1271,1386.1 1272,1385.9 1273,1385.5 1274,1385.4 1275,1385.5 1276,1385.2 1277,1385.7 1278,1385.1 1279,1385.2 1280,1385.0 1281,1385.7 1282,1385.5 1283,1385.7 1284,1385.7 1285,1385.5 1286,1385.8 1287,1386.0 1288,1386.0 1289,1385.7 1290,1385.7 1291,1385.7 1292,1386.1 1293,1385.8 1294,1385.8 1295,1385.2 1296,1385.3 1297,1385.8 1298,1385.6 1299,1385.7 1300,1386.2 1301,1385.8 1302,1385.8 1303,1385.6 1304,1385.3 1305,1385.3 1306,1385.4 1307,1385.6 1308,1385.8 1309,1385.7 1310,1385.9 1311,1385.4 1312,1385.5 1313,1385.4 1314,1385.6 1315,1385.6 1316,1385.6 1317,1385.2 1318,1385.1 1319,1385.5 1320,1385.5 1321,1385.4 1322,1385.5 1323,1385.9 1324,1385.7 1325,1385.6 1326,1385.3 1327,1385.3 1328,1385.1 1329,1385.5 1330,1385.4 1331,1385.5 1332,1385.5 1333,1385.4 1334,1385.7 1335,1385.9 1336,1386.3 1337,1386.1 1338,1385.6 1339,1385.7 1340,1386.0 1341,1385.4 1342,1385.8 1343,1386.3 1344,1385.6 1345,1385.3 1346,1385.7 1347,1386.0 1348,1385.3 1349,1385.5 1350,1385.4 1351,1385.5 1352,1385.3 1353,1385.4 1354,1385.1 1355,1385.6 1356,1385.6 1357,1385.1 1358,1385.2 1359,1385.3 1360,1384.9 1361,1385.3 1362,1385.1 1363,1385.5 1364,1386.0 1365,1385.9 1366,1385.7 1367,1385.6 1368,1385.1 1369,1385.7 1370,1385.7 1371,1386.0 1372,1385.8 1373,1385.9 1374,1385.8 1375,1385.8 1376,1385.4 1377,1385.6 1378,1385.7 1379,1385.4 1380,1385.9 1381,1385.8 1382,1385.8 1383,1385.6 1384,1385.7 1385,1386.0 1386,1385.7 1387,1385.9 1388,1385.6 1389,1386.2 1390,1385.8 1391,1385.3 1392,1385.5 1393,1385.7 1394,1385.6 1395,1385.8 1396,1385.3 1397,1385.4 1398,1385.4 1399,1385.5 1400,1385.4 1401,1385.3 1402,1385.6 1403,1385.3 1404,1385.2 1405,1385.1 1406,1385.5 1407,1385.6 1408,1385.9 1409,1385.6 1410,1386.2 1411,1385.9 1412,1385.8 1413,1385.2 1414,1385.6 1415,1385.9 1416,1385.7 1417,1385.5 1418,1385.3 1419,1385.8 1420,1385.3 1421,1385.4 1422,1385.9 1423,1385.7 1424,1385.4 1425,1385.4 1426,1385.8 1427,1386.0 1428,1385.2 1429,1385.7 1430,1385.8 1431,1385.8 1432,1385.8 1433,1385.2 1434,1385.3 1435,1385.8 1436,1385.9 1437,1385.9 1438,1385.8 1439,1385.3 1440,1385.6 1441,1385.1 1442,1385.1 1443,1386.1 1444,1386.4 1445,1386.3 1446,1386.1 1447,1385.9 1448,1385.3 1449,1385.4 1450,1385.4 1451,1385.6 1452,1385.5 1453,1385.6 1454,1385.4 1455,1385.9 1456,1385.4 1457,1385.3 1458,1385.2 1459,1385.6 1460,1385.5 1461,1385.6 1462,1385.2 1463,1385.7 1464,1385.9 1465,1385.7 1466,1385.4 1467,1385.5 1468,1385.4 1469,1385.2 1470,1385.6 1471,1385.6 1472,1385.6 1473,1385.3 1474,1385.1 1475,1385.7 1476,1385.9 1477,1385.6 1478,1385.5 1479,1385.5 1480,1385.6 1481,1386.0 1482,1386.1 1483,1386.2 1484,1385.6 1485,1385.5 1486,1385.3 1487,1385.7 1488,1385.5 1489,1385.8 1490,1385.6 1491,1385.5 1492,1385.9 1493,1385.6 1494,1385.9 1495,1386.0 1496,1386.0 1497,1385.5 1498,1385.3 1499,1385.3 1500,1385.4 1501,1385.8 1502,1385.4 1503,1385.8 1504,1385.6 1505,1385.4 1506,1385.5 1507,1385.6 1508,1385.4 1509,1385.5 1510,1385.7 1511,1384.9 1512,1385.0 1513,1385.1 1514,1385.4 1515,1385.5 1516,1384.9 1517,1385.1 1518,1385.0 1519,1385.1 1520,1385.4 1521,1384.9 1522,1385.2 1523,1385.6 1524,1385.5 1525,1385.1 1526,1384.9 1527,1385.2 1528,1384.9 1529,1385.0 1530,1385.3 1531,1385.5 1532,1385.7 1533,1385.0 1534,1385.0 1535,1385.2 1536,1385.2 1537,1385.0 1538,1385.1 1539,1385.2 1540,1384.9 1541,1384.8 1542,1384.9 1543,1385.3 1544,1385.0 1545,1384.7 1546,1384.5 1547,1384.5 1548,1384.7 1549,1384.6 1550,1384.9 1551,1384.5 1552,1384.8 1553,1384.1 1554,1384.1 1555,1384.3 1556,1384.0 1557,1384.0 1558,1383.3 1559,1383.3 1560,1382.7 1561,1382.8 1562,1381.9 1563,1381.3 1564,1380.0 1565,1378.8 1566,1377.0 1567,1374.2 1568,1371.6 1569,1368.5 1570,1365.1 1571,1362.1 1572,1359.0 1573,1356.8 1574,1355.5 1575,1354.2 1576,1354.5 1577,1356.0 1578,1357.6 1579,1360.0 1580,1361.9 1581,1364.6 1582,1367.2 1583,1369.4 1584,1371.8 1585,1374.2 1586,1375.9 1587,1378.3 1588,1379.2 1589,1380.9 1590,1381.3 1591,1381.9 1592,1382.8 1593,1383.2 1594,1383.5 1595,1383.9 1596,1383.6 1597,1383.7 1598,1383.6 1599,1383.8 1600,1383.7 1601,1384.1 1602,1384.4 1603,1384.1 1604,1384.3 1605,1384.4 1606,1384.3 1607,1384.1 1608,1384.4 1609,1384.6 1610,1384.6 1611,1384.5 1612,1384.2 1613,1384.8 1614,1384.9 1615,1384.8 1616,1385.1 1617,1385.0 1618,1384.9 1619,1384.5 1620,1384.0 1621,1384.2 1622,1384.8 1623,1384.8 1624,1384.2 1625,1384.1 1626,1384.2 1627,1384.2 1628,1383.7 1629,1383.0 1630,1382.8 1631,1382.2 1632,1381.5 1633,1380.1 1634,1378.9 1635,1377.4 1636,1376.1 1637,1375.2 1638,1373.8 1639,1373.0 1640,1372.8 1641,1372.6 1642,1373.0 1643,1373.3 1644,1374.5 1645,1375.4 1646,1376.5 1647,1377.3 1648,1378.1 1649,1378.8 1650,1379.4 1651,1380.5 1652,1381.2 1653,1381.8 1654,1382.4 1655,1382.8 1656,1383.3 1657,1383.8 1658,1384.4 1659,1384.7 1660,1385.1 1661,1385.1 1662,1384.9 1663,1384.7 1664,1384.5 1665,1385.0 1666,1385.0 1667,1385.5 1668,1385.4 1669,1385.0 1670,1385.6 1671,1385.3 1672,1385.7 1673,1385.6 1674,1385.4 1675,1385.1 1676,1385.1 1677,1385.1 1678,1384.9 1679,1385.1 1680,1385.4 1681,1385.7 1682,1385.3 1683,1384.9 1684,1384.9 1685,1385.4 1686,1385.3 1687,1385.5 1688,1385.1 1689,1385.1 1690,1385.6 1691,1385.8 1692,1385.6 1693,1385.2 1694,1385.6 1695,1385.4 1696,1385.3 1697,1385.1 1698,1385.5 1699,1385.2 1700,1385.6 1701,1386.3 1702,1386.1 1703,1385.9 1704,1385.1 1705,1385.2 1706,1385.5 1707,1385.3 1708,1385.6 1709,1386.0 1710,1385.8 1711,1385.6 1712,1385.3 1713,1384.9 1714,1385.3 1715,1385.8 1716,1385.5 1717,1385.4 1718,1385.0 1719,1385.2 1720,1386.0 1721,1386.2 1722,1385.7 1723,1385.7 1724,1386.2 1725,1386.0 1726,1385.3 1727,1385.4 1728,1385.5 1729,1385.0 1730,1385.3 1731,1385.3 1732,1385.6 1733,1385.2 1734,1385.3 1735,1385.8 1736,1385.6 1737,1385.8 1738,1385.2 1739,1385.4 1740,1385.5 1741,1385.6 1742,1385.3 1743,1385.3 1744,1385.0 1745,1385.1 1746,1385.0 1747,1385.2 1748,1385.5 1749,1385.3 1750,1385.2 1751,1384.7 1752,1384.9 1753,1385.2 1754,1385.0 1755,1385.1 1756,1385.2 1757,1385.2 1758,1385.7 1759,1385.7 1760,1385.4 1761,1385.5 1762,1385.1 1763,1385.8 1764,1386.3 1765,1386.0 1766,1385.0 1767,1385.0 1768,1385.3 1769,1385.5 1770,1385.3 1771,1385.5 1772,1385.8 1773,1385.5 1774,1385.3 1775,1385.2 1776,1385.6 1777,1385.6 1778,1385.5 1779,1385.3 1780,1385.6 1781,1385.6 1782,1385.4 1783,1385.8 1784,1385.6 1785,1385.5 1786,1385.3 1787,1385.7 1788,1386.0 1789,1385.7 1790,1385.4 1791,1385.6 1792,1385.5 1793,1385.5 1794,1385.6 1795,1385.5 1796,1385.5 1797,1385.4 1798,1385.6 1799,1385.1 1800,1385.5 1801,1385.3 1802,1385.1 1803,1385.4 1804,1384.9 1805,1385.5 1806,1385.3 1807,1385.3 1808,1385.3 1809,1385.0 1810,1385.5 1811,1385.5 1812,1385.8 1813,1385.5 1814,1385.6 1815,1385.7 1816,1385.7 1817,1386.0 1818,1385.7 1819,1385.5 1820,1385.9 1821,1385.5 1822,1385.2 1823,1385.3 1824,1385.9 1825,1386.1 1826,1385.9 1827,1385.5 1828,1385.6 1829,1385.6 1830,1385.8 1831,1385.4 1832,1385.1 1833,1385.4 1834,1385.1 1835,1385.5 1836,1385.1 1837,1385.3 1838,1385.8 1839,1385.6 1840,1385.4 1841,1385.1 1842,1385.0 1843,1385.2 1844,1385.7 1845,1385.4 1846,1385.3 1847,1385.3 1848,1385.2 1849,1385.1 1850,1385.2 1851,1385.2 1852,1385.1 1853,1385.0 1854,1385.0 1855,1385.1 1856,1384.6 1857,1385.4 1858,1385.6 1859,1384.8 1860,1384.4 1861,1384.7 1862,1385.3 1863,1384.8 1864,1385.0 1865,1385.3 1866,1385.0 1867,1385.2 1868,1385.7 1869,1385.6 1870,1385.1 1871,1385.6 1872,1385.3 1873,1385.1 1874,1384.6 1875,1384.7 1876,1384.7 1877,1385.2 1878,1384.8 1879,1384.8 1880,1385.6 1881,1385.2 1882,1385.0 1883,1385.2 1884,1384.9 1885,1384.8 1886,1384.5 1887,1384.0 1888,1384.5 1889,1383.9 1890,1384.3 1891,1384.0 1892,1384.3 1893,1384.9 1894,1384.2 1895,1383.9 1896,1384.2 1897,1384.1 1898,1383.6 1899,1383.9 1900,1383.3 1901,1382.8 1902,1382.8 1903,1382.5 1904,1382.5 1905,1382.6 1906,1381.8 1907,1381.2 1908,1380.1 1909,1378.8 1910,1376.7 1911,1374.8 1912,1371.9 1913,1369.0 1914,1365.8 1915,1362.6 1916,1358.8 1917,1356.2 1918,1353.5 1919,1352.0 1920,1350.9 1921,1350.2 1922,1351.0 1923,1351.7 1924,1353.0 1925,1354.8 1926,1356.6 1927,1359.2 1928,1361.4 1929,1364.0 1930,1366.5 1931,1369.1 1932,1371.4 1933,1373.1 1934,1374.9 1935,1376.7 1936,1378.6 1937,1379.6 1938,1380.9 1939,1381.3 1940,1381.8 1941,1382.1 1942,1383.1 1943,1383.1 1944,1382.8 1945,1383.3 1946,1383.3 1947,1383.6 1948,1383.7 1949,1383.6 1950,1384.1 1951,1383.7 1952,1384.0 1953,1383.6 1954,1383.9 1955,1384.0 1956,1384.5 1957,1384.5 1958,1384.3 1959,1383.8 1960,1384.5 1961,1384.9 1962,1385.1 1963,1384.5 1964,1384.4 1965,1384.6 1966,1384.4 1967,1385.1 1968,1384.7 1969,1384.8 1970,1384.9 1971,1384.6 1972,1384.2 1973,1384.8 1974,1384.8 1975,1384.5 1976,1384.8 1977,1384.7 1978,1384.1 1979,1384.0 1980,1384.0 1981,1384.3 1982,1384.3 1983,1384.3 1984,1384.3 1985,1383.8 1986,1384.2 1987,1384.2 1988,1384.0 1989,1383.8 1990,1383.7 1991,1383.4 1992,1383.4 1993,1383.2 1994,1383.2 1995,1382.5 1996,1382.2 1997,1382.0 1998,1381.0 1999,1379.9 2000,1379.2 2001,1379.2 2002,1378.0 2003,1376.6 2004,1374.5 2005,1373.5 2006,1373.0 2007,1371.4 2008,1370.7 2009,1369.4 2010,1368.8 2011,1368.2 2012,1368.1 2013,1368.2 2014,1368.9 2015,1368.7 2016,1369.3 2017,1370.2 2018,1371.3 2019,1372.7 2020,1373.5 2021,1374.4 2022,1375.1 2023,1376.0 2024,1377.3 2025,1378.2 2026,1379.7 2027,1380.6 2028,1380.5 2029,1381.1 2030,1382.1 2031,1382.8 2032,1382.5 2033,1382.4 2034,1382.9 2035,1383.3 2036,1382.9 2037,1383.6 2038,1383.5 2039,1383.7 2040,1383.7 2041,1383.4 2042,1383.6 2043,1383.4 2044,1383.7 2045,1383.2 2046,1383.3 2047,1383.4 2048,1383.3 2049,1383.4 2050,1383.3 2051,1383.0 2052,1382.9 2053,1382.9 2054,1382.9 2055,1382.9 2056,1382.6 2057,1383.0 2058,1381.9 2059,1381.7 2060,1380.6 2061,1379.9 2062,1379.1 2063,1377.8 2064,1376.1 2065,1373.5 2066,1371.3 2067,1368.8 2068,1365.3 2069,1362.5 2070,1358.9 2071,1356.0 2072,1353.4 2073,1351.7 2074,1351.1 2075,1351.0 2076,1351.7 2077,1352.1 2078,1353.9 2079,1356.3 2080,1358.0 2081,1360.2 2082,1362.5 2083,1364.0 2084,1366.4 2085,1368.6 2086,1370.9 2087,1373.1 2088,1375.4 2089,1376.3 2090,1377.8 2091,1378.9 2092,1380.3 2093,1380.9 2094,1382.0 2095,1382.3 2096,1382.5 2097,1382.6 2098,1383.2 2099,1383.1 2100,1383.6 2101,1383.6 2102,1383.6 2103,1384.0 2104,1384.2 2105,1384.0 2106,1384.1 2107,1383.9 2108,1384.0 2109,1384.2 2110,1384.3 2111,1384.7 2112,1384.7 2113,1384.6 2114,1384.3 2115,1384.5 2116,1384.7 2117,1384.1 2118,1384.8 2119,1384.9 2120,1385.2 2121,1384.9 2122,1384.8 2123,1385.0 2124,1385.0 2125,1385.0 2126,1384.9 2127,1385.4 2128,1385.6 2129,1385.7 2130,1385.2 2131,1385.8 2132,1386.0 2133,1385.5 2134,1385.1 2135,1384.8 2136,1384.8 2137,1384.6 2138,1385.4 2139,1385.4 2140,1385.5 2141,1385.6 2142,1385.5 2143,1385.5 2144,1385.5 2145,1385.1 2146,1385.7 2147,1385.2 2148,1384.7 2149,1385.4 2150,1385.9 2151,1385.9 2152,1385.7 2153,1385.5 2154,1385.5 2155,1384.8 2156,1385.5 2157,1385.5 2158,1385.9 2159,1385.5 2160,1385.5 2161,1385.0 2162,1384.9 2163,1384.8 2164,1385.1 2165,1385.2 2166,1385.4 2167,1385.4 2168,1385.4 2169,1385.6 2170,1385.2 2171,1385.1 2172,1385.3 2173,1385.4 2174,1384.7 2175,1384.7 2176,1385.4 2177,1385.1 2178,1384.6 2179,1384.7 2180,1385.4 2181,1385.2 2182,1385.0 2183,1384.8"/>
</g>
<g fill="#000">
<path d="M0,0 C-1.5,2.5 -11,13 -14,17.5 C-16.5,21.5 -15.5,28.5 -9.5,28.5 C-5.5,28.5 -3,25.5 -1,21.5 L-0.5,27 L-2.6,32.5 L2.6,32.5 L0.5,27 L1,21.5 C3,25.5 5.5,28.5 9.5,28.5 C15.5,28.5 16.5,21.5 14,17.5 C11,13 1.5,2.5 0,0 Z" transform="translate(331.0,244.0) scale(1.000)"/>
<path d="M0,0 C-1.5,2.5 -11,13 -14,17.5 C-16.5,21.5 -15.5,28.5 -9.5,28.5 C-5.5,28.5 -3,25.5 -1,21.5 L-0.5,27 L-2.6,32.5 L2.6,32.5 L0.5,27 L1,21.5 C3,25.5 5.5,28.5 9.5,28.5 C15.5,28.5 16.5,21.5 14,17.5 C11,13 1.5,2.5 0,0 Z" transform="translate(494.6,150.5) scale(1.000)"/>
<path d="M0,0 C-1.5,2.5 -11,13 -14,17.5 C-16.5,21.5 -15.5,28.5 -9.5,28.5 C-5.5,28.5 -3,25.5 -1,21.5 L-0.5,27 L-2.6,32.5 L2.6,32.5 L0.5,27 L1,21.5 C3,25.5 5.5,28.5 9.5,28.5 C15.5,28.5 16.5,21.5 14,17.5 C11,13 1.5,2.5 0,0 Z" transform="translate(979.5,209.5) scale(1.000)"/>
<path d="M0,0 C-1.5,2.5 -11,13 -14,17.5 C-16.5,21.5 -15.5,28.5 -9.5,28.5 C-5.5,28.5 -3,25.5 -1,21.5 L-0.5,27 L-2.6,32.5 L2.6,32.5 L0.5,27 L1,21.5 C3,25.5 5.5,28.5 9.5,28.5 C15.5,28.5 16.5,21.5 14,17.5 C11,13 1.5,2.5 0,0 Z" transform="translate(1576.4,297.0) scale(1.000)"/>
<path d="M0,0 C-1.5,2.5 -11,13 -14,17.5 C-16.5,21.5 -15.5,28.5 -9.5,28.5 C-5.5,28.5 -3,25.5 -1,21.5 L-0.5,27 L-2.6,32.5 L2.6,32.5 L0.5,27 L1,21.5 C3,25.5 5.5,28.5 9.5,28.5 C15.5,28.5 16.5,21.5 14,17.5 C11,13 1.5,2.5 0,0 Z" transform="translate(1642.0,264.5) scale(1.000)"/>
<path d="M0,0 C-1.5,2.5 -11,13 -14,17.5 C-16.5,21.5 -15.5,28.5 -9.5,28.5 C-5.5,28.5 -3,25.5 -1,21.5 L-0.5,27 L-2.6,32.5 L2.6,32.5 L0.5,27 L1,21.5 C3,25.5 5.5,28.5 9.5,28.5 C15.5,28.5 16.5,21.5 14,17.5 C11,13 1.5,2.5 0,0 Z" transform="translate(1932.0,256.0) scale(1.000)"/>
<path d="M0,0 C-1.5,2.5 -11,13 -14,17.5 C-16.5,21.5 -15.5,28.5 -9.5,28.5 C-5.5,28.5 -3,25.5 -1,21.5 L-0.5,27 L-2.6,32.5 L2.6,32.5 L0.5,27 L1,21.5 C3,25.5 5.5,28.5 9.5,28.5 C15.5,28.5 16.5,21.5 14,17.5 C11,13 1.5,2.5 0,0 Z" transform="translate(2010.5,307.0) scale(1.000)"/>
<path d="M0,0 C-1.5,2.5 -11,13 -14,17.5 C-16.5,21.5 -15.5,28.5 -9.5,28.5 C-5.5,28.5 -3,25.5 -1,21.5 L-0.5,27 L-2.6,32.5 L2.6,32.5 L0.5,27 L1,21.5 C3,25.5 5.5,28.5 9.5,28.5 C15.5,28.5 16.5,21.5 14,17.5 C11,13 1.5,2.5 0,0 Z" transform="translate(2076.2,300.5) scale(1.000)"/>
<path d="M0,0 C-1.5,2.5 -11,13 -14,17.5 C-16.5,21.5 -15.5,28.5 -9.5,28.5 C-5.5,28.5 -3,25.5 -1,21.5 L-0.5,27 L-2.6,32.5 L2.6,32.5 L0.5,27 L1,21.5 C3,25.5 5.5,28.5 9.5,28.5 C15.5,28.5 16.5,21.5 14,17.5 C11,13 1.5,2.5 0,0 Z" transform="translate(333.4,458.5) scale(1.000)"/>
<path d="M0,0 C-1.5,2.5 -11,13 -14,17.5 C-16.5,21.5 -15.5,28.5 -9.5,28.5 C-5.5,28.5 -3,25.5 -1,21.5 L-0.5,27 L-2.6,32.5 L2.6,32.5 L0.5,27 L1,21.5 C3,25.5 5.5,28.5 9.5,28.5 C15.5,28.5 16.5,21.5 14,17.5 C11,13 1.5,2.5 0,0 Z" transform="translate(492.4,353.5) scale(1.000)"/>
<path d="M0,0 C-1.5,2.5 -11,13 -14,17.5 C-16.5,21.5 -15.5,28.5 -9.5,28.5 C-5.5,28.5 -3,25.5 -1,21.5 L-0.5,27 L-2.6,32.5 L2.6,32.5 L0.5,27 L1,21.5 C3,25.5 5.5,28.5 9.5,28.5 C15.5,28.5 16.5,21.5 14,17.5 C11,13 1.5,2.5 0,0 Z" transform="translate(974.5,412.8) scale(1.000)"/>
<path d="M0,0 C-1.5,2.5 -11,13 -14,17.5 C-16.5,21.5 -15.5,28.5 -9.5,28.5 C-5.5,28.5 -3,25.5 -1,21.5 L-0.5,27 L-2.6,32.5 L2.6,32.5 L0.5,27 L1,21.5 C3,25.5 5.5,28.5 9.5,28.5 C15.5,28.5 16.5,21.5 14,17.5 C11,13 1.5,2.5 0,0 Z" transform="translate(1577.5,500.0) scale(1.000)"/>
<path d="M0,0 C-1.5,2.5 -11,13 -14,17.5 C-16.5,21.5 -15.5,28.5 -9.5,28.5 C-5.5,28.5 -3,25.5 -1,21.5 L-0.5,27 L-2.6,32.5 L2.6,32.5 L0.5,27 L1,21.5 C3,25.5 5.5,28.5 9.5,28.5 C15.5,28.5 16.5,21.5 14,17.5 C11,13 1.5,2.5 0,0 Z" transform="translate(1643.2,462.0) scale(1.000)"/>
<path d="M0,0 C-1.5,2.5 -11,13 -14,17.5 C-16.5,21.5 -15.5,28.5 -9.5,28.5 C-5.5,28.5 -3,25.5 -1,21.5 L-0.5,27 L-2.6,32.5 L2.6,32.5 L0.5,27 L1,21.5 C3,25.5 5.5,28.5 9.5,28.5 C15.5,28.5 16.5,21.5 14,17.5 C11,13 1.5,2.5 0,0 Z" transform="translate(1932.0,456.2) scale(1.000)"/>
<path d="M0,0 C-1.5,2.5 -11,13 -14,17.5 C-16.5,21.5 -15.5,28.5 -9.5,28.5 C-5.5,28.5 -3,25.5 -1,21.5 L-0.5,27 L-2.6,32.5 L2.6,32.5 L0.5,27 L1,21.5 C3,25.5 5.5,28.5 9.5,28.5 C15.5,28.5 16.5,21.5 14,17.5 C11,13 1.5,2.5 0,0 Z" transform="translate(2012.0,506.7) scale(1.000)"/>
<path d="M0,0 C-1.5,2.5 -11,13 -14,17.5 C-16.5,21.5 -15.5,28.5 -9.5,28.5 C-5.5,28.5 -3,25.5 -1,21.5 L-0.5,27 L-2.6,32.5 L2.6,32.5 L0.5,27 L1,21.5 C3,25.5 5.5,28.5 9.5,28.5 C15.5,28.5 16.5,21.5 14,17.5 C11,13 1.5,2.5 0,0 Z" transform="translate(2079.0,510.3) scale(1.000)"/>
<path d="M0,0 C-1.5,2.5 -11,13 -14,17.5 C-16.5,21.5 -15.5,28.5 -9.5,28.5 C-5.5,28.5 -3,25.5 -1,21.5 L-0.5,27 L-2.6,32.5 L2.6,32.5 L0.5,27 L1,21.5 C3,25.5 5.5,28.5 9.5,28.5 C15.5,28.5 16.5,21.5 14,17.5 C11,13 1.5,2.5 0,0 Z" transform="translate(331.8,656.6) scale(1.000)"/>
<path d="M0,0 C-1.5,2.5 -11,13 -14,17.5 C-16.5,21.5 -15.5,28.5 -9.5,28.5 C-5.5,28.5 -3,25.5 -1,21.5 L-0.5,27 L-2.6,32.5 L2.6,32.5 L0.5,27 L1,21.5 C3,25.5 5.5,28.5 9.5,28.5 C15.5,28.5 16.5,21.5 14,17.5 C11,13 1.5,2.5 0,0 Z" transform="translate(488.1,563.3) scale(1.000)"/>
<path d="M0,0 C-1.5,2.5 -11,13 -14,17.5 C-16.5,21.5 -15.5,28.5 -9.5,28.5 C-5.5,28.5 -3,25.5 -1,21.5 L-0.5,27 L-2.6,32.5 L2.6,32.5 L0.5,27 L1,21.5 C3,25.5 5.5,28.5 9.5,28.5 C15.5,28.5 16.5,21.5 14,17.5 C11,13 1.5,2.5 0,0 Z" transform="translate(974.5,618.3) scale(1.000)"/>
<path d="M0,0 C-1.5,2.5 -11,13 -14,17.5 C-16.5,21.5 -15.5,28.5 -9.5,28.5 C-5.5,28.5 -3,25.5 -1,21.5 L-0.5,27 L-2.6,32.5 L2.6,32.5 L0.5,27 L1,21.5 C3,25.5 5.5,28.5 9.5,28.5 C15.5,28.5 16.5,21.5 14,17.5 C11,13 1.5,2.5 0,0 Z" transform="translate(1576.4,712.2) scale(1.000)"/>
<path d="M0,0 C-1.5,2.5 -11,13 -14,17.5 C-16.5,21.5 -15.5,28.5 -9.5,28.5 C-5.5,28.5 -3,25.5 -1,21.5 L-0.5,27 L-2.6,32.5 L2.6,32.5 L0.5,27 L1,21.5 C3,25.5 5.5,28.5 9.5,28.5 C15.5,28.5 16.5,21.5 14,17.5 C11,13 1.5,2.5 0,0 Z" transform="translate(1642.0,676.5) scale(1.000)"/>
<path d="M0,0 C-1.5,2.5 -11,13 -14,17.5 C-16.5,21.5 -15.5,28.5 -9.5,28.5 C-5.5,28.5 -3,25.5 -1,21.5 L-0.5,27 L-2.6,32.5 L2.6,32.5 L0.5,27 L1,21.5 C3,25.5 5.5,28.5 9.5,28.5 C15.5,28.5 16.5,21.5 14,17.5 C11,13 1.5,2.5 0,0 Z" transform="translate(1926.6,664.3) scale(1.000)"/>
<path d="M0,0 C-1.5,2.5 -11,13 -14,17.5 C-16.5,21.5 -15.5,28.5 -9.5,28.5 C-5.5,28.5 -3,25.5 -1,21.5 L-0.5,27 L-2.6,32.5 L2.6,32.5 L0.5,27 L1,21.5 C3,25.5 5.5,28.5 9.5,28.5 C15.5,28.5 16.5,21.5 14,17.5 C11,13 1.5,2.5 0,0 Z" transform="translate(2015.4,717.5) scale(1.000)"/>
<path d="M0,0 C-1.5,2.5 -11,13 -14,17.5 C-16.5,21.5 -15.5,28.5 -9.5,28.5 C-5.5,28.5 -3,25.5 -1,21.5 L-0.5,27 L-2.6,32.5 L2.6,32.5 L0.5,27 L1,21.5 C3,25.5 5.5,28.5 9.5,28.5 C15.5,28.5 16.5,21.5 14,17.5 C11,13 1.5,2.5 0,0 Z" transform="translate(2073.3,709.0) scale(1.000)"/>
<path d="M0,0 C-1.5,2.5 -11,13 -14,17.5 C-16.5,21.5 -15.5,28.5 -9.5,28.5 C-5.5,28.5 -3,25.5 -1,21.5 L-0.5,27 L-2.6,32.5 L2.6,32.5 L0.5,27 L1,21.5 C3,25.5 5.5,28.5 9.5,28.5 C15.5,28.5 16.5,21.5 14,17.5 C11,13 1.5,2.5 0,0 Z" transform="translate(333.6,854.6) scale(1.000)"/>
<path d="M0,0 C-1.5,2.5 -11,13 -14,17.5 C-16.5,21.5 -15.5,28.5 -9.5,28.5 C-5.5,28.5 -3,25.5 -1,21.5 L-0.5,27 L-2.6,32.5 L2.6,32.5 L0.5,27 L1,21.5 C3,25.5 5.5,28.5 9.5,28.5 C15.5,28.5 16.5,21.5 14,17.5 C11,13 1.5,2.5 0,0 Z" transform="translate(489.2,797.2) scale(1.000)"/>
<path d="M0,0 C-1.5,2.5 -11,13 -14,17.5 C-16.5,21.5 -15.5,28.5 -9.5,28.5 C-5.5,28.5 -3,25.5 -1,21.5 L-0.5,27 L-2.6,32.5 L2.6,32.5 L0.5,27 L1,21.5 C3,25.5 5.5,28.5 9.5,28.5 C15.5,28.5 16.5,21.5 14,17.5 C11,13 1.5,2.5 0,0 Z" transform="translate(974.5,815.1) scale(1.000)"/>
<path d="M0,0 C-1.5,2.5 -11,13 -14,17.5 C-16.5,21.5 -15.5,28.5 -9.5,28.5 C-5.5,28.5 -3,25.5 -1,21.5 L-0.5,27 L-2.6,32.5 L2.6,32.5 L0.5,27 L1,21.5 C3,25.5 5.5,28.5 9.5,28.5 C15.5,28.5 16.5,21.5 14,17.5 C11,13 1.5,2.5 0,0 Z" transform="translate(1579.4,911.5) scale(1.000)"/>
<path d="M0,0 C-1.5,2.5 -11,13 -14,17.5 C-16.5,21.5 -15.5,28.5 -9.5,28.5 C-5.5,28.5 -3,25.5 -1,21.5 L-0.5,27 L-2.6,32.5 L2.6,32.5 L0.5,27 L1,21.5 C3,25.5 5.5,28.5 9.5,28.5 C15.5,28.5 16.5,21.5 14,17.5 C11,13 1.5,2.5 0,0 Z" transform="translate(1636.5,921.0) scale(1.000)"/>
<path d="M0,0 C-1.5,2.5 -11,13 -14,17.5 C-16.5,21.5 -15.5,28.5 -9.5,28.5 C-5.5,28.5 -3,25.5 -1,21.5 L-0.5,27 L-2.6,32.5 L2.6,32.5 L0.5,27 L1,21.5 C3,25.5 5.5,28.5 9.5,28.5 C15.5,28.5 16.5,21.5 14,17.5 C11,13 1.5,2.5 0,0 Z" transform="translate(1923.0,902.3) scale(1.000)"/>
<path d="M0,0 C-1.5,2.5 -11,13 -14,17.5 C-16.5,21.5 -15.5,28.5 -9.5,28.5 C-5.5,28.5 -3,25.5 -1,21.5 L-0.5,27 L-2.6,32.5 L2.6,32.5 L0.5,27 L1,21.5 C3,25.5 5.5,28.5 9.5,28.5 C15.5,28.5 16.5,21.5 14,17.5 C11,13 1.5,2.5 0,0 Z" transform="translate(2024.9,917.1) scale(1.000)"/>
<path d="M0,0 C-1.5,2.5 -11,13 -14,17.5 C-16.5,21.5 -15.5,28.5 -9.5,28.5 C-5.5,28.5 -3,25.5 -1,21.5 L-0.5,27 L-2.6,32.5 L2.6,32.5 L0.5,27 L1,21.5 C3,25.5 5.5,28.5 9.5,28.5 C15.5,28.5 16.5,21.5 14,17.5 C11,13 1.5,2.5 0,0 Z" transform="translate(2073.8,919.0) scale(1.000)"/>
<path d="M0,0 C-1.5,2.5 -11,13 -14,17.5 C-16.5,21.5 -15.5,28.5 -9.5,28.5 C-5.5,28.5 -3,25.5 -1,21.5 L-0.5,27 L-2.6,32.5 L2.6,32.5 L0.5,27 L1,21.5 C3,25.5 5.5,28.5 9.5,28.5 C15.5,28.5 16.5,21.5 14,17.5 C11,13 1.5,2.5 0,0 Z" transform="translate(330.8,1069.0) scale(1.000)"/>
<path d="M0,0 C-1.5,2.5 -11,13 -14,17.5 C-16.5,21.5 -15.5,28.5 -9.5,28.5 C-5.5,28.5 -3,25.5 -1,21.5 L-0.5,27 L-2.6,32.5 L2.6,32.5 L0.5,27 L1,21.5 C3,25.5 5.5,28.5 9.5,28.5 C15.5,28.5 16.5,21.5 14,17.5 C11,13 1.5,2.5 0,0 Z" transform="translate(491.4,1002.9) scale(1.000)"/>
<path d="M0,0 C-1.5,2.5 -11,13 -14,17.5 C-16.5,21.5 -15.5,28.5 -9.5,28.5 C-5.5,28.5 -3,25.5 -1,21.5 L-0.5,27 L-2.6,32.5 L2.6,32.5 L0.5,27 L1,21.5 C3,25.5 5.5,28.5 9.5,28.5 C15.5,28.5 16.5,21.5 14,17.5 C11,13 1.5,2.5 0,0 Z" transform="translate(977.8,1008.5) scale(1.000)"/>
<path d="M0,0 C-1.5,2.5 -11,13 -14,17.5 C-16.5,21.5 -15.5,28.5 -9.5,28.5 C-5.5,28.5 -3,25.5 -1,21.5 L-0.5,27 L-2.6,32.5 L2.6,32.5 L0.5,27 L1,21.5 C3,25.5 5.5,28.5 9.5,28.5 C15.5,28.5 16.5,21.5 14,17.5 C11,13 1.5,2.5 0,0 Z" transform="translate(1578.3,1111.6) scale(1.000)"/>
<path d="M0,0 C-1.5,2.5 -11,13 -14,17.5 C-16.5,21.5 -15.5,28.5 -9.5,28.5 C-5.5,28.5 -3,25.5 -1,21.5 L-0.5,27 L-2.6,32.5 L2.6,32.5 L0.5,27 L1,21.5 C3,25.5 5.5,28.5 9.5,28.5 C15.5,28.5 16.5,21.5 14,17.5 C11,13 1.5,2.5 0,0 Z" transform="translate(1642.4,1124.6) scale(1.000)"/>
<path d="M0,0 C-1.5,2.5 -11,13 -14,17.5 C-16.5,21.5 -15.5,28.5 -9.5,28.5 C-5.5,28.5 -3,25.5 -1,21.5 L-0.5,27 L-2.6,32.5 L2.6,32.5 L0.5,27 L1,21.5 C3,25.5 5.5,28.5 9.5,28.5 C15.5,28.5 16.5,21.5 14,17.5 C11,13 1.5,2.5 0,0 Z" transform="translate(1922.3,1102.3) scale(1.000)"/>
<path d="M0,0 C-1.5,2.5 -11,13 -14,17.5 C-16.5,21.5 -15.5,28.5 -9.5,28.5 C-5.5,28.5 -3,25.5 -1,21.5 L-0.5,27 L-2.6,32.5 L2.6,32.5 L0.5,27 L1,21.5 C3,25.5 5.5,28.5 9.5,28.5 C15.5,28.5 16.5,21.5 14,17.5 C11,13 1.5,2.5 0,0 Z" transform="translate(2020.5,1120.9) scale(1.000)"/>
<path d="M0,0 C-1.5,2.5 -11,13 -14,17.5 C-16.5,21.5 -15.5,28.5 -9.5,28.5 C-5.5,28.5 -3,25.5 -1,21.5 L-0.5,27 L-2.6,32.5 L2.6,32.5 L0.5,27 L1,21.5 C3,25.5 5.5,28.5 9.5,28.5 C15.5,28.5 16.5,21.5 14,17.5 C11,13 1.5,2.5 0,0 Z" transform="translate(2077.5,1117.1) scale(1.000)"/>
<path d="M0,0 C-1.5,2.5 -11,13 -14,17.5 C-16.5,21.5 -15.5,28.5 -9.5,28.5 C-5.5,28.5 -3,25.5 -1,21.5 L-0.5,27 L-2.6,32.5 L2.6,32.5 L0.5,27 L1,21.5 C3,25.5 5.5,28.5 9.5,28.5 C15.5,28.5 16.5,21.5 14,17.5 C11,13 1.5,2.5 0,0 Z" transform="translate(335.1,1279.0) scale(1.000)"/>
<path d="M0,0 C-1.5,2.5 -11,13 -14,17.5 C-16.5,21.5 -15.5,28.5 -9.5,28.5 C-5.5,28.5 -3,25.5 -1,21.5 L-0.5,27 L-2.6,32.5 L2.6,32.5 L0.5,27 L1,21.5 C3,25.5 5.5,28.5 9.5,28.5 C15.5,28.5 16.5,21.5 14,17.5 C11,13 1.5,2.5 0,0 Z" transform="translate(490.9,1210.7) scale(1.000)"/>
<path d="M0,0 C-1.5,2.5 -11,13 -14,17.5 C-16.5,21.5 -15.5,28.5 -9.5,28.5 C-5.5,28.5 -3,25.5 -1,21.5 L-0.5,27 L-2.6,32.5 L2.6,32.5 L0.5,27 L1,21.5 C3,25.5 5.5,28.5 9.5,28.5 C15.5,28.5 16.5,21.5 14,17.5 C11,13 1.5,2.5 0,0 Z" transform="translate(976.7,1198.8) scale(1.000)"/>
<path d="M0,0 C-1.5,2.5 -11,13 -14,17.5 C-16.5,21.5 -15.5,28.5 -9.5,28.5 C-5.5,28.5 -3,25.5 -1,21.5 L-0.5,27 L-2.6,32.5 L2.6,32.5 L0.5,27 L1,21.5 C3,25.5 5.5,28.5 9.5,28.5 C15.5,28.5 16.5,21.5 14,17.5 C11,13 1.5,2.5 0,0 Z" transform="translate(1578.3,1306.1) scale(1.000)"/>
<path d="M0,0 C-1.5,2.5 -11,13 -14,17.5 C-16.5,21.5 -15.5,28.5 -9.5,28.5 C-5.5,28.5 -3,25.5 -1,21.5 L-0.5,27 L-2.6,32.5 L2.6,32.5 L0.5,27 L1,21.5 C3,25.5 5.5,28.5 9.5,28.5 C15.5,28.5 16.5,21.5 14,17.5 C11,13 1.5,2.5 0,0 Z" transform="translate(1645.0,1322.7) scale(1.000)"/>
<path d="M0,0 C-1.5,2.5 -11,13 -14,17.5 C-16.5,21.5 -15.5,28.5 -9.5,28.5 C-5.5,28.5 -3,25.5 -1,21.5 L-0.5,27 L-2.6,32.5 L2.6,32.5 L0.5,27 L1,21.5 C3,25.5 5.5,28.5 9.5,28.5 C15.5,28.5 16.5,21.5 14,17.5 C11,13 1.5,2.5 0,0 Z" transform="translate(1920.4,1298.6) scale(1.000)"/>
<path d="M0,0 C-1.5,2.5 -11,13 -14,17.5 C-16.5,21.5 -15.5,28.5 -9.5,28.5 C-5.5,28.5 -3,25.5 -1,21.5 L-0.5,27 L-2.6,32.5 L2.6,32.5 L0.5,27 L1,21.5 C3,25.5 5.5,28.5 9.5,28.5 C15.5,28.5 16.5,21.5 14,17.5 C11,13 1.5,2.5 0,0 Z" transform="translate(2016.8,1322.7) scale(1.000)"/>
<path d="M0,0 C-1.5,2.5 -11,13 -14,17.5 C-16.5,21.5 -15.5,28.5 -9.5,28.5 C-5.5,28.5 -3,25.5 -1,21.5 L-0.5,27 L-2.6,32.5 L2.6,32.5 L0.5,27 L1,21.5 C3,25.5 5.5,28.5 9.5,28.5 C15.5,28.5 16.5,21.5 14,17.5 C11,13 1.5,2.5 0,0 Z" transform="translate(2073.1,1307.9) scale(1.000)"/>
<path d="M0,0 C-1.5,2.5 -11,13 -14,17.5 C-16.5,21.5 -15.5,28.5 -9.5,28.5 C-5.5,28.5 -3,25.5 -1,21.5 L-0.5,27 L-2.6,32.5 L2.6,32.5 L0.5,27 L1,21.5 C3,25.5 5.5,28.5 9.5,28.5 C15.5,28.5 16.5,21.5 14,17.5 C11,13 1.5,2.5 0,0 Z" transform="translate(945.5,71.0) scale(1.000)"/>
</g>
<g fill="#fa0a84" stroke="#c8005e" stroke-width="1.6" stroke-linejoin="miter">
<path d="M382.2,294.2 L392.9,308.1 L382.2,322.0 L371.5,308.1 Z"/>
<path d="M491.8,193.2 L502.5,207.1 L491.8,221.0 L481.1,207.1 Z"/>
<path d="M674.7,275.7 L685.4,289.6 L674.7,303.5 L664.0,289.6 Z"/>
<path d="M772.3,248.2 L783.0,262.1 L772.3,276.0 L761.6,262.1 Z"/>
<path d="M926.3,295.9 L937.0,309.8 L926.3,323.7 L915.6,309.8 Z"/>
<path d="M1439.0,309.5 L1449.7,323.4 L1439.0,337.3 L1428.3,323.4 Z"/>
<path d="M1640.4,309.5 L1651.1,323.4 L1640.4,337.3 L1629.7,323.4 Z"/>
<path d="M1832.8,312.5 L1843.5,326.4 L1832.8,340.3 L1822.1,326.4 Z"/>
<path d="M1932.8,303.9 L1943.5,317.8 L1932.8,331.7 L1922.1,317.8 Z"/>
<path d="M382.2,495.2 L392.9,509.1 L382.2,523.0 L371.5,509.1 Z"/>
<path d="M491.8,390.9 L502.5,404.8 L491.8,418.7 L481.1,404.8 Z"/>
<path d="M680.2,488.7 L690.9,502.6 L680.2,516.5 L669.5,502.6 Z"/>
<path d="M772.3,458.9 L783.0,472.8 L772.3,486.7 L761.6,472.8 Z"/>
<path d="M929.4,503.5 L940.1,517.4 L929.4,531.3 L918.7,517.4 Z"/>
<path d="M1444.5,508.4 L1455.2,522.3 L1444.5,536.2 L1433.8,522.3 Z"/>
<path d="M1644.3,508.4 L1655.0,522.3 L1644.3,536.2 L1633.6,522.3 Z"/>
<path d="M1934.2,508.2 L1944.9,522.1 L1934.2,536.0 L1923.5,522.1 Z"/>
<path d="M385.0,713.9 L395.7,727.8 L385.0,741.7 L374.3,727.8 Z"/>
<path d="M490.3,599.9 L501.0,613.8 L490.3,627.7 L479.6,613.8 Z"/>
<path d="M675.4,711.7 L686.1,725.6 L675.4,739.5 L664.7,725.6 Z"/>
<path d="M775.5,700.5 L786.2,714.4 L775.5,728.3 L764.8,714.4 Z"/>
<path d="M929.4,711.3 L940.1,725.2 L929.4,739.1 L918.7,725.2 Z"/>
<path d="M1447.7,722.7 L1458.4,736.6 L1447.7,750.5 L1437.0,736.6 Z"/>
<path d="M1641.0,722.7 L1651.7,736.6 L1641.0,750.5 L1630.3,736.6 Z"/>
<path d="M1926.2,711.7 L1936.9,725.6 L1926.2,739.5 L1915.5,725.6 Z"/>
<path d="M1167.5,70.7 L1178.2,84.6 L1167.5,98.5 L1156.8,84.6 Z"/>
</g>
<g fill="#7a0404">
<g transform="translate(813.9,1326.0) scale(1.000)"><circle cx="0.0" cy="7.3" r="7.3"/><circle cx="-11.1" cy="22.3" r="7.1"/><circle cx="11.1" cy="22.3" r="7.1"/><path d="M-3.5,11 L3.5,11 L9,20 L9,25 L-9,25 L-9,20 Z M-0.7,24 L-2.6,34.5 L2.6,34.5 L0.7,24 Z"/></g>
<g transform="translate(1495.8,62.3) scale(1.000)"><circle cx="0.0" cy="7.3" r="7.3"/><circle cx="-11.1" cy="22.3" r="7.1"/><circle cx="11.1" cy="22.3" r="7.1"/><path d="M-3.5,11 L3.5,11 L9,20 L9,25 L-9,25 L-9,20 Z M-0.7,24 L-2.6,34.5 L2.6,34.5 L0.7,24 Z"/></g>
</g>
<g fill="none" stroke="#000" stroke-width="6" stroke-linecap="round" stroke-linejoin="round">
<path d="M274.6,1455 L274.6,29 L2186.0,29 L2186.0,1455 Z"/>
<path d="M274.6,1455 L274.6,1483 M465.6,1455 L465.6,1470 M656.7,1455 L656.7,1483 M847.7,1455 L847.7,1470 M1038.8,1455 L1038.8,1483 M1229.8,1455 L1229.8,1470 M1420.8,1455 L1420.8,1483 M1611.9,1455 L1611.9,1470 M1802.9,1455 L1802.9,1483 M1994.0,1455 L1994.0,1470 M2186.0,1455 L2186.0,1483"/>
</g>
<text class="ser" font-size="60" fill="#6a6a00" transform="translate(-27.34,-2.80) scale(1.0241,1.0074)" x="1124.8" y="347.0">HT 1100</text>
<text class="ser" font-size="60" fill="#c000c0" transform="translate(-13.12,-13.27) scale(1.0114,1.0230)" x="1124.8" y="548.2">HT 950</text>
<text class="ser" font-size="60" fill="#006666" transform="translate(-15.01,-4.21) scale(1.0133,1.0050)" x="1124.8" y="750.9">HT 800</text>
<text class="ser" font-size="60" fill="#000099" transform="translate(-12.35,-25.71) scale(1.0108,1.0269)" x="1124.8" y="953.9">HT 650</text>
<text class="ser" font-size="59.3" fill="#b5000a" transform="translate(3.52,12.30) scale(0.9969,0.9888)" x="1128.6" y="1154.5">As-sprayed</text>
<text class="ser" font-size="60.8" fill="#000" transform="translate(2.15,2.63) scale(0.9980,0.9978)" x="1131.0" y="1357.5">Powder</text>
<text class="ser" font-size="61.2" fill="#000" transform="translate(1.26,0.31) scale(0.9989,0.9969)" x="998.6" y="101.8">WC</text>
<text class="ser" font-size="60.85" fill="#c8006a" transform="translate(1.07,1.25) scale(0.9992,0.9791)" x="1199.3" y="102.3">Co6W6C</text>
<text class="ser" font-size="60.25" fill="#660000" transform="translate(0.74,-1.36) scale(0.9996,1.0137)" x="1530.4" y="97.7">Co</text>
<text class="san" font-size="64" text-anchor="middle" fill="#000" transform="translate(-1.99,-78.49) scale(1.0038,1.0502)" x="274.6" y="1553.0">30</text>
<text class="san" font-size="64" text-anchor="middle" fill="#000" transform="translate(-11.47,-79.68) scale(1.0169,1.0510)" x="656.7" y="1553.0">40</text>
<text class="san" font-size="64" text-anchor="middle" fill="#000" transform="translate(-17.21,-80.36) scale(1.0160,1.0514)" x="1038.8" y="1553.0">50</text>
<text class="san" font-size="64" text-anchor="middle" fill="#000" transform="translate(-22.47,-80.89) scale(1.0159,1.0518)" x="1420.9" y="1553.0">60</text>
<text class="san" font-size="64" text-anchor="middle" fill="#000" transform="translate(-54.98,-77.49) scale(1.0302,1.0496)" x="1803.0" y="1553.0">70</text>
<text class="san" font-size="64" text-anchor="middle" fill="#000" transform="translate(10.87,-79.54) scale(0.9953,1.0509)" x="2185.0" y="1553.0">80</text>
<text class="san" font-size="70" fill="#000" transform="translate(51.00,-23.66) scale(0.9559,1.0140)" x="1150.9" y="1650.2">2</text>
<text class="san" font-size="76" fill="#000" transform="translate(-53.21,-10.78) scale(1.0436,1.0065)" x="1191.9" y="1650.4">θ</text>
<text font-family="DejaVu Sans" font-weight="bold" font-size="81.6" fill="#000" transform="translate(-66.65,-40.68) scale(1.0523,1.0246)" x="1268.8" y="1654.4">/</text>
<text class="san" font-size="72.7" fill="#000" transform="translate(264.99,34.45) scale(0.7962,0.9800)" x="1304.5" y="1648.1">(</text>
<text font-family="Liberation Sans" font-weight="bold" font-size="74" fill="#000" transform="translate(172.62,213.45) scale(0.8712,0.8664)" x="1325.4" y="1648.5">°</text>
<text class="san" font-size="72.7" fill="#000" transform="translate(338.84,34.45) scale(0.7574,0.9800)" x="1394.6" y="1648.1">)</text>
<text class="san" font-size="77" fill="#000" transform="translate(80.6,1044.4) rotate(-90)" textLength="524.4" lengthAdjust="spacingAndGlyphs">Intensity (a.u.)</text>
</svg>
</body></html>
